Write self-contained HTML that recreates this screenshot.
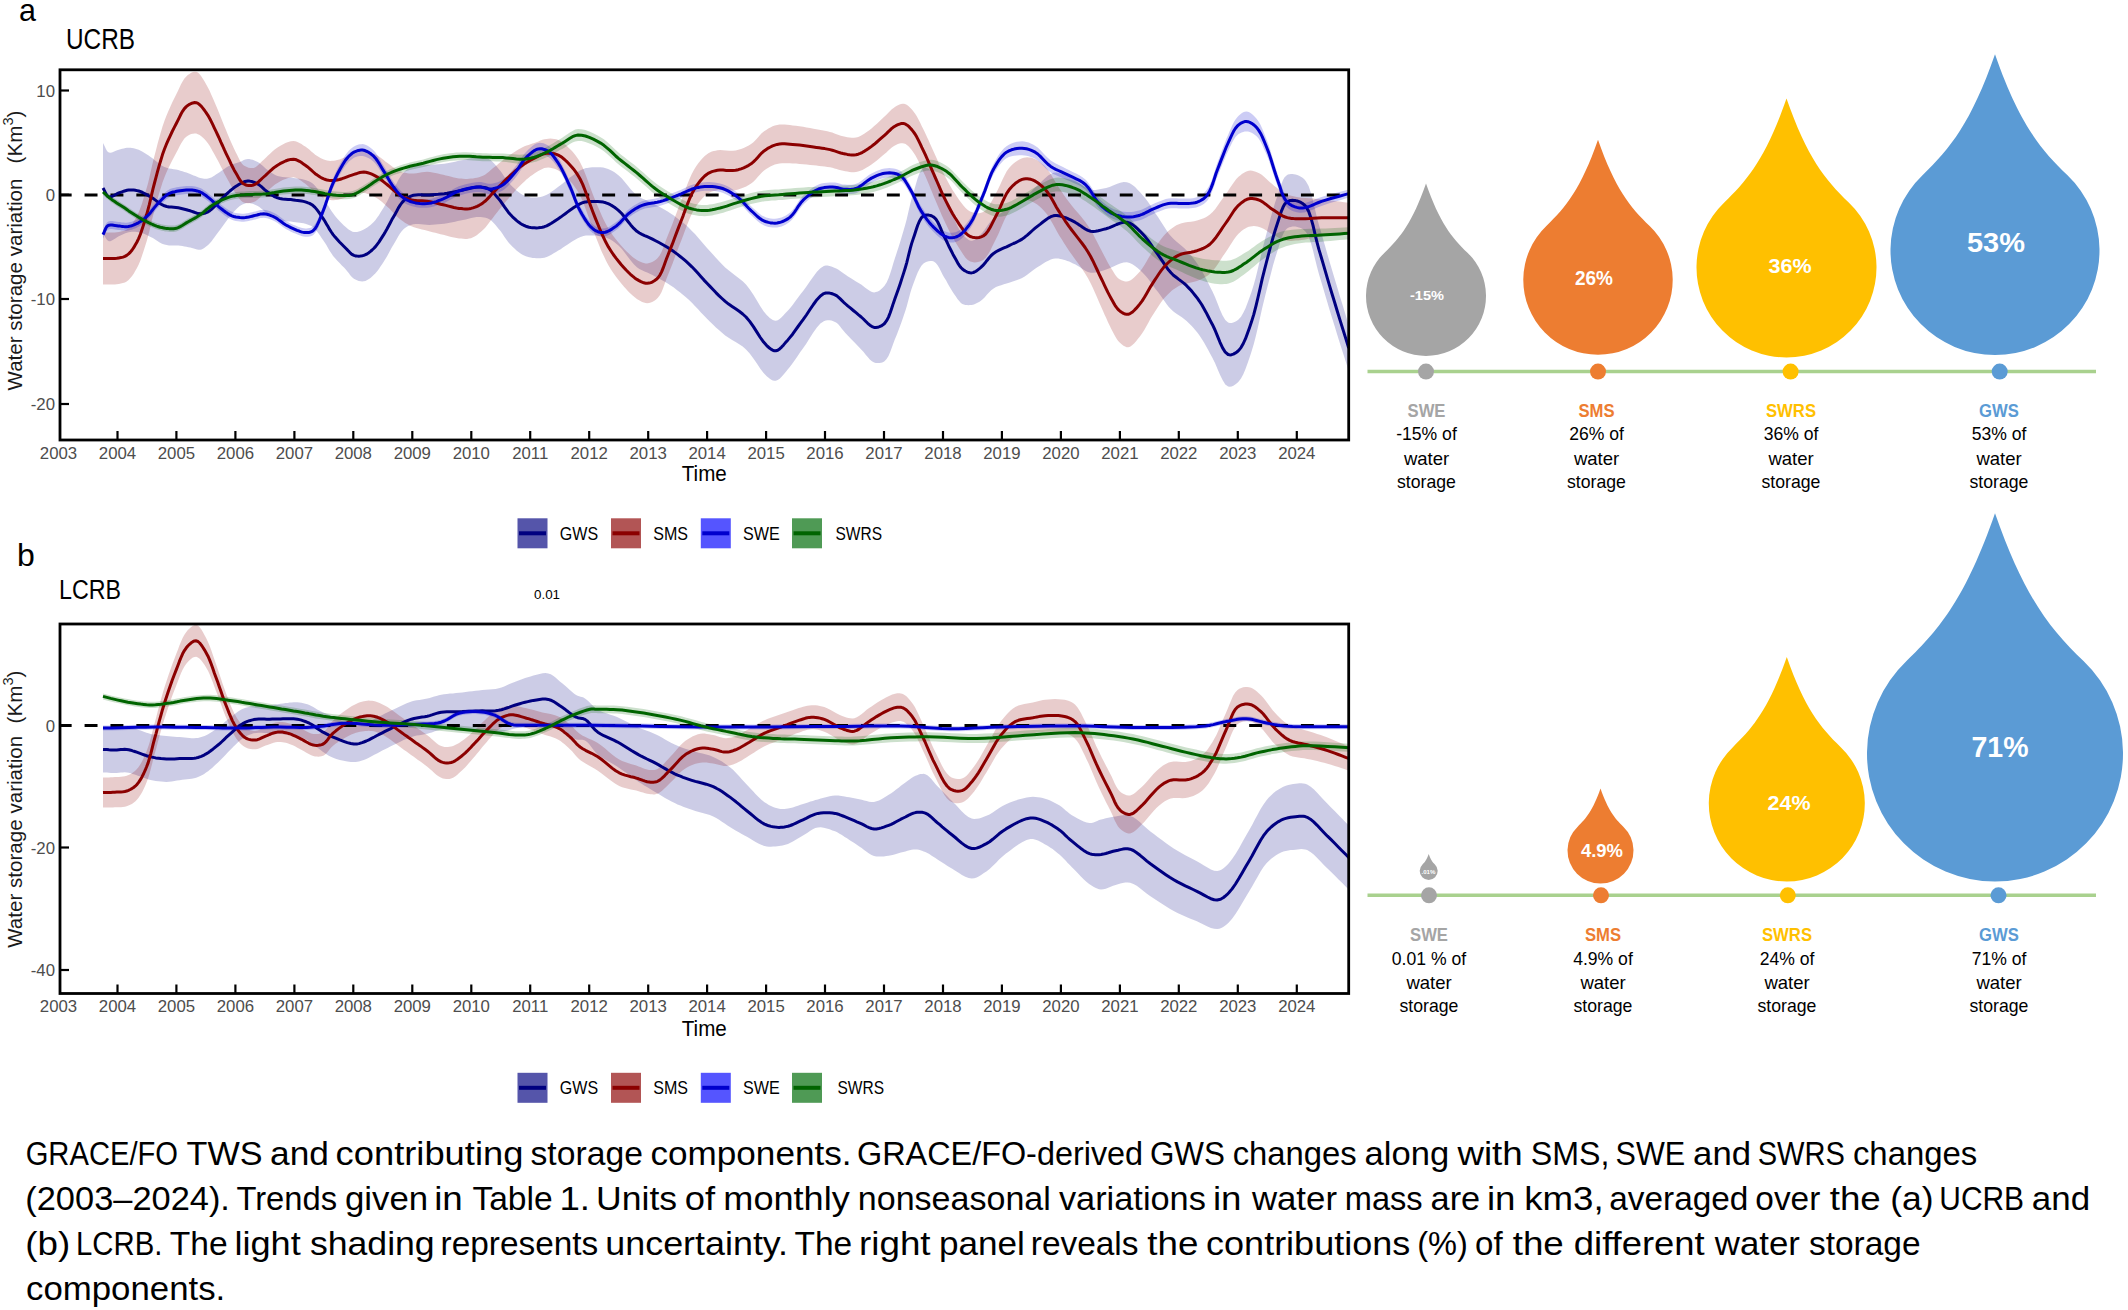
<!DOCTYPE html>
<html><head><meta charset="utf-8"><title>GRACE/FO storage components</title>
<style>html,body{margin:0;padding:0;background:#fff;}body{width:2128px;height:1310px;position:relative;overflow:hidden;font-family:"Liberation Sans", sans-serif;}</style>
</head><body>
<svg width="2128" height="1310" viewBox="0 0 2128 1310" style="position:absolute;left:0;top:0" font-family='"Liberation Sans", sans-serif'>
<rect width="2128" height="1310" fill="#fff"/>
<text x="19" y="21" font-size="30.5" fill="#000" text-anchor="start" font-weight="normal" >a</text>
<text x="66" y="48.6" font-size="28.8" fill="#000" text-anchor="start" font-weight="normal" textLength="69" lengthAdjust="spacingAndGlyphs" >UCRB</text>
<text x="17" y="566" font-size="32" fill="#000" text-anchor="start" font-weight="normal" >b</text>
<text x="59" y="599" font-size="27" fill="#000" text-anchor="start" font-weight="normal" textLength="62" lengthAdjust="spacingAndGlyphs" >LCRB</text>
<clipPath id="ca"><rect x="60" y="69.8" width="1288.7" height="370.2"/></clipPath>
<g clip-path="url(#ca)">
<path d="M103.0,143.0 L103.9,144.7 L104.8,146.6 L105.7,148.6 L106.6,150.3 L107.7,151.7 L108.9,152.5 L110.3,152.7 L111.9,152.4 L113.6,151.8 L115.3,151.0 L117.1,150.2 L118.8,149.7 L120.4,149.3 L122.1,148.8 L123.7,148.4 L125.4,148.1 L127.0,147.8 L128.7,147.7 L130.4,147.8 L132.0,148.0 L133.7,148.3 L135.4,148.7 L137.0,149.2 L138.7,149.8 L140.7,150.7 L142.6,151.7 L144.6,152.9 L146.6,154.2 L148.6,155.6 L150.6,156.9 L152.8,158.6 L155.1,160.4 L157.4,162.2 L159.7,164.0 L162.0,165.7 L164.4,167.0 L166.7,167.8 L169.0,168.4 L171.4,168.8 L173.7,169.2 L176.0,169.5 L178.3,170.1 L180.4,170.7 L182.4,171.3 L184.4,172.0 L186.4,172.6 L188.3,173.3 L190.2,174.0 L191.9,174.7 L193.6,175.4 L195.3,176.1 L197.0,176.8 L198.6,177.4 L200.2,177.9 L201.6,178.2 L202.9,178.5 L204.2,178.7 L205.5,178.8 L206.8,178.8 L208.1,178.6 L209.7,178.1 L211.3,177.4 L213.0,176.4 L214.6,175.4 L216.3,174.3 L218.0,173.2 L219.9,172.0 L221.9,170.6 L223.9,169.2 L225.9,167.8 L227.9,166.5 L229.9,165.5 L231.6,164.7 L233.3,164.1 L234.9,163.5 L236.6,163.0 L238.2,162.5 L239.8,161.9 L241.2,161.4 L242.5,160.7 L243.8,160.1 L245.1,159.6 L246.4,159.2 L247.8,159.0 L249.4,159.1 L251.0,159.4 L252.7,159.8 L254.4,160.5 L256.1,161.2 L257.7,162.0 L259.4,163.1 L261.1,164.4 L262.7,165.8 L264.3,167.3 L265.9,168.7 L267.6,170.0 L269.2,171.1 L270.7,172.2 L272.3,173.3 L273.9,174.3 L275.7,175.2 L277.5,175.9 L279.9,176.5 L282.5,176.9 L285.3,177.2 L288.1,177.4 L290.8,177.6 L293.4,177.9 L295.5,178.2 L297.6,178.5 L299.6,178.8 L301.6,179.1 L303.5,179.5 L305.3,180.0 L306.8,180.5 L308.1,181.0 L309.5,181.6 L310.8,182.3 L312.0,183.1 L313.3,184.1 L315.0,185.8 L316.7,187.8 L318.4,190.0 L320.0,192.4 L321.6,194.8 L323.2,197.2 L324.9,199.8 L326.4,202.5 L328.0,205.3 L329.6,208.0 L331.3,210.8 L333.1,213.3 L335.1,215.9 L337.2,218.4 L339.5,220.9 L341.7,223.3 L343.9,225.4 L346.0,227.2 L347.4,228.4 L348.6,229.4 L349.9,230.3 L351.2,231.1 L352.5,231.7 L353.9,232.1 L355.5,232.1 L357.1,231.9 L358.8,231.5 L360.5,230.9 L362.2,230.2 L363.8,229.5 L365.5,228.5 L367.2,227.5 L368.9,226.3 L370.5,224.9 L372.1,223.5 L373.7,221.9 L375.5,219.9 L377.2,217.6 L378.9,215.2 L380.5,212.6 L382.1,210.0 L383.7,207.4 L385.4,204.5 L387.1,201.4 L388.7,198.2 L390.3,195.1 L391.9,191.9 L393.6,188.9 L395.2,186.0 L396.8,183.0 L398.3,180.0 L400.0,177.2 L401.7,174.7 L403.5,172.5 L405.0,171.1 L406.5,169.8 L408.1,168.8 L409.8,167.8 L411.5,167.0 L413.4,166.3 L415.8,165.7 L418.3,165.4 L421.0,165.2 L423.8,165.2 L426.5,165.1 L429.3,164.9 L432.2,164.7 L435.2,164.5 L438.2,164.3 L441.2,164.0 L444.2,163.7 L447.1,163.3 L449.8,162.8 L452.5,162.3 L455.1,161.7 L457.7,161.1 L460.4,160.6 L463.0,160.0 L465.7,159.4 L468.4,158.7 L471.2,158.1 L473.9,157.5 L476.5,157.1 L478.9,157.0 L480.7,157.0 L482.4,157.2 L484.1,157.4 L485.7,157.8 L487.3,158.3 L488.8,159.0 L490.6,160.1 L492.2,161.6 L493.9,163.2 L495.5,165.1 L497.1,167.0 L498.7,168.9 L500.7,171.3 L502.6,174.1 L504.5,176.9 L506.5,179.7 L508.5,182.4 L510.6,184.8 L512.5,186.8 L514.5,188.6 L516.4,190.4 L518.5,192.1 L520.5,193.5 L522.5,194.7 L524.1,195.5 L525.8,196.2 L527.4,196.7 L529.1,197.1 L530.8,197.4 L532.5,197.5 L534.4,197.6 L536.4,197.5 L538.4,197.3 L540.4,196.9 L542.4,196.4 L544.4,195.7 L546.7,194.7 L549.1,193.4 L551.4,191.8 L553.7,190.2 L556.0,188.5 L558.3,186.8 L560.7,185.1 L563.0,183.2 L565.3,181.3 L567.7,179.4 L569.9,177.6 L572.1,176.0 L573.8,174.7 L575.5,173.5 L577.2,172.3 L578.8,171.2 L580.5,170.2 L582.1,169.4 L583.4,168.9 L584.7,168.5 L585.9,168.1 L587.2,167.9 L588.5,167.7 L590.0,167.5 L592.3,167.3 L594.9,167.2 L597.7,167.2 L600.5,167.3 L603.2,167.6 L605.8,168.2 L608.1,168.9 L610.3,169.9 L612.4,171.0 L614.5,172.3 L616.5,173.8 L618.7,175.5 L621.7,178.2 L624.6,181.7 L627.7,185.4 L630.7,189.2 L633.8,192.6 L636.9,195.4 L639.4,197.1 L642.0,198.5 L644.6,199.6 L647.2,200.7 L649.8,201.8 L652.5,203.1 L655.5,204.7 L658.5,206.3 L661.6,208.0 L664.7,209.7 L667.7,211.6 L670.7,213.5 L673.8,215.6 L676.9,217.9 L679.9,220.2 L682.9,222.6 L685.9,225.1 L688.8,227.8 L691.9,230.9 L695.0,234.1 L698.0,237.6 L701.0,241.0 L704.0,244.5 L707.0,247.9 L710.0,251.2 L713.0,254.5 L715.9,257.8 L718.9,261.1 L722.0,264.3 L725.2,267.4 L728.6,270.3 L732.1,273.0 L735.6,275.7 L739.2,278.4 L742.7,281.3 L746.0,284.6 L749.7,289.3 L753.4,294.8 L756.9,300.6 L760.3,306.2 L763.6,311.2 L766.7,314.9 L768.3,316.4 L769.8,317.9 L771.3,319.1 L772.8,320.0 L774.3,320.6 L775.8,320.8 L777.7,320.3 L779.6,319.1 L781.6,317.3 L783.5,315.3 L785.5,313.1 L787.5,311.0 L790.0,308.2 L792.6,305.0 L795.1,301.6 L797.7,298.1 L800.3,294.5 L803.1,291.0 L806.4,286.6 L809.8,281.5 L813.4,276.5 L816.9,271.8 L820.4,268.2 L823.8,266.0 L825.7,265.6 L827.6,265.6 L829.5,265.9 L831.4,266.5 L833.2,267.2 L835.0,267.9 L836.8,268.7 L838.5,269.8 L840.2,271.0 L842.0,272.2 L843.7,273.5 L845.6,274.8 L848.0,276.4 L850.6,278.0 L853.3,279.7 L856.0,281.4 L858.6,283.0 L861.2,284.6 L863.4,286.2 L865.6,287.9 L867.8,289.6 L870.0,291.0 L872.0,292.0 L874.1,292.4 L875.9,292.1 L877.8,291.4 L879.6,290.4 L881.3,289.1 L882.9,287.5 L884.5,285.7 L886.6,282.4 L888.5,278.2 L890.2,273.5 L891.8,268.4 L893.3,263.3 L894.9,258.3 L896.7,252.8 L898.5,247.2 L900.3,241.5 L902.0,235.7 L903.7,230.0 L905.3,224.4 L906.7,219.2 L907.9,214.0 L909.1,208.8 L910.3,203.7 L911.6,198.6 L913.1,193.7 L914.6,188.8 L916.1,183.4 L917.7,178.1 L919.4,173.4 L921.3,169.9 L923.5,168.0 L925.1,167.7 L926.8,168.0 L928.6,168.8 L930.5,169.9 L932.2,171.2 L933.8,172.7 L935.9,175.4 L937.7,178.9 L939.4,182.9 L941.0,187.2 L942.5,191.5 L944.2,195.6 L946.0,199.6 L947.7,203.8 L949.4,208.1 L951.2,212.2 L952.9,216.2 L954.6,219.8 L955.9,222.5 L957.1,225.2 L958.3,227.7 L959.6,230.0 L960.9,232.2 L962.4,234.1 L963.8,235.7 L965.3,237.2 L966.8,238.6 L968.4,239.8 L970.0,240.5 L971.5,240.8 L973.0,240.6 L974.5,239.8 L976.0,238.7 L977.5,237.4 L979.1,235.9 L980.6,234.4 L982.7,232.2 L984.8,229.5 L986.8,226.6 L989.0,223.6 L991.2,220.8 L993.6,218.4 L996.0,216.4 L998.6,214.7 L1001.2,213.1 L1003.9,211.5 L1006.6,210.0 L1009.1,208.5 L1011.3,207.1 L1013.5,205.8 L1015.7,204.6 L1017.8,203.3 L1019.9,201.8 L1022.1,200.2 L1024.7,198.0 L1027.3,195.6 L1029.8,192.9 L1032.4,190.2 L1035.1,187.6 L1037.7,185.2 L1040.3,182.8 L1042.9,180.3 L1045.6,177.8 L1048.2,175.6 L1050.8,173.9 L1053.3,172.8 L1055.1,172.5 L1056.8,172.6 L1058.5,172.9 L1060.2,173.4 L1061.9,174.0 L1063.6,174.5 L1065.5,175.2 L1067.3,176.0 L1069.2,176.9 L1071.1,177.9 L1073.0,179.0 L1075.0,180.1 L1077.5,181.7 L1080.0,183.5 L1082.6,185.5 L1085.2,187.3 L1087.9,188.8 L1090.6,189.7 L1093.1,190.0 L1095.6,190.0 L1098.2,189.6 L1100.7,189.1 L1103.4,188.4 L1106.1,187.9 L1109.5,186.9 L1113.0,185.5 L1116.6,184.1 L1120.2,182.8 L1123.7,182.1 L1126.9,182.2 L1129.8,183.2 L1132.5,184.9 L1135.1,187.1 L1137.6,189.7 L1140.1,192.3 L1142.5,195.0 L1145.3,198.3 L1147.9,201.8 L1150.5,205.6 L1153.0,209.5 L1155.5,213.4 L1158.0,217.1 L1160.2,220.4 L1162.3,223.7 L1164.4,227.0 L1166.5,230.3 L1168.6,233.4 L1171.0,236.3 L1173.4,238.8 L1176.1,241.2 L1178.8,243.5 L1181.5,245.7 L1184.1,248.0 L1186.6,250.4 L1188.9,253.0 L1191.2,255.6 L1193.3,258.3 L1195.4,261.1 L1197.5,264.0 L1199.5,267.0 L1201.8,270.7 L1203.9,274.6 L1206.1,278.7 L1208.2,282.9 L1210.3,287.2 L1212.5,291.5 L1215.0,297.0 L1217.5,303.3 L1220.0,309.7 L1222.6,315.5 L1225.3,320.0 L1228.1,322.5 L1229.8,323.0 L1231.6,323.0 L1233.3,322.6 L1235.1,321.8 L1236.9,320.8 L1238.5,319.5 L1241.0,316.7 L1243.3,312.8 L1245.5,308.2 L1247.5,303.0 L1249.5,297.6 L1251.4,292.2 L1253.8,284.6 L1256.0,276.4 L1258.1,267.7 L1260.2,258.7 L1262.2,249.9 L1264.4,241.4 L1266.5,233.5 L1268.7,225.3 L1270.8,217.3 L1273.0,209.6 L1275.2,202.3 L1277.4,195.9 L1278.8,191.7 L1280.2,187.5 L1281.6,183.6 L1283.0,180.1 L1284.6,177.3 L1286.5,175.4 L1287.9,174.6 L1289.3,174.2 L1290.8,174.0 L1292.4,174.0 L1294.0,174.2 L1295.5,174.6 L1297.3,175.1 L1299.1,175.8 L1300.9,176.7 L1302.6,177.8 L1304.3,179.3 L1305.9,181.2 L1308.6,186.1 L1310.9,192.7 L1313.0,200.4 L1314.9,208.7 L1316.8,217.0 L1318.9,224.7 L1321.1,232.1 L1323.2,239.4 L1325.3,246.8 L1327.4,254.2 L1329.6,261.8 L1331.9,269.6 L1334.6,278.5 L1337.3,287.6 L1340.1,296.9 L1343.0,306.3 L1345.9,315.7 L1348.7,325.0 L1348.7,371.0 L1345.9,362.0 L1343.0,352.9 L1340.1,343.9 L1337.3,334.9 L1334.6,326.0 L1331.9,317.4 L1329.6,309.9 L1327.4,302.6 L1325.3,295.4 L1323.2,288.3 L1321.1,281.2 L1318.9,274.1 L1316.9,266.5 L1314.9,258.5 L1313.0,250.4 L1310.9,242.9 L1308.6,236.6 L1305.9,232.0 L1304.3,230.4 L1302.6,229.1 L1300.8,228.1 L1299.0,227.4 L1297.2,226.9 L1295.5,226.6 L1294.0,226.5 L1292.4,226.6 L1290.8,226.9 L1289.3,227.3 L1287.8,228.1 L1286.5,229.0 L1284.6,231.3 L1283.0,234.4 L1281.5,238.1 L1280.2,242.3 L1278.8,246.7 L1277.4,251.1 L1275.2,258.0 L1273.0,265.6 L1270.9,273.7 L1268.7,282.1 L1266.5,290.6 L1264.4,299.0 L1262.2,307.9 L1260.2,317.1 L1258.1,326.4 L1256.0,335.5 L1253.8,344.1 L1251.4,352.0 L1249.5,357.8 L1247.5,363.6 L1245.5,369.1 L1243.3,374.2 L1241.0,378.4 L1238.5,381.7 L1236.9,383.2 L1235.2,384.6 L1233.4,385.7 L1231.6,386.4 L1229.8,386.7 L1228.1,386.5 L1225.3,384.4 L1222.7,380.2 L1220.1,374.9 L1217.5,368.9 L1215.0,363.0 L1212.5,357.9 L1210.3,354.0 L1208.2,350.0 L1206.1,346.2 L1204.0,342.5 L1201.8,338.9 L1199.5,335.6 L1197.5,332.8 L1195.4,330.3 L1193.3,327.8 L1191.2,325.5 L1188.9,323.2 L1186.6,321.0 L1184.1,318.9 L1181.5,317.0 L1178.8,315.2 L1176.1,313.4 L1173.4,311.5 L1171.0,309.3 L1168.6,306.8 L1166.5,304.0 L1164.4,301.1 L1162.3,298.1 L1160.2,295.1 L1158.0,292.1 L1155.5,288.9 L1153.0,285.4 L1150.5,281.9 L1147.9,278.5 L1145.3,275.4 L1142.5,272.6 L1140.1,270.3 L1137.6,268.1 L1135.0,266.0 L1132.4,264.2 L1129.7,262.9 L1126.9,262.2 L1123.6,262.4 L1120.2,263.4 L1116.6,264.9 L1113.0,266.7 L1109.5,268.3 L1106.1,269.5 L1103.4,270.4 L1100.8,271.2 L1098.2,272.0 L1095.6,272.5 L1093.1,272.8 L1090.6,272.7 L1087.9,271.9 L1085.3,270.7 L1082.6,269.1 L1080.0,267.3 L1077.5,265.7 L1075.0,264.3 L1073.0,263.4 L1071.1,262.5 L1069.2,261.6 L1067.3,260.9 L1065.5,260.2 L1063.6,259.7 L1061.9,259.3 L1060.2,258.9 L1058.5,258.6 L1056.8,258.5 L1055.1,258.5 L1053.3,258.8 L1050.8,259.5 L1048.3,260.7 L1045.6,262.1 L1042.9,263.7 L1040.3,265.4 L1037.7,267.0 L1035.1,268.8 L1032.4,270.7 L1029.8,272.7 L1027.2,274.7 L1024.7,276.4 L1022.1,278.0 L1019.9,279.0 L1017.8,279.8 L1015.7,280.6 L1013.5,281.2 L1011.3,281.9 L1009.1,282.7 L1006.6,283.6 L1003.9,284.3 L1001.2,285.2 L998.6,286.0 L996.0,287.1 L993.6,288.4 L991.2,290.2 L989.0,292.4 L986.8,294.8 L984.8,297.2 L982.7,299.3 L980.6,301.0 L979.1,302.0 L977.5,302.8 L976.0,303.6 L974.5,304.2 L973.0,304.7 L971.5,305.0 L970.0,305.1 L968.4,305.2 L966.8,305.1 L965.3,304.9 L963.8,304.5 L962.4,303.9 L960.9,302.9 L959.6,301.6 L958.3,300.1 L957.1,298.4 L955.9,296.6 L954.6,294.8 L952.9,292.2 L951.2,289.4 L949.4,286.4 L947.7,283.4 L946.0,280.3 L944.2,277.4 L942.5,274.5 L940.9,271.3 L939.3,268.1 L937.6,265.2 L935.8,262.9 L933.8,261.5 L932.2,261.1 L930.4,261.0 L928.6,261.2 L926.8,261.8 L925.1,262.6 L923.5,263.6 L921.4,265.8 L919.5,268.9 L917.7,272.5 L916.1,276.5 L914.6,280.6 L913.1,284.5 L911.6,288.7 L910.3,293.0 L909.1,297.5 L907.9,302.0 L906.7,306.5 L905.3,311.0 L903.7,315.7 L902.1,320.6 L900.3,325.4 L898.5,330.2 L896.7,334.9 L894.9,339.3 L893.3,343.5 L891.8,347.8 L890.2,352.0 L888.5,355.9 L886.6,359.1 L884.5,361.3 L882.9,362.2 L881.2,362.8 L879.4,363.1 L877.6,363.1 L875.8,362.9 L874.1,362.4 L871.9,361.2 L869.8,359.4 L867.7,357.0 L865.5,354.5 L863.4,351.8 L861.2,349.4 L858.6,346.7 L856.0,344.0 L853.3,341.2 L850.6,338.4 L848.0,335.7 L845.6,333.2 L843.7,331.1 L842.0,328.9 L840.3,326.7 L838.7,324.8 L836.9,323.1 L835.0,321.9 L833.3,321.2 L831.4,320.6 L829.6,320.3 L827.6,320.2 L825.7,320.5 L823.8,321.2 L820.4,323.6 L816.9,327.6 L813.3,332.6 L809.8,338.1 L806.4,343.5 L803.1,348.2 L800.3,352.0 L797.7,355.9 L795.1,359.7 L792.6,363.3 L790.0,366.7 L787.5,369.8 L785.5,372.2 L783.6,374.5 L781.6,376.8 L779.7,378.7 L777.7,380.1 L775.8,380.8 L774.3,380.8 L772.8,380.5 L771.3,379.8 L769.8,378.8 L768.3,377.6 L766.7,376.3 L763.6,373.1 L760.3,368.7 L756.9,363.6 L753.4,358.4 L749.7,353.5 L746.0,349.4 L742.7,346.6 L739.2,344.2 L735.6,342.0 L732.1,340.0 L728.6,337.8 L725.2,335.4 L722.0,332.8 L718.9,330.1 L715.9,327.4 L712.9,324.5 L710.0,321.7 L707.0,318.7 L703.9,315.6 L700.9,312.4 L697.9,309.1 L694.9,305.9 L691.9,302.8 L688.8,299.8 L685.9,297.2 L682.9,294.7 L679.9,292.2 L676.8,289.9 L673.8,287.6 L670.7,285.5 L667.7,283.6 L664.7,281.7 L661.6,280.0 L658.5,278.3 L655.5,276.7 L652.5,275.1 L649.8,273.8 L647.2,272.6 L644.6,271.5 L642.0,270.3 L639.4,268.9 L636.9,267.2 L633.8,264.2 L630.7,260.5 L627.6,256.5 L624.6,252.5 L621.7,248.8 L618.7,245.7 L616.6,243.9 L614.5,242.3 L612.4,240.8 L610.3,239.5 L608.1,238.4 L605.8,237.4 L603.3,236.7 L600.5,236.2 L597.7,235.8 L595.0,235.6 L592.4,235.5 L590.0,235.5 L588.5,235.5 L587.2,235.5 L585.9,235.6 L584.7,235.8 L583.4,236.0 L582.1,236.4 L580.5,237.0 L578.9,237.7 L577.2,238.6 L575.6,239.5 L573.8,240.6 L572.1,241.6 L569.9,243.0 L567.7,244.4 L565.3,246.0 L563.0,247.6 L560.7,249.2 L558.3,250.6 L556.0,251.9 L553.7,253.3 L551.4,254.7 L549.0,255.9 L546.7,256.9 L544.4,257.7 L542.4,258.1 L540.4,258.3 L538.4,258.3 L536.4,258.3 L534.4,258.1 L532.5,257.9 L530.8,257.6 L529.1,257.2 L527.4,256.8 L525.8,256.2 L524.1,255.5 L522.5,254.7 L520.5,253.5 L518.5,252.0 L516.5,250.4 L514.5,248.6 L512.5,246.8 L510.6,244.8 L508.5,242.4 L506.5,239.7 L504.5,236.9 L502.6,234.1 L500.7,231.3 L498.7,228.9 L497.1,227.0 L495.5,225.1 L493.9,223.2 L492.2,221.6 L490.6,220.1 L488.8,219.0 L487.3,218.3 L485.7,217.8 L484.1,217.4 L482.4,217.2 L480.7,217.0 L478.9,217.0 L476.5,217.1 L473.9,217.5 L471.2,218.1 L468.4,218.7 L465.7,219.4 L463.0,220.0 L460.4,220.6 L457.7,221.1 L455.1,221.7 L452.5,222.3 L449.8,222.8 L447.1,223.3 L444.2,223.7 L441.2,224.0 L438.2,224.3 L435.2,224.6 L432.2,224.7 L429.3,224.9 L426.5,224.8 L423.8,224.6 L421.0,224.3 L418.3,224.0 L415.8,224.0 L413.4,224.3 L411.6,224.8 L409.8,225.4 L408.1,226.1 L406.5,227.0 L405.0,228.1 L403.5,229.3 L401.7,231.2 L400.0,233.6 L398.3,236.2 L396.8,239.0 L395.2,241.8 L393.6,244.5 L391.9,247.3 L390.3,250.3 L388.7,253.2 L387.1,256.2 L385.4,259.1 L383.7,261.8 L382.1,264.2 L380.5,266.6 L378.9,269.0 L377.2,271.2 L375.5,273.3 L373.7,275.1 L372.1,276.5 L370.5,277.9 L368.9,279.1 L367.2,280.1 L365.5,280.9 L363.8,281.3 L362.2,281.4 L360.5,281.3 L358.7,280.9 L357.0,280.3 L355.4,279.6 L353.9,278.7 L352.4,277.6 L351.1,276.3 L349.9,274.8 L348.7,273.1 L347.4,271.4 L346.0,269.8 L344.0,267.6 L341.8,265.4 L339.6,263.1 L337.3,260.8 L335.1,258.3 L333.1,255.9 L331.3,253.3 L329.6,250.7 L328.0,248.0 L326.5,245.3 L324.9,242.7 L323.2,240.2 L321.6,237.9 L320.0,235.5 L318.4,233.2 L316.7,231.0 L315.0,229.1 L313.3,227.5 L312.0,226.6 L310.8,225.8 L309.5,225.2 L308.1,224.7 L306.8,224.2 L305.3,223.8 L303.5,223.3 L301.6,223.0 L299.6,222.7 L297.6,222.4 L295.5,222.2 L293.4,221.9 L290.8,221.6 L288.1,221.4 L285.3,221.2 L282.5,221.0 L279.9,220.5 L277.5,219.9 L275.7,219.2 L273.9,218.3 L272.3,217.3 L270.7,216.2 L269.2,215.1 L267.6,214.0 L265.9,212.7 L264.3,211.3 L262.7,209.8 L261.1,208.4 L259.4,207.1 L257.7,206.0 L256.1,205.2 L254.4,204.5 L252.7,203.8 L251.0,203.4 L249.4,203.1 L247.8,203.0 L246.4,203.1 L245.1,203.5 L243.7,203.9 L242.4,204.5 L241.1,205.2 L239.8,206.1 L238.1,207.4 L236.5,208.9 L234.8,210.7 L233.2,212.6 L231.6,214.5 L229.9,216.5 L227.9,219.0 L225.9,221.7 L223.9,224.5 L221.9,227.3 L219.9,230.0 L218.0,232.6 L216.3,234.8 L214.7,237.1 L213.0,239.3 L211.4,241.4 L209.8,243.3 L208.1,245.0 L206.8,246.1 L205.5,247.1 L204.3,248.0 L203.0,248.8 L201.6,249.4 L200.2,249.7 L198.6,249.8 L197.0,249.5 L195.4,249.1 L193.7,248.6 L191.9,248.0 L190.2,247.6 L188.3,247.2 L186.4,246.8 L184.4,246.5 L182.4,246.1 L180.4,245.8 L178.3,245.5 L176.0,245.4 L173.7,245.4 L171.4,245.4 L169.0,245.4 L166.7,245.1 L164.4,244.6 L162.0,243.7 L159.7,242.5 L157.4,241.0 L155.1,239.5 L152.9,238.1 L150.6,236.9 L148.6,235.9 L146.6,235.0 L144.6,234.1 L142.6,233.3 L140.6,232.7 L138.7,232.2 L137.0,231.9 L135.3,231.8 L133.6,231.8 L132.0,231.8 L130.3,232.0 L128.7,232.3 L127.0,232.7 L125.4,233.3 L123.7,234.0 L122.1,234.8 L120.4,235.5 L118.8,236.3 L117.1,237.3 L115.3,238.4 L113.6,239.6 L111.9,240.6 L110.3,241.2 L108.9,241.3 L107.7,240.6 L106.7,239.5 L105.7,237.9 L104.8,236.2 L103.9,234.5 L103.0,233.0 Z" fill="#000080" fill-opacity="0.2" stroke="none"/>
<path d="M103.0,232.4 L105.0,232.4 L106.9,232.5 L108.9,232.6 L110.9,232.6 L112.8,232.6 L114.8,232.4 L116.8,232.2 L118.9,231.9 L120.9,231.6 L123.0,231.1 L124.9,230.4 L126.7,229.4 L128.6,227.9 L130.4,226.1 L132.1,224.0 L133.7,221.7 L135.2,219.2 L136.7,216.5 L138.6,212.5 L140.4,208.1 L142.1,203.3 L143.6,198.3 L145.1,193.2 L146.6,188.2 L148.1,183.0 L149.4,177.6 L150.6,172.2 L151.8,166.7 L153.1,161.2 L154.5,155.7 L156.0,149.9 L157.5,144.1 L159.1,138.2 L160.8,132.3 L162.5,126.6 L164.4,121.1 L166.2,116.3 L168.2,111.6 L170.2,107.1 L172.2,102.6 L174.3,98.3 L176.3,94.3 L177.9,90.9 L179.5,87.5 L181.0,84.3 L182.7,81.3 L184.4,78.6 L186.3,76.5 L187.8,75.1 L189.5,73.9 L191.2,72.8 L192.9,72.1 L194.6,71.7 L196.2,71.8 L198.0,72.6 L199.7,74.3 L201.4,76.5 L203.0,79.0 L204.6,81.6 L206.1,84.2 L207.9,87.4 L209.6,90.8 L211.2,94.4 L212.8,98.1 L214.4,101.8 L216.0,105.6 L217.7,109.6 L219.4,113.7 L221.0,117.8 L222.7,121.9 L224.3,126.0 L226.0,130.1 L227.6,133.9 L229.3,137.9 L230.9,141.7 L232.6,145.5 L234.2,149.1 L235.9,152.4 L237.2,155.0 L238.4,157.5 L239.6,159.9 L240.8,162.0 L242.2,163.9 L243.8,165.4 L245.3,166.3 L246.9,167.1 L248.6,167.7 L250.4,168.0 L252.1,168.1 L253.7,167.9 L255.4,167.2 L257.1,166.1 L258.7,164.6 L260.3,163.0 L262.0,161.3 L263.7,159.7 L265.8,157.7 L268.0,155.6 L270.3,153.4 L272.6,151.2 L275.0,149.2 L277.5,147.5 L280.0,146.0 L282.7,144.5 L285.4,143.1 L288.2,142.0 L290.9,141.3 L293.4,141.1 L295.5,141.3 L297.5,142.0 L299.5,143.0 L301.5,144.1 L303.4,145.4 L305.3,146.6 L307.3,148.0 L309.3,149.6 L311.3,151.4 L313.3,153.1 L315.2,154.7 L317.2,156.0 L318.9,157.0 L320.5,157.9 L322.1,158.8 L323.8,159.5 L325.4,160.1 L327.1,160.5 L328.7,160.8 L330.3,160.9 L332.0,160.8 L333.6,160.7 L335.3,160.4 L337.1,160.1 L339.4,159.5 L341.9,158.6 L344.4,157.6 L347.0,156.5 L349.5,155.5 L351.9,154.6 L353.9,153.9 L356.0,153.1 L357.9,152.4 L359.9,151.7 L361.8,151.3 L363.8,151.1 L365.8,151.3 L367.8,151.7 L369.8,152.2 L371.8,152.9 L373.8,153.8 L375.7,154.7 L377.7,155.8 L379.7,157.1 L381.7,158.6 L383.7,160.1 L385.6,161.7 L387.6,163.1 L389.6,164.5 L391.5,166.0 L393.5,167.4 L395.5,168.8 L397.5,170.0 L399.5,171.0 L401.4,171.7 L403.3,172.4 L405.3,172.8 L407.3,173.2 L409.3,173.5 L411.4,173.6 L413.9,173.6 L416.5,173.2 L419.2,172.8 L421.9,172.3 L424.6,171.9 L427.3,171.8 L430.0,172.1 L432.6,172.5 L435.3,173.0 L437.9,173.6 L440.6,174.2 L443.2,174.8 L445.9,175.4 L448.5,176.1 L451.2,176.8 L453.9,177.4 L456.5,178.0 L459.0,178.4 L461.1,178.6 L463.1,178.8 L465.1,178.9 L467.1,178.9 L469.0,178.8 L471.0,178.6 L473.0,178.4 L475.0,178.1 L477.0,177.8 L479.0,177.3 L481.0,176.6 L482.9,175.8 L485.0,174.7 L486.9,173.3 L488.9,171.7 L490.8,170.0 L492.8,168.3 L494.8,166.7 L497.1,164.9 L499.3,163.1 L501.7,161.2 L504.0,159.3 L506.3,157.6 L508.7,155.8 L511.0,154.3 L513.3,152.7 L515.6,151.2 L517.9,149.7 L520.2,148.4 L522.5,147.2 L524.5,146.3 L526.5,145.5 L528.5,144.9 L530.4,144.2 L532.4,143.6 L534.4,142.9 L536.4,142.2 L538.4,141.4 L540.3,140.6 L542.3,139.8 L544.3,139.2 L546.3,138.9 L548.3,138.7 L550.3,138.6 L552.4,138.7 L554.4,138.9 L556.4,139.3 L558.3,140.0 L560.4,141.0 L562.5,142.3 L564.5,143.9 L566.5,145.6 L568.4,147.4 L570.2,149.2 L572.0,151.1 L573.7,153.0 L575.3,155.0 L576.9,157.2 L578.5,159.6 L580.1,162.3 L582.7,167.6 L585.2,173.8 L587.8,180.6 L590.3,187.6 L592.9,194.4 L595.4,200.7 L597.5,205.7 L599.6,210.6 L601.6,215.3 L603.8,219.9 L606.0,224.3 L608.4,228.6 L610.8,232.3 L613.3,235.9 L616.0,239.4 L618.7,242.7 L621.3,245.8 L624.0,248.7 L626.1,251.0 L628.3,253.1 L630.4,255.1 L632.6,256.9 L634.7,258.6 L636.9,259.9 L638.6,260.9 L640.4,261.8 L642.1,262.5 L643.9,263.1 L645.6,263.4 L647.3,263.4 L649.1,263.1 L650.9,262.6 L652.7,261.8 L654.4,260.8 L656.1,259.6 L657.7,258.1 L659.8,255.3 L661.6,251.8 L663.2,247.8 L664.8,243.5 L666.4,239.1 L668.1,234.7 L670.2,229.4 L672.4,223.9 L674.5,218.2 L676.7,212.4 L678.9,206.6 L681.1,201.0 L683.2,195.6 L685.2,190.0 L687.3,184.5 L689.4,179.2 L691.6,174.3 L694.0,169.8 L696.0,166.6 L698.1,163.6 L700.3,160.8 L702.5,158.2 L704.7,156.0 L707.0,154.2 L708.7,153.1 L710.3,152.3 L711.9,151.6 L713.7,151.1 L715.5,150.7 L717.4,150.3 L720.1,150.1 L723.1,150.2 L726.3,150.4 L729.5,150.7 L732.6,150.7 L735.6,150.4 L738.3,149.8 L741.0,149.0 L743.7,148.0 L746.2,146.8 L748.7,145.5 L751.1,144.1 L753.4,142.2 L755.6,140.0 L757.7,137.7 L759.8,135.3 L761.9,133.1 L764.1,131.3 L766.2,129.9 L768.3,128.5 L770.4,127.4 L772.6,126.3 L774.8,125.5 L777.1,124.9 L779.6,124.5 L782.1,124.4 L784.6,124.5 L787.3,124.8 L790.0,125.1 L792.7,125.4 L796.0,125.7 L799.5,126.2 L803.1,126.8 L806.6,127.5 L810.1,128.1 L813.5,128.7 L816.4,129.2 L819.2,129.7 L822.0,130.2 L824.7,130.7 L827.4,131.3 L830.0,131.9 L832.3,132.6 L834.5,133.4 L836.6,134.2 L838.7,135.0 L840.8,135.7 L843.0,136.2 L845.2,136.7 L847.3,137.2 L849.5,137.5 L851.7,137.8 L853.9,137.8 L856.0,137.5 L858.2,136.9 L860.4,135.9 L862.5,134.7 L864.6,133.4 L866.7,131.9 L868.9,130.4 L871.5,128.4 L874.2,126.1 L876.9,123.7 L879.5,121.2 L882.1,118.8 L884.5,116.6 L886.4,114.8 L888.1,113.0 L889.8,111.3 L891.5,109.6 L893.2,108.2 L894.9,107.0 L896.4,106.1 L897.9,105.2 L899.5,104.5 L901.0,104.0 L902.5,103.7 L904.0,103.8 L905.6,104.3 L907.1,105.1 L908.7,106.3 L910.2,107.7 L911.7,109.2 L913.1,110.9 L915.0,113.4 L916.8,116.2 L918.5,119.4 L920.2,122.8 L921.8,126.2 L923.5,129.6 L925.3,133.2 L927.0,136.9 L928.7,140.6 L930.4,144.5 L932.1,148.3 L933.8,152.0 L935.5,155.8 L937.2,159.6 L938.9,163.4 L940.6,167.1 L942.3,170.9 L944.2,174.6 L946.2,178.5 L948.3,182.4 L950.4,186.2 L952.6,190.0 L954.9,193.6 L957.2,197.0 L959.2,199.9 L961.3,202.7 L963.4,205.5 L965.6,208.0 L967.8,210.0 L970.2,211.5 L972.3,212.3 L974.5,212.9 L976.7,213.2 L979.0,213.2 L981.2,212.8 L983.2,212.1 L985.7,210.2 L987.9,207.5 L990.0,204.1 L992.1,200.4 L994.1,196.5 L996.1,192.9 L998.3,188.8 L1000.4,184.3 L1002.4,179.8 L1004.5,175.4 L1006.7,171.3 L1009.1,167.9 L1011.1,165.7 L1013.2,163.7 L1015.4,161.9 L1017.7,160.4 L1019.9,159.2 L1022.1,158.3 L1023.8,157.8 L1025.6,157.4 L1027.3,157.3 L1029.0,157.4 L1030.8,157.6 L1032.5,158.1 L1034.7,158.9 L1036.9,160.1 L1039.1,161.5 L1041.3,163.2 L1043.5,165.1 L1045.5,167.1 L1047.9,169.9 L1050.1,173.1 L1052.3,176.7 L1054.4,180.3 L1056.4,183.8 L1058.5,187.0 L1060.2,189.6 L1061.9,192.0 L1063.5,194.4 L1065.1,196.8 L1066.9,199.2 L1068.8,201.8 L1071.7,205.5 L1074.9,209.4 L1078.3,213.3 L1081.8,217.4 L1085.0,221.5 L1088.0,225.7 L1090.5,229.6 L1092.8,233.6 L1094.9,237.7 L1097.0,241.7 L1099.0,245.7 L1101.0,249.5 L1102.8,252.9 L1104.5,256.2 L1106.2,259.5 L1107.9,262.7 L1109.6,265.7 L1111.3,268.5 L1112.6,270.5 L1113.8,272.5 L1115.0,274.4 L1116.3,276.2 L1117.6,277.7 L1119.1,278.9 L1120.5,279.7 L1122.0,280.5 L1123.5,281.0 L1125.1,281.4 L1126.7,281.5 L1128.2,281.3 L1130.2,280.6 L1132.1,279.3 L1134.1,277.6 L1136.1,275.6 L1138.0,273.5 L1139.9,271.4 L1142.2,268.5 L1144.3,265.2 L1146.4,261.7 L1148.5,258.1 L1150.6,254.5 L1152.8,251.1 L1154.9,248.0 L1157.0,244.9 L1159.1,241.8 L1161.3,238.8 L1163.5,236.0 L1165.8,233.5 L1167.8,231.6 L1169.9,229.8 L1172.0,228.2 L1174.1,226.7 L1176.4,225.3 L1178.8,224.2 L1181.6,223.2 L1184.7,222.6 L1187.9,222.1 L1191.0,221.7 L1194.1,221.3 L1197.0,220.5 L1199.3,219.8 L1201.5,219.0 L1203.7,218.2 L1205.8,217.2 L1207.8,216.0 L1209.9,214.6 L1212.6,212.0 L1215.3,208.9 L1217.9,205.3 L1220.5,201.6 L1223.0,197.9 L1225.5,194.5 L1227.7,191.4 L1229.9,188.1 L1232.0,184.9 L1234.1,181.9 L1236.3,179.1 L1238.5,176.8 L1240.2,175.4 L1241.9,174.0 L1243.6,172.9 L1245.3,171.9 L1247.0,171.2 L1248.8,170.8 L1250.5,170.6 L1252.2,170.8 L1254.0,171.2 L1255.7,171.8 L1257.5,172.5 L1259.2,173.3 L1261.4,174.6 L1263.5,176.3 L1265.7,178.3 L1267.8,180.3 L1270.0,182.3 L1272.2,184.1 L1274.3,185.9 L1276.5,187.6 L1278.6,189.3 L1280.8,191.0 L1283.0,192.4 L1285.2,193.7 L1287.2,194.6 L1289.3,195.3 L1291.3,195.8 L1293.5,196.3 L1295.7,196.7 L1298.1,197.2 L1301.6,197.7 L1305.3,198.1 L1309.2,198.3 L1313.3,198.6 L1317.4,198.9 L1321.5,199.3 L1325.9,199.8 L1330.4,200.4 L1335.0,201.0 L1339.6,201.6 L1344.1,202.2 L1348.7,202.8 L1348.7,232.8 L1344.1,233.4 L1339.6,233.9 L1335.0,234.5 L1330.4,235.1 L1325.9,235.7 L1321.5,236.3 L1317.4,237.0 L1313.3,237.8 L1309.3,238.6 L1305.3,239.4 L1301.6,240.0 L1298.1,240.4 L1295.7,240.6 L1293.5,240.8 L1291.4,240.9 L1289.3,240.9 L1287.3,240.7 L1285.2,240.3 L1283.0,239.7 L1280.8,238.8 L1278.6,237.7 L1276.5,236.6 L1274.3,235.4 L1272.2,234.3 L1270.0,233.0 L1267.8,231.6 L1265.6,230.1 L1263.5,228.8 L1261.3,227.7 L1259.2,226.9 L1257.4,226.5 L1255.7,226.2 L1253.9,226.1 L1252.2,226.2 L1250.5,226.4 L1248.8,226.8 L1247.0,227.5 L1245.3,228.4 L1243.5,229.5 L1241.8,230.8 L1240.2,232.2 L1238.5,233.8 L1236.3,236.3 L1234.1,239.2 L1232.0,242.4 L1229.9,245.8 L1227.7,249.2 L1225.5,252.5 L1223.0,256.1 L1220.5,260.0 L1217.9,264.0 L1215.3,267.7 L1212.6,271.1 L1209.9,273.8 L1207.8,275.5 L1205.8,276.8 L1203.7,278.0 L1201.6,279.0 L1199.3,279.9 L1197.0,280.9 L1194.1,281.8 L1191.0,282.6 L1187.9,283.2 L1184.7,284.0 L1181.6,284.8 L1178.8,286.0 L1176.4,287.4 L1174.1,288.9 L1171.9,290.6 L1169.9,292.4 L1167.8,294.4 L1165.8,296.5 L1163.5,299.1 L1161.3,302.1 L1159.1,305.2 L1157.0,308.5 L1154.9,311.8 L1152.8,315.1 L1150.6,318.6 L1148.5,322.4 L1146.4,326.2 L1144.3,329.9 L1142.2,333.3 L1139.9,336.4 L1138.0,338.8 L1136.1,341.2 L1134.1,343.4 L1132.1,345.3 L1130.1,346.7 L1128.2,347.3 L1126.6,347.2 L1125.1,346.6 L1123.5,345.7 L1121.9,344.6 L1120.5,343.2 L1119.1,341.9 L1117.6,340.2 L1116.3,338.3 L1115.0,336.1 L1113.8,333.8 L1112.6,331.4 L1111.3,328.9 L1109.6,325.6 L1107.9,322.0 L1106.3,318.3 L1104.5,314.4 L1102.8,310.5 L1101.0,306.5 L1099.0,302.0 L1097.0,297.3 L1094.9,292.5 L1092.8,287.7 L1090.5,283.0 L1088.0,278.3 L1085.1,273.5 L1081.8,268.6 L1078.4,263.8 L1074.9,259.1 L1071.7,254.6 L1068.8,250.4 L1066.9,247.4 L1065.1,244.7 L1063.5,242.2 L1061.9,239.6 L1060.2,237.0 L1058.5,234.2 L1056.4,230.6 L1054.4,226.8 L1052.3,223.0 L1050.1,219.2 L1047.9,215.6 L1045.5,212.5 L1043.5,210.2 L1041.3,208.1 L1039.1,206.1 L1036.9,204.3 L1034.7,202.9 L1032.5,201.7 L1030.8,201.1 L1029.0,200.5 L1027.3,200.2 L1025.6,200.1 L1023.8,200.2 L1022.1,200.5 L1019.9,201.5 L1017.6,202.9 L1015.4,204.7 L1013.2,206.8 L1011.1,209.2 L1009.1,211.7 L1006.7,215.4 L1004.5,219.8 L1002.4,224.6 L1000.3,229.5 L998.3,234.3 L996.1,238.7 L994.1,242.7 L992.1,246.8 L990.1,250.9 L988.0,254.6 L985.7,257.7 L983.2,259.9 L981.2,261.0 L979.0,261.8 L976.7,262.2 L974.5,262.4 L972.3,262.1 L970.2,261.5 L967.8,260.0 L965.5,257.7 L963.4,254.8 L961.3,251.6 L959.2,248.2 L957.2,245.0 L954.9,241.3 L952.6,237.3 L950.4,233.2 L948.3,229.0 L946.2,224.7 L944.2,220.6 L942.3,216.6 L940.6,212.5 L938.9,208.5 L937.2,204.4 L935.5,200.4 L933.8,196.4 L932.1,192.3 L930.4,188.2 L928.7,184.1 L927.0,180.1 L925.3,176.1 L923.5,172.2 L921.8,168.6 L920.2,164.9 L918.5,161.3 L916.8,157.9 L915.0,154.7 L913.1,151.9 L911.7,150.1 L910.2,148.3 L908.7,146.6 L907.2,145.2 L905.6,144.1 L904.0,143.4 L902.5,143.2 L901.0,143.3 L899.5,143.6 L897.9,144.1 L896.4,144.7 L894.9,145.4 L893.2,146.5 L891.5,147.8 L889.8,149.2 L888.1,150.8 L886.4,152.4 L884.5,154.0 L882.1,156.0 L879.5,158.2 L876.9,160.4 L874.2,162.5 L871.5,164.5 L868.9,166.2 L866.7,167.5 L864.6,168.8 L862.5,169.9 L860.3,170.8 L858.2,171.6 L856.0,172.1 L853.9,172.3 L851.7,172.2 L849.5,172.0 L847.3,171.6 L845.2,171.2 L843.0,170.8 L840.8,170.3 L838.7,169.7 L836.6,169.1 L834.5,168.4 L832.3,167.8 L830.0,167.3 L827.4,166.9 L824.7,166.5 L822.0,166.2 L819.2,165.9 L816.4,165.6 L813.5,165.3 L810.1,164.9 L806.6,164.6 L803.1,164.2 L799.5,163.9 L796.0,163.6 L792.7,163.4 L789.9,163.3 L787.3,163.2 L784.6,163.2 L782.1,163.2 L779.5,163.4 L777.1,163.9 L774.8,164.6 L772.6,165.5 L770.4,166.6 L768.3,167.8 L766.2,169.1 L764.1,170.5 L761.9,172.4 L759.8,174.7 L757.7,177.1 L755.6,179.4 L753.4,181.7 L751.1,183.5 L748.7,185.0 L746.2,186.4 L743.7,187.6 L741.0,188.6 L738.3,189.5 L735.6,190.2 L732.6,190.5 L729.5,190.5 L726.3,190.3 L723.1,190.1 L720.1,190.0 L717.4,190.3 L715.5,190.7 L713.7,191.1 L711.9,191.6 L710.3,192.3 L708.7,193.1 L707.0,194.2 L704.7,196.0 L702.5,198.2 L700.3,200.8 L698.1,203.6 L696.0,206.6 L694.0,209.8 L691.6,214.3 L689.4,219.2 L687.3,224.5 L685.2,230.0 L683.2,235.6 L681.1,241.0 L678.9,246.6 L676.7,252.4 L674.5,258.2 L672.4,263.9 L670.2,269.4 L668.1,274.7 L666.4,279.1 L664.8,283.5 L663.2,287.9 L661.6,291.9 L659.8,295.3 L657.7,298.1 L656.1,299.6 L654.4,300.8 L652.7,301.8 L650.9,302.5 L649.1,303.0 L647.3,303.2 L645.6,303.1 L643.8,302.6 L642.1,301.9 L640.4,301.0 L638.6,300.0 L636.9,298.9 L634.7,297.3 L632.6,295.5 L630.4,293.5 L628.3,291.4 L626.1,289.1 L624.0,286.7 L621.3,283.6 L618.7,280.2 L616.0,276.7 L613.3,273.0 L610.8,269.2 L608.4,265.2 L606.0,260.8 L603.8,256.1 L601.6,251.4 L599.6,246.4 L597.5,241.3 L595.4,236.1 L592.9,229.5 L590.3,222.3 L587.8,215.0 L585.2,207.8 L582.7,201.2 L580.1,195.7 L578.5,192.7 L576.9,190.1 L575.3,187.7 L573.7,185.5 L572.0,183.3 L570.2,181.2 L568.4,179.1 L566.5,177.1 L564.5,175.1 L562.5,173.3 L560.4,171.7 L558.3,170.4 L556.4,169.5 L554.4,168.8 L552.4,168.2 L550.3,167.8 L548.3,167.6 L546.3,167.7 L544.3,168.1 L542.3,168.9 L540.3,169.9 L538.3,171.0 L536.3,172.2 L534.4,173.5 L532.4,174.9 L530.4,176.3 L528.4,177.9 L526.4,179.6 L524.5,181.4 L522.5,183.2 L520.2,185.4 L517.9,187.8 L515.6,190.3 L513.3,192.9 L511.0,195.5 L508.7,198.2 L506.3,200.9 L504.0,203.8 L501.7,206.7 L499.3,209.6 L497.0,212.5 L494.8,215.3 L492.8,217.9 L490.8,220.5 L488.9,223.1 L487.0,225.5 L485.0,227.9 L482.9,230.0 L481.0,231.7 L479.1,233.3 L477.1,234.9 L475.1,236.2 L473.1,237.3 L471.0,238.2 L469.1,238.6 L467.1,238.9 L465.2,238.9 L463.2,238.8 L461.1,238.6 L459.0,238.4 L456.5,238.0 L453.9,237.5 L451.2,236.9 L448.5,236.2 L445.9,235.5 L443.2,234.8 L440.5,234.2 L437.9,233.5 L435.2,232.8 L432.6,232.2 L429.9,231.5 L427.3,230.8 L424.6,230.1 L421.9,229.4 L419.2,228.7 L416.5,228.0 L413.9,227.2 L411.4,226.2 L409.3,225.2 L407.2,224.1 L405.2,222.9 L403.3,221.6 L401.4,220.3 L399.5,218.8 L397.5,217.0 L395.5,215.1 L393.5,213.0 L391.6,210.9 L389.6,208.8 L387.6,206.9 L385.7,205.2 L383.7,203.5 L381.8,201.8 L379.8,200.2 L377.8,198.8 L375.7,197.5 L373.8,196.5 L371.8,195.5 L369.8,194.6 L367.8,193.9 L365.8,193.3 L363.8,193.1 L361.8,193.1 L359.9,193.3 L357.9,193.8 L356.0,194.4 L354.0,195.0 L351.9,195.6 L349.5,196.3 L347.0,197.1 L344.4,198.0 L341.9,198.8 L339.4,199.5 L337.1,199.9 L335.3,200.1 L333.6,200.2 L332.0,200.2 L330.3,200.1 L328.7,199.8 L327.1,199.5 L325.4,198.9 L323.8,198.2 L322.1,197.3 L320.5,196.4 L318.8,195.3 L317.2,194.2 L315.2,192.7 L313.3,190.9 L311.3,189.1 L309.3,187.2 L307.3,185.4 L305.3,183.8 L303.4,182.4 L301.5,181.0 L299.5,179.7 L297.6,178.6 L295.5,177.8 L293.4,177.3 L290.9,177.4 L288.2,178.0 L285.5,178.9 L282.7,180.1 L280.0,181.5 L277.5,182.9 L275.0,184.5 L272.6,186.4 L270.3,188.4 L268.0,190.5 L265.9,192.5 L263.7,194.3 L262.0,195.8 L260.3,197.3 L258.7,198.8 L257.1,200.1 L255.4,201.3 L253.7,202.1 L252.1,202.6 L250.4,203.0 L248.7,203.2 L246.9,203.3 L245.3,203.1 L243.8,202.6 L242.3,201.7 L240.9,200.5 L239.6,199.0 L238.4,197.4 L237.2,195.6 L235.9,193.8 L234.2,191.3 L232.6,188.5 L230.9,185.6 L229.3,182.6 L227.6,179.5 L226.0,176.5 L224.3,173.4 L222.7,170.1 L221.0,166.8 L219.4,163.6 L217.7,160.3 L216.0,157.2 L214.4,154.3 L212.8,151.4 L211.2,148.5 L209.6,145.7 L207.9,143.2 L206.1,141.0 L204.6,139.3 L203.0,137.7 L201.3,136.3 L199.6,135.1 L197.9,134.2 L196.2,133.6 L194.6,133.5 L192.9,133.7 L191.2,134.1 L189.5,134.8 L187.8,135.7 L186.3,136.7 L184.4,138.6 L182.7,140.9 L181.1,143.6 L179.5,146.6 L177.9,149.7 L176.3,152.7 L174.3,156.5 L172.2,160.4 L170.2,164.5 L168.1,168.7 L166.2,173.0 L164.4,177.5 L162.5,182.6 L160.8,188.0 L159.1,193.6 L157.5,199.2 L156.0,204.8 L154.5,210.3 L153.1,215.5 L151.8,220.8 L150.6,226.0 L149.4,231.2 L148.0,236.4 L146.6,241.4 L145.1,246.2 L143.6,251.0 L142.0,255.8 L140.4,260.4 L138.6,264.7 L136.7,268.5 L135.2,271.1 L133.7,273.7 L132.1,276.0 L130.4,278.1 L128.6,279.9 L126.7,281.4 L124.9,282.4 L123.0,283.1 L120.9,283.6 L118.9,283.9 L116.8,284.2 L114.8,284.4 L112.8,284.6 L110.9,284.6 L108.9,284.6 L106.9,284.5 L105.0,284.4 L103.0,284.4 Z" fill="#8B0000" fill-opacity="0.2" stroke="none"/>
<path d="M103.0,230.6 L103.8,229.0 L104.5,227.3 L105.2,225.6 L105.9,224.0 L106.8,222.7 L107.9,221.7 L109.1,221.2 L110.5,221.1 L112.1,221.1 L113.6,221.3 L115.2,221.6 L116.8,221.7 L118.4,221.9 L120.1,222.1 L121.7,222.4 L123.4,222.6 L125.1,222.7 L126.7,222.7 L128.4,222.5 L130.1,222.1 L131.8,221.7 L133.4,221.1 L135.1,220.4 L136.7,219.7 L138.4,218.8 L140.1,217.8 L141.7,216.7 L143.3,215.5 L145.0,214.1 L146.6,212.7 L148.6,210.7 L150.6,208.4 L152.6,205.9 L154.6,203.4 L156.5,201.1 L158.5,198.9 L160.1,197.2 L161.8,195.5 L163.4,193.9 L165.0,192.4 L166.7,191.0 L168.4,189.9 L170.0,189.1 L171.6,188.5 L173.2,188.0 L174.9,187.7 L176.6,187.3 L178.3,187.0 L180.2,186.7 L182.2,186.4 L184.2,186.2 L186.3,186.0 L188.3,186.0 L190.2,186.0 L191.9,186.1 L193.6,186.3 L195.3,186.6 L197.0,186.9 L198.6,187.4 L200.2,188.0 L201.9,188.8 L203.6,189.9 L205.2,191.0 L206.9,192.3 L208.5,193.6 L210.1,194.9 L211.8,196.3 L213.4,197.8 L215.0,199.3 L216.6,200.9 L218.3,202.4 L220.0,203.8 L221.9,205.3 L223.8,206.8 L225.8,208.3 L227.8,209.6 L229.8,210.8 L231.9,211.8 L233.8,212.5 L235.8,213.0 L237.9,213.3 L239.9,213.6 L241.9,213.7 L243.8,213.7 L245.5,213.6 L247.2,213.3 L248.8,213.0 L250.4,212.6 L252.1,212.2 L253.7,211.8 L255.4,211.4 L257.0,211.0 L258.7,210.5 L260.4,210.1 L262.0,209.9 L263.7,209.8 L265.4,210.0 L267.0,210.3 L268.6,210.7 L270.3,211.3 L271.9,212.0 L273.6,212.7 L275.6,213.8 L277.6,215.1 L279.6,216.6 L281.6,218.0 L283.6,219.5 L285.5,220.7 L287.2,221.7 L288.8,222.6 L290.5,223.4 L292.1,224.2 L293.7,224.9 L295.4,225.6 L297.0,226.2 L298.7,226.9 L300.4,227.5 L302.1,228.0 L303.7,228.3 L305.3,228.4 L306.7,228.4 L308.1,228.3 L309.4,228.1 L310.8,227.7 L312.1,227.0 L313.3,226.2 L315.2,224.1 L316.9,221.1 L318.6,217.6 L320.1,213.8 L321.7,209.9 L323.2,206.1 L324.9,201.7 L326.4,197.0 L328.0,192.2 L329.5,187.4 L331.2,182.6 L333.1,177.9 L335.3,173.2 L337.7,168.3 L340.3,163.5 L342.9,158.9 L345.4,154.9 L347.9,151.7 L349.2,150.2 L350.6,148.9 L351.9,147.9 L353.2,147.0 L354.5,146.2 L355.9,145.5 L357.2,145.0 L358.5,144.6 L359.8,144.3 L361.1,144.2 L362.5,144.1 L363.8,144.3 L365.4,144.8 L367.1,145.6 L368.8,146.6 L370.5,147.8 L372.1,149.1 L373.7,150.6 L375.5,152.6 L377.2,155.0 L378.9,157.6 L380.5,160.4 L382.1,163.2 L383.7,165.8 L385.4,168.5 L387.0,171.3 L388.6,174.1 L390.2,176.9 L391.9,179.6 L393.6,182.1 L395.2,184.2 L396.7,186.3 L398.3,188.2 L399.9,190.1 L401.7,191.8 L403.5,193.3 L405.3,194.6 L407.2,195.7 L409.2,196.6 L411.2,197.5 L413.3,198.2 L415.4,198.7 L417.6,199.2 L419.9,199.4 L422.3,199.6 L424.6,199.6 L427.0,199.4 L429.3,199.1 L431.6,198.7 L433.9,198.1 L436.2,197.3 L438.5,196.4 L440.9,195.5 L443.2,194.5 L445.8,193.3 L448.3,191.9 L450.9,190.4 L453.5,188.9 L456.2,187.5 L459.0,186.3 L462.2,185.3 L465.6,184.3 L469.1,183.4 L472.5,182.7 L475.8,182.2 L478.9,182.0 L481.1,182.1 L483.1,182.5 L485.1,183.0 L487.0,183.5 L488.9,183.8 L490.8,183.8 L492.8,183.5 L494.8,183.1 L496.9,182.4 L498.9,181.7 L500.8,180.7 L502.7,179.6 L504.8,178.1 L506.9,176.2 L508.8,174.2 L510.8,172.0 L512.7,169.8 L514.6,167.5 L516.6,164.9 L518.6,162.1 L520.5,159.2 L522.4,156.4 L524.4,153.7 L526.5,151.4 L528.4,149.6 L530.4,147.7 L532.4,146.1 L534.4,144.6 L536.4,143.5 L538.4,142.9 L540.1,142.8 L541.8,142.9 L543.5,143.3 L545.1,143.9 L546.7,144.7 L548.3,145.6 L550.1,147.0 L551.8,148.8 L553.5,150.8 L555.1,153.0 L556.7,155.4 L558.3,157.9 L560.4,161.3 L562.4,165.2 L564.4,169.3 L566.4,173.6 L568.3,177.9 L570.2,182.0 L571.9,186.1 L573.5,190.2 L575.0,194.4 L576.6,198.4 L578.2,202.4 L580.1,206.2 L582.0,209.6 L584.0,213.1 L586.1,216.5 L588.3,219.6 L590.5,222.3 L592.8,224.5 L594.5,225.7 L596.1,226.7 L597.9,227.6 L599.6,228.2 L601.4,228.5 L603.2,228.6 L605.3,228.3 L607.5,227.5 L609.7,226.4 L611.9,225.0 L614.1,223.6 L616.2,222.1 L618.4,220.2 L620.6,218.0 L622.7,215.7 L624.8,213.3 L626.9,211.1 L629.1,209.1 L631.2,207.6 L633.2,206.1 L635.3,204.7 L637.5,203.5 L639.7,202.3 L642.1,201.3 L644.9,200.4 L647.9,199.7 L651.0,199.2 L654.1,198.7 L657.2,198.1 L660.3,197.3 L663.4,196.4 L666.5,195.4 L669.5,194.3 L672.6,193.1 L675.6,191.9 L678.5,190.8 L681.2,189.7 L683.8,188.5 L686.4,187.3 L688.9,186.1 L691.5,185.1 L694.0,184.3 L696.2,183.7 L698.3,183.2 L700.5,182.7 L702.6,182.4 L704.8,182.2 L707.0,182.1 L709.5,182.1 L712.1,182.2 L714.8,182.5 L717.4,182.9 L720.0,183.4 L722.6,184.2 L725.3,185.2 L728.0,186.5 L730.6,188.0 L733.2,189.7 L735.8,191.4 L738.2,193.2 L740.5,195.2 L742.7,197.4 L744.8,199.6 L746.8,201.9 L748.9,204.1 L751.1,206.2 L753.2,208.2 L755.3,210.1 L757.5,212.1 L759.6,213.8 L761.8,215.4 L764.1,216.6 L766.2,217.4 L768.4,218.0 L770.5,218.5 L772.8,218.7 L774.9,218.7 L777.1,218.5 L779.3,218.1 L781.6,217.4 L783.8,216.5 L785.9,215.4 L788.1,214.1 L790.1,212.6 L792.4,210.3 L794.5,207.6 L796.6,204.5 L798.6,201.3 L800.8,198.3 L803.1,195.7 L805.5,193.4 L808.0,191.2 L810.5,189.2 L813.2,187.3 L815.9,185.7 L818.6,184.4 L821.3,183.6 L824.1,183.0 L827.0,182.7 L829.9,182.5 L832.6,182.5 L835.0,182.6 L836.5,182.8 L837.8,183.1 L839.1,183.4 L840.3,183.8 L841.6,184.2 L843.0,184.4 L845.0,184.6 L847.1,184.7 L849.3,184.8 L851.6,184.7 L853.8,184.4 L856.0,183.8 L858.6,182.7 L861.1,181.0 L863.7,179.0 L866.3,176.9 L868.9,175.0 L871.5,173.4 L874.1,172.2 L876.7,171.0 L879.3,170.0 L881.9,169.1 L884.6,168.5 L887.1,168.2 L889.4,168.1 L891.6,168.2 L893.9,168.4 L896.1,168.9 L898.2,169.7 L900.1,170.7 L902.1,172.4 L904.0,174.5 L905.7,176.9 L907.3,179.5 L908.9,182.3 L910.5,185.0 L912.3,188.2 L914.0,191.7 L915.6,195.3 L917.3,198.9 L919.0,202.5 L920.9,205.8 L922.9,208.8 L924.9,211.8 L927.0,214.7 L929.2,217.5 L931.5,220.1 L933.8,222.5 L935.9,224.5 L938.0,226.5 L940.2,228.3 L942.4,229.9 L944.6,231.2 L946.8,232.1 L948.5,232.5 L950.3,232.8 L952.0,232.8 L953.8,232.6 L955.5,232.2 L957.2,231.6 L959.5,230.3 L961.7,228.6 L963.9,226.4 L966.1,224.0 L968.2,221.3 L970.2,218.6 L972.7,214.5 L974.9,210.0 L977.1,205.0 L979.2,199.9 L981.2,194.9 L983.2,190.0 L985.0,185.5 L986.6,181.0 L988.2,176.4 L989.9,172.0 L991.6,167.8 L993.6,163.8 L995.5,160.4 L997.4,157.1 L999.5,153.8 L1001.7,150.9 L1004.0,148.3 L1006.5,146.2 L1008.9,144.7 L1011.4,143.5 L1014.1,142.5 L1016.9,141.8 L1019.5,141.4 L1022.1,141.3 L1024.3,141.5 L1026.5,141.9 L1028.7,142.5 L1030.8,143.4 L1033.0,144.4 L1035.1,145.7 L1037.7,147.6 L1040.3,150.0 L1042.8,152.7 L1045.4,155.5 L1048.0,158.1 L1050.7,160.4 L1053.2,162.0 L1055.7,163.5 L1058.3,164.8 L1060.9,166.0 L1063.5,167.3 L1066.2,168.7 L1069.4,170.3 L1072.7,171.9 L1076.1,173.6 L1079.4,175.3 L1082.5,177.3 L1085.4,179.5 L1087.9,182.2 L1090.1,185.3 L1092.2,188.6 L1094.1,191.8 L1096.2,195.0 L1098.4,197.7 L1100.4,199.8 L1102.5,201.8 L1104.6,203.6 L1106.7,205.3 L1109.0,206.8 L1111.3,208.1 L1113.7,209.2 L1116.3,210.1 L1119.0,210.8 L1121.7,211.4 L1124.3,211.8 L1126.9,212.0 L1129.1,212.0 L1131.3,211.9 L1133.5,211.7 L1135.6,211.3 L1137.8,210.8 L1139.9,210.2 L1142.1,209.4 L1144.2,208.5 L1146.3,207.4 L1148.4,206.3 L1150.6,205.2 L1152.8,204.2 L1155.3,203.1 L1157.9,202.0 L1160.5,200.9 L1163.1,199.9 L1165.8,199.1 L1168.4,198.5 L1171.0,198.2 L1173.6,198.2 L1176.3,198.3 L1178.9,198.4 L1181.5,198.5 L1184.0,198.5 L1186.3,198.4 L1188.5,198.4 L1190.7,198.4 L1192.9,198.2 L1195.0,197.8 L1197.0,197.2 L1198.9,196.3 L1200.7,195.3 L1202.5,194.1 L1204.2,192.7 L1205.8,191.0 L1207.3,189.1 L1209.4,185.6 L1211.2,181.4 L1212.9,176.7 L1214.5,171.8 L1216.0,166.8 L1217.7,162.1 L1219.4,157.5 L1221.1,152.8 L1222.9,148.1 L1224.6,143.5 L1226.3,139.1 L1228.1,134.9 L1229.5,131.6 L1231.0,128.3 L1232.4,125.1 L1233.9,122.1 L1235.5,119.4 L1237.2,117.2 L1238.6,115.7 L1240.1,114.4 L1241.6,113.2 L1243.2,112.3 L1244.7,111.7 L1246.3,111.5 L1248.0,111.8 L1249.8,112.6 L1251.6,113.8 L1253.3,115.3 L1255.0,116.9 L1256.6,118.7 L1258.6,121.5 L1260.5,124.8 L1262.2,128.5 L1263.8,132.4 L1265.4,136.5 L1267.0,140.6 L1268.9,145.6 L1270.6,151.1 L1272.3,156.7 L1274.0,162.3 L1275.7,167.8 L1277.4,173.0 L1278.8,177.2 L1280.2,181.6 L1281.5,185.8 L1283.0,189.7 L1284.6,193.1 L1286.5,196.0 L1288.0,197.6 L1289.7,199.0 L1291.4,200.2 L1293.2,201.1 L1295.0,201.9 L1296.8,202.5 L1298.3,202.9 L1299.7,203.1 L1301.2,203.1 L1302.7,203.1 L1304.3,202.9 L1305.9,202.7 L1308.2,202.1 L1310.6,201.3 L1313.2,200.2 L1315.8,199.1 L1318.6,198.0 L1321.5,196.9 L1325.6,195.7 L1330.0,194.5 L1334.6,193.3 L1339.3,192.0 L1344.1,190.8 L1348.7,189.6 L1348.7,197.6 L1344.1,199.0 L1339.3,200.4 L1334.6,201.7 L1330.0,203.1 L1325.6,204.5 L1321.5,205.9 L1318.6,207.0 L1315.8,208.2 L1313.2,209.4 L1310.7,210.6 L1308.2,211.5 L1305.9,212.1 L1304.3,212.4 L1302.7,212.6 L1301.2,212.7 L1299.8,212.7 L1298.3,212.6 L1296.8,212.3 L1295.0,211.8 L1293.2,211.2 L1291.5,210.4 L1289.7,209.4 L1288.0,208.2 L1286.5,206.8 L1284.6,204.2 L1283.0,201.1 L1281.5,197.5 L1280.2,193.7 L1278.8,189.7 L1277.4,185.8 L1275.7,181.1 L1274.0,176.0 L1272.3,170.7 L1270.6,165.5 L1268.9,160.5 L1267.0,155.8 L1265.4,152.1 L1263.8,148.4 L1262.2,144.8 L1260.5,141.5 L1258.6,138.6 L1256.6,136.3 L1255.0,134.9 L1253.3,133.8 L1251.6,132.8 L1249.8,132.1 L1248.0,131.6 L1246.3,131.5 L1244.7,131.6 L1243.2,131.9 L1241.6,132.4 L1240.1,133.2 L1238.6,134.1 L1237.2,135.2 L1235.5,137.1 L1233.9,139.4 L1232.4,142.1 L1231.0,145.0 L1229.5,148.0 L1228.1,151.1 L1226.3,154.8 L1224.6,158.9 L1222.9,163.1 L1221.1,167.4 L1219.4,171.7 L1217.7,175.9 L1216.0,180.3 L1214.5,184.9 L1212.9,189.4 L1211.2,193.8 L1209.4,197.6 L1207.3,200.7 L1205.8,202.3 L1204.1,203.7 L1202.5,204.8 L1200.7,205.7 L1198.9,206.5 L1197.0,207.2 L1195.0,207.8 L1192.9,208.1 L1190.7,208.3 L1188.5,208.4 L1186.3,208.4 L1184.0,208.5 L1181.5,208.5 L1178.9,208.4 L1176.3,208.3 L1173.6,208.2 L1171.0,208.2 L1168.4,208.5 L1165.8,209.1 L1163.1,209.9 L1160.5,210.9 L1157.9,212.0 L1155.3,213.1 L1152.8,214.2 L1150.6,215.2 L1148.4,216.3 L1146.3,217.4 L1144.2,218.5 L1142.1,219.4 L1139.9,220.2 L1137.8,220.8 L1135.6,221.3 L1133.5,221.7 L1131.3,221.9 L1129.1,222.0 L1126.9,222.0 L1124.3,221.8 L1121.7,221.4 L1119.0,220.8 L1116.3,220.1 L1113.7,219.2 L1111.3,218.1 L1109.0,216.8 L1106.7,215.3 L1104.6,213.6 L1102.5,211.8 L1100.4,209.8 L1098.4,207.7 L1096.2,205.0 L1094.2,201.8 L1092.2,198.5 L1090.1,195.2 L1087.9,192.1 L1085.4,189.5 L1082.5,187.4 L1079.4,185.6 L1076.1,184.0 L1072.7,182.5 L1069.4,181.1 L1066.2,179.7 L1063.5,178.4 L1060.9,177.3 L1058.3,176.3 L1055.7,175.1 L1053.2,173.9 L1050.7,172.4 L1048.0,170.4 L1045.4,167.9 L1042.8,165.3 L1040.3,162.8 L1037.7,160.5 L1035.1,158.7 L1033.0,157.7 L1030.8,156.9 L1028.7,156.2 L1026.5,155.8 L1024.3,155.5 L1022.1,155.3 L1019.5,155.3 L1016.9,155.4 L1014.1,155.7 L1011.5,156.2 L1008.9,157.1 L1006.5,158.2 L1004.0,160.1 L1001.7,162.4 L999.5,165.0 L997.4,168.0 L995.5,171.1 L993.6,174.2 L991.6,178.1 L989.8,182.2 L988.2,186.6 L986.6,191.0 L985.0,195.5 L983.2,200.0 L981.2,204.8 L979.2,209.9 L977.1,215.0 L974.9,219.9 L972.7,224.4 L970.2,228.4 L968.2,231.2 L966.1,233.9 L963.9,236.3 L961.7,238.4 L959.5,240.2 L957.2,241.4 L955.5,242.0 L953.8,242.4 L952.0,242.6 L950.3,242.6 L948.5,242.3 L946.8,241.9 L944.6,241.0 L942.4,239.7 L940.2,238.1 L938.0,236.2 L935.9,234.3 L933.8,232.3 L931.5,229.8 L929.2,227.2 L927.0,224.4 L924.9,221.5 L922.9,218.5 L920.9,215.4 L919.0,212.1 L917.3,208.5 L915.6,204.9 L914.0,201.3 L912.3,197.8 L910.5,194.6 L908.9,191.9 L907.3,189.1 L905.7,186.5 L904.0,184.0 L902.1,181.9 L900.1,180.3 L898.2,179.2 L896.1,178.5 L893.9,178.0 L891.6,177.7 L889.4,177.6 L887.1,177.6 L884.6,178.0 L882.0,178.6 L879.3,179.4 L876.7,180.4 L874.1,181.6 L871.5,182.8 L868.9,184.4 L866.3,186.3 L863.7,188.3 L861.1,190.3 L858.6,192.0 L856.0,193.2 L853.8,193.7 L851.5,194.0 L849.3,194.0 L847.1,194.0 L845.0,193.8 L843.0,193.6 L841.6,193.4 L840.3,193.1 L839.1,192.7 L837.8,192.3 L836.5,192.0 L835.0,191.8 L832.6,191.7 L829.9,191.7 L827.1,191.8 L824.1,192.2 L821.3,192.7 L818.6,193.6 L815.9,194.8 L813.2,196.4 L810.5,198.2 L808.0,200.3 L805.5,202.5 L803.1,204.7 L800.8,207.4 L798.6,210.4 L796.6,213.5 L794.5,216.6 L792.4,219.3 L790.1,221.6 L788.1,223.1 L785.9,224.4 L783.8,225.5 L781.6,226.4 L779.3,227.0 L777.1,227.5 L774.9,227.6 L772.8,227.6 L770.5,227.3 L768.4,226.9 L766.2,226.2 L764.1,225.4 L761.8,224.2 L759.6,222.7 L757.4,220.9 L755.3,218.9 L753.2,216.9 L751.1,215.0 L748.9,212.9 L746.8,210.7 L744.8,208.4 L742.7,206.1 L740.5,203.9 L738.2,202.0 L735.8,200.1 L733.2,198.4 L730.6,196.7 L728.0,195.2 L725.3,193.9 L722.6,192.8 L720.0,192.0 L717.4,191.5 L714.8,191.1 L712.1,190.8 L709.5,190.7 L707.0,190.7 L704.8,190.8 L702.6,191.0 L700.5,191.3 L698.3,191.7 L696.2,192.2 L694.0,192.7 L691.5,193.6 L689.0,194.6 L686.4,195.7 L683.8,196.9 L681.2,198.1 L678.5,199.2 L675.6,200.3 L672.6,201.5 L669.5,202.6 L666.5,203.7 L663.4,204.7 L660.3,205.7 L657.2,206.4 L654.1,206.9 L651.0,207.4 L647.9,207.9 L644.9,208.6 L642.1,209.5 L639.7,210.5 L637.5,211.7 L635.3,212.9 L633.2,214.3 L631.2,215.7 L629.1,217.3 L626.9,219.2 L624.8,221.4 L622.7,223.8 L620.6,226.1 L618.4,228.3 L616.2,230.1 L614.1,231.6 L611.9,233.1 L609.7,234.4 L607.5,235.5 L605.3,236.2 L603.2,236.6 L601.4,236.6 L599.6,236.3 L597.9,235.8 L596.2,235.0 L594.5,234.1 L592.8,232.9 L590.5,230.9 L588.3,228.3 L586.1,225.3 L584.0,222.1 L582.0,218.8 L580.1,215.4 L578.2,211.8 L576.6,207.9 L575.0,204.0 L573.5,199.9 L571.9,195.9 L570.2,192.0 L568.3,187.9 L566.4,183.8 L564.5,179.6 L562.4,175.6 L560.4,171.9 L558.3,168.5 L556.7,166.2 L555.1,163.9 L553.5,161.8 L551.8,159.9 L550.1,158.3 L548.3,157.0 L546.7,156.1 L545.1,155.5 L543.5,155.0 L541.8,154.7 L540.1,154.7 L538.4,154.9 L536.4,155.5 L534.4,156.6 L532.4,157.9 L530.4,159.5 L528.4,161.2 L526.5,163.0 L524.4,165.3 L522.4,167.9 L520.5,170.6 L518.6,173.5 L516.6,176.2 L514.6,178.7 L512.7,180.9 L510.8,183.1 L508.8,185.2 L506.8,187.2 L504.8,188.9 L502.7,190.4 L500.8,191.4 L498.9,192.3 L496.9,193.0 L494.8,193.6 L492.8,194.0 L490.8,194.2 L488.9,194.1 L487.0,193.7 L485.1,193.2 L483.1,192.6 L481.1,192.2 L478.9,192.0 L475.8,192.1 L472.5,192.5 L469.1,193.1 L465.6,193.8 L462.2,194.7 L459.0,195.7 L456.2,196.7 L453.5,198.0 L450.9,199.4 L448.3,200.8 L445.8,202.2 L443.2,203.3 L440.9,204.2 L438.5,205.0 L436.2,205.8 L433.9,206.5 L431.6,207.1 L429.3,207.5 L427.0,207.7 L424.6,207.8 L422.3,207.8 L419.9,207.7 L417.6,207.4 L415.4,207.1 L413.3,206.6 L411.2,206.0 L409.2,205.3 L407.2,204.5 L405.3,203.6 L403.5,202.5 L401.7,201.1 L399.9,199.5 L398.3,197.8 L396.7,195.9 L395.2,193.9 L393.6,191.9 L391.9,189.5 L390.2,187.0 L388.6,184.3 L387.0,181.6 L385.4,179.0 L383.7,176.4 L382.1,173.8 L380.5,171.2 L378.9,168.5 L377.2,166.0 L375.5,163.8 L373.7,161.8 L372.1,160.5 L370.5,159.3 L368.8,158.3 L367.1,157.4 L365.4,156.7 L363.8,156.3 L362.5,156.1 L361.1,156.0 L359.8,156.1 L358.5,156.3 L357.2,156.6 L355.9,157.1 L354.5,157.6 L353.2,158.3 L351.9,159.2 L350.6,160.2 L349.2,161.3 L347.9,162.7 L345.4,165.8 L342.9,169.6 L340.3,174.0 L337.7,178.7 L335.3,183.5 L333.1,188.1 L331.2,192.6 L329.5,197.2 L327.9,202.0 L326.4,206.7 L324.9,211.2 L323.2,215.5 L321.7,219.3 L320.1,223.1 L318.6,226.8 L316.9,230.2 L315.2,233.0 L313.3,235.0 L312.1,235.8 L310.8,236.3 L309.4,236.6 L308.1,236.8 L306.7,236.8 L305.3,236.8 L303.7,236.6 L302.1,236.2 L300.4,235.6 L298.7,235.0 L297.0,234.3 L295.4,233.6 L293.7,232.9 L292.1,232.2 L290.5,231.4 L288.8,230.5 L287.2,229.7 L285.5,228.7 L283.6,227.5 L281.6,226.0 L279.6,224.6 L277.6,223.1 L275.6,221.8 L273.6,220.7 L271.9,220.0 L270.3,219.3 L268.6,218.7 L267.0,218.3 L265.4,218.0 L263.7,217.8 L262.0,217.9 L260.4,218.1 L258.7,218.5 L257.0,219.0 L255.4,219.4 L253.7,219.8 L252.1,220.2 L250.4,220.6 L248.8,221.0 L247.2,221.3 L245.5,221.6 L243.8,221.7 L241.9,221.7 L239.9,221.6 L237.9,221.3 L235.8,221.0 L233.8,220.5 L231.9,219.8 L229.8,218.8 L227.8,217.6 L225.8,216.3 L223.8,214.8 L221.9,213.3 L220.0,211.8 L218.3,210.4 L216.6,208.9 L215.0,207.3 L213.4,205.8 L211.8,204.3 L210.1,202.9 L208.5,201.6 L206.9,200.3 L205.2,199.0 L203.6,197.9 L201.9,196.8 L200.2,196.0 L198.6,195.4 L197.0,194.9 L195.3,194.6 L193.6,194.3 L191.9,194.1 L190.2,194.0 L188.3,194.0 L186.3,194.0 L184.2,194.2 L182.2,194.4 L180.2,194.7 L178.3,195.0 L176.6,195.3 L174.9,195.7 L173.2,196.0 L171.6,196.5 L170.0,197.1 L168.4,197.9 L166.7,199.0 L165.0,200.4 L163.4,201.9 L161.8,203.5 L160.1,205.2 L158.5,206.9 L156.5,209.1 L154.6,211.4 L152.6,213.9 L150.6,216.4 L148.6,218.7 L146.6,220.7 L145.0,222.1 L143.3,223.5 L141.7,224.7 L140.1,225.8 L138.4,226.8 L136.7,227.7 L135.1,228.4 L133.4,229.1 L131.8,229.7 L130.1,230.1 L128.4,230.5 L126.7,230.7 L125.1,230.7 L123.4,230.6 L121.7,230.4 L120.1,230.1 L118.4,229.9 L116.8,229.7 L115.2,229.6 L113.6,229.3 L112.1,229.1 L110.5,229.1 L109.1,229.2 L107.9,229.7 L106.8,230.7 L105.9,232.0 L105.2,233.6 L104.5,235.3 L103.8,237.0 L103.0,238.6 Z" fill="#0000CD" fill-opacity="0.2" stroke="none"/>
<path d="M103.0,189.0 L104.3,190.1 L105.6,191.3 L106.8,192.4 L108.1,193.6 L109.5,194.7 L110.9,195.9 L112.7,197.2 L114.7,198.5 L116.7,199.8 L118.7,201.1 L120.8,202.4 L122.8,203.8 L124.8,205.1 L126.8,206.4 L128.7,207.8 L130.7,209.1 L132.7,210.4 L134.7,211.7 L136.7,212.9 L138.6,214.1 L140.6,215.3 L142.6,216.5 L144.6,217.6 L146.6,218.6 L148.6,219.5 L150.6,220.5 L152.6,221.4 L154.6,222.2 L156.6,222.9 L158.5,223.6 L160.2,224.0 L161.9,224.4 L163.6,224.8 L165.2,225.1 L166.8,225.3 L168.4,225.4 L169.8,225.5 L171.1,225.6 L172.3,225.6 L173.6,225.6 L174.9,225.4 L176.3,225.1 L178.2,224.4 L180.2,223.4 L182.2,222.3 L184.2,221.0 L186.3,219.7 L188.3,218.5 L190.3,217.4 L192.3,216.2 L194.4,215.1 L196.4,214.0 L198.3,212.8 L200.2,211.6 L201.9,210.3 L203.6,208.9 L205.1,207.5 L206.7,206.2 L208.4,204.8 L210.1,203.5 L212.0,202.3 L213.9,201.0 L215.9,199.8 L217.9,198.7 L220.0,197.6 L222.0,196.6 L223.9,195.8 L225.9,195.0 L227.8,194.3 L229.8,193.6 L231.8,193.1 L233.9,192.6 L236.4,192.1 L239.0,191.8 L241.7,191.6 L244.4,191.4 L247.1,191.3 L249.8,191.1 L252.4,191.0 L255.0,190.9 L257.6,190.9 L260.3,190.8 L262.9,190.7 L265.6,190.5 L268.5,190.1 L271.5,189.6 L274.5,189.0 L277.5,188.5 L280.5,188.0 L283.5,187.5 L286.5,187.2 L289.5,186.9 L292.5,186.7 L295.4,186.5 L298.4,186.5 L301.3,186.5 L304.0,186.7 L306.7,186.9 L309.3,187.2 L311.9,187.6 L314.6,188.0 L317.2,188.5 L319.8,188.9 L322.5,189.5 L325.1,190.0 L327.7,190.5 L330.4,191.0 L333.1,191.3 L336.2,191.6 L339.4,191.8 L342.7,192.0 L345.9,192.0 L349.0,191.8 L351.9,191.3 L354.1,190.6 L356.1,189.8 L358.1,188.8 L360.0,187.6 L361.9,186.5 L363.8,185.3 L365.8,184.1 L367.8,182.8 L369.8,181.4 L371.7,180.0 L373.7,178.6 L375.7,177.3 L377.6,176.1 L379.6,174.9 L381.5,173.7 L383.5,172.6 L385.5,171.4 L387.6,170.4 L390.1,169.3 L392.6,168.2 L395.2,167.2 L397.9,166.2 L400.7,165.2 L403.5,164.3 L406.7,163.4 L409.9,162.6 L413.2,161.8 L416.6,161.0 L420.0,160.2 L423.3,159.4 L426.6,158.5 L429.9,157.6 L433.2,156.7 L436.5,155.8 L439.9,155.0 L443.2,154.3 L446.5,153.8 L449.8,153.3 L453.1,152.9 L456.4,152.6 L459.7,152.4 L463.0,152.3 L466.3,152.3 L469.6,152.4 L472.9,152.6 L476.3,152.9 L479.6,153.1 L482.9,153.2 L486.2,153.3 L489.5,153.4 L492.8,153.4 L496.1,153.4 L499.4,153.4 L502.7,153.5 L506.1,153.7 L509.5,154.0 L512.9,154.3 L516.3,154.6 L519.5,154.7 L522.5,154.6 L524.7,154.5 L526.7,154.2 L528.6,153.9 L530.5,153.4 L532.4,152.9 L534.4,152.3 L536.7,151.5 L539.0,150.6 L541.3,149.6 L543.7,148.5 L546.0,147.3 L548.3,146.1 L550.6,144.8 L552.9,143.4 L555.2,142.0 L557.5,140.6 L559.8,139.2 L562.2,137.7 L564.7,136.1 L567.3,134.3 L569.9,132.5 L572.5,130.9 L575.2,129.6 L578.1,129.0 L581.6,129.2 L585.4,130.0 L589.3,131.4 L593.3,133.2 L597.1,135.2 L600.6,137.2 L603.9,139.3 L606.9,141.8 L609.9,144.5 L612.8,147.3 L615.7,150.1 L618.7,152.7 L621.7,155.2 L624.8,157.5 L627.8,159.9 L630.8,162.3 L633.9,164.6 L636.9,167.1 L639.9,169.7 L643.0,172.3 L646.0,175.1 L649.0,177.7 L652.0,180.3 L655.1,182.7 L658.1,184.9 L661.1,187.0 L664.2,189.0 L667.3,190.9 L670.3,192.7 L673.3,194.5 L675.9,196.0 L678.5,197.5 L681.0,198.9 L683.6,200.2 L686.2,201.4 L688.8,202.3 L691.4,203.1 L693.9,203.8 L696.6,204.3 L699.2,204.7 L701.8,204.9 L704.4,205.0 L707.0,204.9 L709.5,204.6 L712.1,204.2 L714.7,203.7 L717.3,203.1 L720.0,202.4 L723.3,201.6 L726.7,200.5 L730.2,199.4 L733.8,198.2 L737.3,197.0 L740.8,196.0 L744.2,195.0 L747.7,194.1 L751.1,193.1 L754.6,192.3 L758.0,191.5 L761.5,190.9 L764.9,190.4 L768.3,190.0 L771.7,189.8 L775.2,189.6 L778.7,189.4 L782.3,189.1 L786.5,188.8 L790.7,188.4 L795.1,188.1 L799.5,187.7 L803.9,187.4 L808.3,187.1 L812.8,186.9 L817.3,186.7 L821.8,186.5 L826.3,186.3 L830.7,186.1 L835.0,185.9 L838.6,185.7 L842.2,185.6 L845.7,185.5 L849.1,185.3 L852.5,185.0 L856.0,184.7 L859.5,184.2 L862.9,183.7 L866.4,183.1 L869.8,182.5 L873.3,181.7 L876.7,180.8 L880.2,179.8 L883.7,178.6 L887.2,177.3 L890.7,176.0 L894.1,174.5 L897.5,173.1 L900.6,171.6 L903.7,170.0 L906.8,168.3 L909.8,166.6 L912.7,165.1 L915.7,163.8 L918.3,162.8 L920.9,161.8 L923.5,160.9 L926.1,160.2 L928.6,159.8 L931.2,159.7 L933.8,160.1 L936.5,160.8 L939.1,161.8 L941.7,163.0 L944.3,164.5 L946.8,166.0 L949.5,168.1 L952.2,170.6 L954.7,173.3 L957.3,176.1 L959.8,178.8 L962.4,181.5 L965.0,183.9 L967.5,186.4 L970.1,188.9 L972.7,191.3 L975.3,193.5 L978.0,195.6 L980.5,197.3 L983.1,199.0 L985.8,200.6 L988.4,202.0 L991.0,203.1 L993.6,203.9 L995.8,204.2 L997.9,204.3 L1000.0,204.3 L1002.2,204.0 L1004.3,203.6 L1006.5,203.0 L1009.1,202.1 L1011.7,201.0 L1014.3,199.6 L1016.9,198.1 L1019.5,196.5 L1022.1,195.0 L1024.7,193.5 L1027.3,192.0 L1029.8,190.4 L1032.4,188.8 L1035.0,187.2 L1037.7,185.7 L1040.6,184.2 L1043.6,182.5 L1046.6,180.9 L1049.7,179.5 L1052.8,178.4 L1055.9,177.7 L1059.1,177.6 L1062.3,177.9 L1065.6,178.4 L1068.8,179.3 L1072.0,180.2 L1075.0,181.3 L1077.7,182.4 L1080.4,183.8 L1082.9,185.3 L1085.5,186.9 L1088.0,188.5 L1090.6,190.2 L1093.6,192.2 L1096.6,194.2 L1099.6,196.4 L1102.6,198.6 L1105.7,200.8 L1108.7,203.0 L1111.8,205.1 L1114.9,207.2 L1118.0,209.2 L1121.0,211.3 L1124.0,213.5 L1126.9,215.8 L1129.6,218.2 L1132.2,220.8 L1134.7,223.4 L1137.2,226.0 L1139.8,228.6 L1142.5,231.1 L1145.4,233.5 L1148.3,236.0 L1151.3,238.4 L1154.4,240.7 L1157.5,242.8 L1160.6,244.7 L1163.5,246.2 L1166.5,247.4 L1169.5,248.5 L1172.6,249.4 L1175.7,250.4 L1178.8,251.5 L1182.2,252.6 L1185.6,253.9 L1189.1,255.1 L1192.6,256.2 L1196.1,257.2 L1199.5,258.1 L1202.6,258.7 L1205.7,259.2 L1208.8,259.6 L1211.9,259.9 L1214.8,260.2 L1217.7,260.3 L1220.0,260.5 L1222.2,260.7 L1224.3,260.8 L1226.4,260.8 L1228.5,260.6 L1230.7,260.2 L1233.3,259.3 L1235.9,258.2 L1238.5,256.8 L1241.1,255.2 L1243.7,253.6 L1246.3,252.0 L1248.9,250.4 L1251.4,248.6 L1254.0,246.7 L1256.5,244.8 L1259.1,243.0 L1261.8,241.3 L1264.7,239.6 L1267.7,237.8 L1270.7,236.2 L1273.8,234.6 L1276.9,233.2 L1280.0,232.1 L1282.9,231.2 L1285.9,230.6 L1288.8,230.2 L1291.9,229.8 L1294.9,229.6 L1298.1,229.3 L1301.8,229.0 L1305.6,228.9 L1309.5,228.8 L1313.5,228.7 L1317.5,228.7 L1321.5,228.5 L1325.9,228.4 L1330.4,228.2 L1335.0,228.0 L1339.6,227.7 L1344.1,227.5 L1348.7,227.3 L1348.7,239.3 L1344.1,239.7 L1339.6,240.1 L1335.0,240.5 L1330.4,240.9 L1325.9,241.3 L1321.5,241.7 L1317.5,241.9 L1313.4,242.1 L1309.5,242.4 L1305.6,242.6 L1301.8,243.0 L1298.1,243.5 L1294.9,244.1 L1291.8,244.8 L1288.8,245.5 L1285.9,246.3 L1282.9,247.4 L1280.0,248.6 L1276.9,250.1 L1273.8,251.9 L1270.7,253.8 L1267.7,255.9 L1264.7,258.0 L1261.8,260.1 L1259.1,262.1 L1256.5,264.3 L1254.0,266.5 L1251.4,268.6 L1248.9,270.8 L1246.3,272.8 L1243.7,274.7 L1241.1,276.6 L1238.5,278.5 L1235.9,280.2 L1233.3,281.7 L1230.7,282.8 L1228.6,283.5 L1226.4,283.9 L1224.3,284.1 L1222.2,284.2 L1220.0,284.2 L1217.7,284.1 L1214.8,283.8 L1211.9,283.2 L1208.8,282.5 L1205.7,281.7 L1202.6,280.7 L1199.5,279.7 L1196.1,278.5 L1192.6,277.1 L1189.1,275.5 L1185.6,273.9 L1182.2,272.3 L1178.8,270.7 L1175.7,269.3 L1172.6,268.0 L1169.5,266.7 L1166.5,265.2 L1163.5,263.7 L1160.6,261.9 L1157.5,259.7 L1154.4,257.4 L1151.3,254.8 L1148.3,252.2 L1145.4,249.5 L1142.5,246.9 L1139.8,244.3 L1137.2,241.7 L1134.7,239.0 L1132.2,236.3 L1129.6,233.7 L1126.9,231.2 L1124.0,228.9 L1121.0,226.6 L1118.0,224.5 L1114.9,222.3 L1111.8,220.2 L1108.7,218.0 L1105.7,215.8 L1102.6,213.5 L1099.6,211.2 L1096.6,209.0 L1093.6,206.8 L1090.6,204.8 L1088.0,203.0 L1085.5,201.3 L1082.9,199.7 L1080.4,198.1 L1077.8,196.7 L1075.0,195.5 L1072.0,194.4 L1068.8,193.3 L1065.6,192.4 L1062.3,191.7 L1059.1,191.4 L1055.9,191.5 L1052.8,192.0 L1049.7,193.1 L1046.6,194.4 L1043.6,196.0 L1040.6,197.5 L1037.7,199.1 L1035.0,200.5 L1032.4,201.9 L1029.8,203.5 L1027.3,205.0 L1024.7,206.5 L1022.1,208.0 L1019.5,209.4 L1016.9,210.9 L1014.3,212.3 L1011.7,213.6 L1009.1,214.8 L1006.5,215.6 L1004.3,216.1 L1002.2,216.4 L1000.0,216.7 L997.9,216.7 L995.8,216.5 L993.6,216.1 L991.0,215.3 L988.4,214.1 L985.8,212.7 L983.1,211.0 L980.5,209.3 L978.0,207.4 L975.3,205.3 L972.7,203.0 L970.1,200.6 L967.5,198.0 L965.0,195.5 L962.4,192.9 L959.8,190.3 L957.3,187.4 L954.7,184.6 L952.2,181.8 L949.5,179.3 L946.8,177.2 L944.3,175.5 L941.8,174.0 L939.1,172.7 L936.5,171.7 L933.8,170.9 L931.2,170.5 L928.6,170.5 L926.1,170.8 L923.5,171.5 L920.9,172.3 L918.3,173.2 L915.7,174.2 L912.7,175.4 L909.7,176.8 L906.7,178.4 L903.7,180.1 L900.6,181.6 L897.5,183.1 L894.1,184.6 L890.7,186.0 L887.2,187.4 L883.7,188.7 L880.2,189.9 L876.7,191.0 L873.3,191.9 L869.8,192.7 L866.4,193.3 L862.9,193.9 L859.5,194.5 L856.0,194.9 L852.5,195.3 L849.1,195.6 L845.7,195.8 L842.2,196.0 L838.6,196.1 L835.0,196.3 L830.7,196.5 L826.3,196.7 L821.8,197.0 L817.3,197.2 L812.8,197.4 L808.3,197.7 L803.9,198.0 L799.5,198.4 L795.1,198.7 L790.7,199.1 L786.5,199.5 L782.3,199.9 L778.7,200.1 L775.2,200.4 L771.7,200.6 L768.3,200.9 L764.9,201.2 L761.5,201.7 L758.0,202.4 L754.6,203.2 L751.1,204.1 L747.7,205.0 L744.2,206.0 L740.8,207.0 L737.3,208.1 L733.8,209.2 L730.2,210.4 L726.7,211.6 L723.3,212.7 L720.0,213.6 L717.3,214.2 L714.7,214.8 L712.1,215.4 L709.5,215.8 L707.0,216.1 L704.4,216.2 L701.8,216.1 L699.2,215.9 L696.6,215.6 L693.9,215.1 L691.4,214.4 L688.8,213.7 L686.2,212.7 L683.6,211.6 L681.0,210.3 L678.5,208.9 L675.9,207.4 L673.3,205.9 L670.3,204.2 L667.3,202.4 L664.2,200.5 L661.1,198.5 L658.1,196.4 L655.1,194.3 L652.0,191.9 L649.0,189.3 L646.0,186.6 L643.0,183.9 L639.9,181.3 L636.9,178.7 L633.9,176.3 L630.8,173.9 L627.8,171.6 L624.8,169.3 L621.7,166.9 L618.7,164.5 L615.7,161.9 L612.8,159.1 L609.9,156.4 L606.9,153.7 L603.9,151.2 L600.6,149.0 L597.1,147.0 L593.3,145.1 L589.4,143.4 L585.4,142.0 L581.6,141.1 L578.1,141.0 L575.2,141.5 L572.5,142.6 L569.9,144.0 L567.3,145.7 L564.7,147.4 L562.2,148.9 L559.8,150.1 L557.5,151.5 L555.2,152.8 L552.9,154.1 L550.6,155.3 L548.3,156.5 L546.0,157.6 L543.7,158.6 L541.3,159.6 L539.0,160.6 L536.7,161.4 L534.4,162.1 L532.4,162.6 L530.5,163.0 L528.6,163.3 L526.7,163.5 L524.7,163.7 L522.5,163.8 L519.5,163.7 L516.3,163.4 L512.9,162.9 L509.5,162.4 L506.1,162.0 L502.7,161.7 L499.4,161.5 L496.1,161.4 L492.8,161.3 L489.5,161.3 L486.2,161.3 L482.9,161.2 L479.6,161.0 L476.3,160.7 L472.9,160.5 L469.6,160.3 L466.3,160.1 L463.0,160.1 L459.7,160.2 L456.4,160.4 L453.1,160.7 L449.8,161.1 L446.5,161.5 L443.2,162.1 L439.9,162.7 L436.6,163.5 L433.2,164.4 L429.9,165.3 L426.6,166.2 L423.3,167.0 L420.0,167.8 L416.6,168.6 L413.2,169.3 L409.9,170.1 L406.7,170.9 L403.5,171.9 L400.7,172.7 L397.9,173.7 L395.2,174.6 L392.6,175.6 L390.1,176.7 L387.6,177.8 L385.5,178.9 L383.5,180.0 L381.5,181.1 L379.6,182.3 L377.6,183.5 L375.7,184.7 L373.7,186.0 L371.7,187.3 L369.8,188.7 L367.8,190.1 L365.8,191.4 L363.8,192.7 L361.9,193.8 L360.0,194.9 L358.1,196.0 L356.1,197.0 L354.1,197.9 L351.9,198.5 L349.0,199.0 L345.9,199.2 L342.7,199.2 L339.4,199.0 L336.2,198.8 L333.1,198.5 L330.4,198.1 L327.7,197.7 L325.1,197.1 L322.5,196.6 L319.8,196.0 L317.2,195.5 L314.6,195.1 L311.9,194.7 L309.3,194.3 L306.7,193.9 L304.0,193.7 L301.3,193.5 L298.4,193.5 L295.4,193.5 L292.5,193.7 L289.5,193.9 L286.5,194.2 L283.5,194.5 L280.5,194.8 L277.5,195.4 L274.5,195.9 L271.5,196.5 L268.5,196.9 L265.6,197.3 L262.9,197.5 L260.3,197.6 L257.6,197.7 L255.0,197.7 L252.4,197.8 L249.8,197.9 L247.1,198.0 L244.4,198.1 L241.7,198.3 L239.0,198.5 L236.4,198.8 L233.9,199.2 L231.8,199.7 L229.8,200.3 L227.8,200.9 L225.9,201.6 L223.9,202.4 L222.0,203.2 L220.0,204.2 L217.9,205.2 L215.9,206.4 L213.9,207.6 L212.0,208.8 L210.1,210.1 L208.4,211.3 L206.7,212.7 L205.1,214.1 L203.6,215.4 L201.9,216.8 L200.2,218.0 L198.3,219.3 L196.4,220.5 L194.4,221.6 L192.3,222.7 L190.3,223.8 L188.3,224.9 L186.3,226.1 L184.2,227.4 L182.2,228.7 L180.2,229.8 L178.2,230.8 L176.3,231.5 L174.9,231.8 L173.6,231.9 L172.3,232.0 L171.1,232.0 L169.8,231.9 L168.4,231.8 L166.8,231.6 L165.2,231.4 L163.6,231.1 L161.9,230.7 L160.2,230.3 L158.5,229.8 L156.6,229.2 L154.6,228.4 L152.6,227.6 L150.6,226.7 L148.6,225.8 L146.6,224.8 L144.6,223.8 L142.6,222.7 L140.6,221.5 L138.6,220.3 L136.7,219.1 L134.7,217.9 L132.7,216.6 L130.7,215.3 L128.7,213.9 L126.8,212.6 L124.8,211.2 L122.8,209.8 L120.8,208.5 L118.7,207.2 L116.7,205.9 L114.7,204.6 L112.7,203.2 L110.9,201.9 L109.5,200.8 L108.1,199.6 L106.8,198.5 L105.6,197.3 L104.3,196.2 L103.0,195.0 Z" fill="#006400" fill-opacity="0.2" stroke="none"/>
<line x1="58.7" y1="195" x2="1348.7" y2="195" stroke="#000" stroke-width="3" stroke-dasharray="12.94 12.94"/>
<polyline points="103.0,188.0 103.9,189.6 104.8,191.4 105.7,193.3 106.6,194.9 107.7,196.2 108.9,196.9 110.3,197.0 111.9,196.5 113.6,195.7 115.3,194.7 117.1,193.7 118.8,193.0 120.4,192.4 122.1,191.8 123.7,191.2 125.4,190.7 127.0,190.3 128.7,190.0 130.3,189.9 132.0,189.9 133.7,190.0 135.3,190.2 137.0,190.6 138.7,191.0 140.7,191.7 142.6,192.5 144.6,193.5 146.6,194.6 148.6,195.7 150.6,196.9 152.9,198.3 155.1,199.9 157.4,201.6 159.7,203.3 162.0,204.7 164.4,205.8 166.7,206.5 169.0,206.9 171.4,207.1 173.7,207.3 176.0,207.5 178.3,207.8 180.4,208.2 182.4,208.7 184.4,209.2 186.4,209.7 188.3,210.3 190.2,210.8 191.9,211.4 193.6,212.0 195.3,212.6 197.0,213.2 198.6,213.6 200.2,213.8 201.6,213.8 202.9,213.6 204.2,213.3 205.5,213.0 206.8,212.4 208.1,211.8 209.8,210.7 211.4,209.4 213.0,207.9 214.7,206.2 216.3,204.6 218.0,202.9 219.9,201.0 221.9,198.9 223.9,196.8 225.9,194.7 227.9,192.8 229.9,191.0 231.6,189.6 233.2,188.3 234.9,187.1 236.5,186.0 238.2,184.9 239.8,184.0 241.1,183.3 242.5,182.6 243.8,182.0 245.1,181.5 246.4,181.2 247.8,181.0 249.4,181.1 251.0,181.4 252.7,181.8 254.4,182.5 256.1,183.2 257.7,184.0 259.4,185.1 261.1,186.4 262.7,187.8 264.3,189.3 265.9,190.7 267.6,192.0 269.2,193.1 270.7,194.2 272.3,195.3 273.9,196.3 275.7,197.2 277.5,197.9 279.9,198.5 282.5,199.0 285.3,199.2 288.1,199.4 290.8,199.6 293.4,199.9 295.5,200.2 297.6,200.4 299.6,200.7 301.6,201.0 303.5,201.4 305.3,201.9 306.8,202.4 308.1,202.9 309.5,203.4 310.8,204.1 312.0,204.8 313.3,205.8 315.0,207.4 316.7,209.4 318.4,211.6 320.0,213.9 321.6,216.3 323.2,218.7 324.9,221.3 326.4,223.9 328.0,226.6 329.6,229.4 331.3,232.0 333.1,234.6 335.1,237.1 337.3,239.6 339.5,242.0 341.8,244.3 344.0,246.5 346.0,248.5 347.4,249.9 348.7,251.3 349.9,252.6 351.1,253.7 352.5,254.7 353.9,255.4 355.4,255.9 357.1,256.1 358.8,256.2 360.5,256.1 362.2,255.8 363.8,255.4 365.5,254.7 367.2,253.8 368.9,252.7 370.5,251.4 372.1,250.0 373.7,248.5 375.5,246.6 377.2,244.4 378.9,242.1 380.5,239.6 382.1,237.1 383.7,234.6 385.4,231.8 387.1,228.8 388.7,225.7 390.3,222.7 391.9,219.6 393.6,216.7 395.2,213.9 396.8,211.0 398.3,208.1 400.0,205.4 401.7,203.0 403.5,200.9 405.0,199.6 406.5,198.4 408.1,197.4 409.8,196.6 411.5,195.9 413.4,195.3 415.8,194.9 418.3,194.7 421.0,194.7 423.8,194.9 426.5,195.0 429.3,194.9 432.2,194.7 435.2,194.5 438.2,194.3 441.2,194.0 444.2,193.7 447.1,193.3 449.8,192.8 452.5,192.3 455.1,191.7 457.7,191.1 460.4,190.6 463.0,190.0 465.7,189.4 468.4,188.7 471.2,188.1 473.9,187.5 476.5,187.1 478.9,187.0 480.7,187.0 482.4,187.2 484.1,187.4 485.7,187.8 487.3,188.3 488.8,189.0 490.6,190.1 492.2,191.6 493.9,193.2 495.5,195.1 497.1,197.0 498.7,198.9 500.7,201.3 502.6,204.1 504.5,206.9 506.5,209.7 508.5,212.4 510.6,214.8 512.5,216.8 514.5,218.6 516.4,220.4 518.5,222.1 520.5,223.5 522.5,224.7 524.1,225.5 525.8,226.2 527.4,226.7 529.1,227.2 530.8,227.5 532.5,227.7 534.4,227.8 536.4,227.9 538.4,227.8 540.4,227.6 542.4,227.2 544.4,226.7 546.7,225.8 549.0,224.6 551.4,223.3 553.7,221.8 556.0,220.2 558.3,218.7 560.7,217.1 563.0,215.4 565.3,213.7 567.7,211.9 569.9,210.3 572.1,208.8 573.8,207.6 575.5,206.5 577.2,205.4 578.9,204.4 580.5,203.6 582.1,202.9 583.4,202.5 584.7,202.1 585.9,201.9 587.2,201.7 588.5,201.6 590.0,201.5 592.3,201.4 595.0,201.4 597.7,201.5 600.5,201.7 603.3,202.1 605.8,202.8 608.1,203.7 610.3,204.7 612.4,205.9 614.5,207.3 616.6,208.9 618.7,210.6 621.7,213.5 624.6,217.1 627.6,221.0 630.7,224.9 633.8,228.4 636.9,231.3 639.4,233.0 642.0,234.4 644.6,235.6 647.2,236.7 649.8,237.8 652.5,239.1 655.5,240.7 658.5,242.3 661.6,244.0 664.7,245.7 667.7,247.6 670.7,249.5 673.8,251.6 676.9,253.9 679.9,256.2 682.9,258.6 685.9,261.2 688.8,263.8 691.9,266.8 695.0,270.0 698.0,273.3 701.0,276.7 704.0,280.1 707.0,283.3 710.0,286.4 713.0,289.5 715.9,292.6 718.9,295.6 722.0,298.5 725.2,301.4 728.6,304.1 732.1,306.5 735.6,308.8 739.2,311.3 742.7,314.0 746.0,317.0 749.7,321.4 753.4,326.6 756.9,332.1 760.3,337.5 763.6,342.1 766.7,345.6 768.3,347.0 769.8,348.3 771.3,349.4 772.8,350.3 774.3,350.7 775.8,350.8 777.7,350.2 779.6,348.9 781.6,347.1 783.6,344.9 785.5,342.6 787.5,340.4 790.0,337.4 792.6,334.2 795.1,330.6 797.7,327.0 800.3,323.3 803.1,319.6 806.4,315.0 809.8,309.8 813.4,304.5 816.9,299.7 820.4,295.9 823.8,293.6 825.7,293.0 827.6,292.9 829.5,293.1 831.4,293.5 833.2,294.2 835.0,294.9 836.9,295.9 838.6,297.3 840.3,298.9 842.0,300.6 843.7,302.3 845.6,304.0 848.0,306.1 850.6,308.2 853.3,310.5 856.0,312.7 858.6,314.9 861.2,317.0 863.4,319.0 865.6,321.2 867.7,323.3 869.9,325.2 872.0,326.6 874.1,327.4 875.9,327.5 877.7,327.3 879.5,326.7 881.3,325.9 882.9,324.8 884.5,323.5 886.6,320.7 888.5,317.1 890.2,312.8 891.8,308.1 893.3,303.4 894.9,298.8 896.7,293.8 898.5,288.7 900.3,283.4 902.0,278.1 903.7,272.9 905.3,267.7 906.7,262.8 907.9,258.0 909.1,253.1 910.3,248.3 911.6,243.6 913.1,239.1 914.6,234.7 916.1,230.0 917.7,225.3 919.4,221.2 921.3,217.9 923.5,215.8 925.1,215.2 926.8,214.9 928.6,215.1 930.5,215.5 932.2,216.2 933.8,217.1 935.9,219.1 937.7,222.0 939.4,225.5 941.0,229.2 942.5,233.0 944.2,236.5 946.0,240.0 947.7,243.6 949.4,247.3 951.2,250.8 952.9,254.2 954.6,257.3 955.9,259.6 957.1,261.8 958.3,263.9 959.6,265.8 960.9,267.5 962.4,269.0 963.8,270.1 965.3,271.0 966.8,271.8 968.4,272.5 970.0,272.8 971.5,272.9 973.0,272.6 974.5,272.0 976.0,271.2 977.5,270.1 979.1,268.9 980.6,267.7 982.7,265.7 984.8,263.3 986.8,260.7 989.0,258.0 991.2,255.5 993.6,253.4 996.0,251.8 998.6,250.4 1001.2,249.1 1003.9,247.9 1006.6,246.8 1009.1,245.6 1011.3,244.5 1013.5,243.5 1015.7,242.6 1017.8,241.5 1019.9,240.4 1022.1,239.1 1024.7,237.2 1027.3,235.1 1029.8,232.8 1032.4,230.5 1035.1,228.2 1037.7,226.1 1040.3,224.1 1042.9,222.0 1045.6,220.0 1048.2,218.1 1050.8,216.7 1053.3,215.8 1055.1,215.5 1056.8,215.5 1058.5,215.8 1060.2,216.1 1061.9,216.6 1063.6,217.1 1065.5,217.7 1067.3,218.4 1069.2,219.3 1071.1,220.2 1073.0,221.2 1075.0,222.2 1077.5,223.7 1080.0,225.4 1082.6,227.3 1085.2,229.0 1087.9,230.4 1090.6,231.2 1093.1,231.4 1095.6,231.2 1098.2,230.8 1100.8,230.1 1103.4,229.4 1106.1,228.7 1109.5,227.6 1113.0,226.1 1116.6,224.5 1120.2,223.1 1123.7,222.2 1126.9,222.2 1129.8,223.1 1132.5,224.6 1135.1,226.6 1137.6,228.9 1140.1,231.3 1142.5,233.8 1145.3,236.8 1147.9,240.2 1150.5,243.8 1153.0,247.5 1155.5,251.1 1158.0,254.6 1160.2,257.8 1162.3,260.9 1164.4,264.1 1166.5,267.1 1168.6,270.1 1171.0,272.8 1173.4,275.2 1176.1,277.3 1178.8,279.4 1181.5,281.4 1184.1,283.4 1186.6,285.7 1188.9,288.1 1191.2,290.5 1193.3,293.1 1195.4,295.7 1197.5,298.4 1199.5,301.3 1201.8,304.8 1203.9,308.6 1206.1,312.4 1208.2,316.5 1210.3,320.6 1212.5,324.7 1215.0,330.0 1217.5,336.1 1220.0,342.3 1222.6,347.9 1225.3,352.2 1228.1,354.5 1229.8,354.9 1231.6,354.7 1233.4,354.1 1235.1,353.2 1236.9,352.0 1238.5,350.6 1241.0,347.6 1243.3,343.5 1245.5,338.7 1247.5,333.3 1249.5,327.7 1251.4,322.1 1253.8,314.4 1256.0,305.9 1258.1,297.0 1260.2,287.9 1262.2,278.9 1264.4,270.2 1266.5,262.0 1268.7,253.7 1270.8,245.5 1273.0,237.6 1275.2,230.2 1277.4,223.5 1278.8,219.2 1280.2,214.9 1281.5,210.8 1283.0,207.3 1284.6,204.3 1286.5,202.2 1287.9,201.3 1289.3,200.8 1290.8,200.4 1292.4,200.3 1294.0,200.4 1295.5,200.6 1297.3,201.0 1299.1,201.6 1300.9,202.4 1302.6,203.5 1304.3,204.9 1305.9,206.6 1308.6,211.3 1310.9,217.8 1313.0,225.4 1314.9,233.6 1316.9,241.8 1318.9,249.4 1321.1,256.7 1323.2,263.9 1325.3,271.1 1327.4,278.4 1329.6,285.9 1331.9,293.5 1334.6,302.3 1337.3,311.2 1340.1,320.4 1343.0,329.6 1345.9,338.9 1348.7,348.0" fill="none" stroke="#000080" stroke-width="3" stroke-linejoin="round"/>
<polyline points="103.0,258.4 105.0,258.4 106.9,258.5 108.9,258.6 110.9,258.6 112.8,258.6 114.8,258.4 116.8,258.2 118.9,257.9 120.9,257.6 123.0,257.1 124.9,256.4 126.7,255.4 128.6,253.9 130.4,252.1 132.1,250.0 133.7,247.7 135.2,245.1 136.7,242.5 138.6,238.6 140.4,234.2 142.0,229.5 143.6,224.6 145.1,219.7 146.6,214.8 148.0,209.7 149.4,204.4 150.6,199.1 151.8,193.8 153.1,188.4 154.5,183.0 156.0,177.4 157.5,171.6 159.1,165.9 160.8,160.2 162.5,154.6 164.4,149.3 166.2,144.7 168.2,140.2 170.2,135.8 172.2,131.5 174.3,127.4 176.3,123.5 177.9,120.3 179.5,117.1 181.0,114.0 182.7,111.1 184.4,108.6 186.3,106.6 187.8,105.4 189.5,104.3 191.2,103.5 192.9,102.9 194.6,102.6 196.2,102.7 198.0,103.4 199.7,104.7 201.4,106.4 203.0,108.4 204.6,110.5 206.1,112.6 207.9,115.3 209.6,118.3 211.2,121.4 212.8,124.7 214.4,128.1 216.0,131.4 217.7,135.0 219.4,138.6 221.0,142.3 222.7,146.0 224.3,149.7 226.0,153.3 227.6,156.7 229.3,160.2 230.9,163.7 232.6,167.0 234.2,170.2 235.9,173.1 237.2,175.3 238.4,177.4 239.6,179.5 240.9,181.3 242.3,182.8 243.8,184.0 245.3,184.7 246.9,185.2 248.6,185.5 250.4,185.5 252.1,185.4 253.7,185.0 255.4,184.2 257.1,183.1 258.7,181.7 260.3,180.2 262.0,178.5 263.7,177.0 265.8,175.1 268.0,173.0 270.3,170.9 272.6,168.8 275.0,166.9 277.5,165.2 280.0,163.7 282.7,162.3 285.5,161.0 288.2,160.0 290.9,159.4 293.4,159.2 295.5,159.5 297.5,160.3 299.5,161.3 301.5,162.6 303.4,163.9 305.3,165.2 307.3,166.7 309.3,168.4 311.3,170.2 313.3,172.0 315.2,173.7 317.2,175.1 318.9,176.2 320.5,177.2 322.1,178.1 323.8,178.9 325.4,179.5 327.1,180.0 328.7,180.3 330.3,180.5 332.0,180.5 333.6,180.4 335.3,180.3 337.1,180.0 339.4,179.5 341.9,178.7 344.4,177.8 347.0,176.8 349.5,175.9 351.9,175.1 354.0,174.4 356.0,173.8 357.9,173.1 359.9,172.5 361.8,172.2 363.8,172.1 365.8,172.3 367.8,172.8 369.8,173.4 371.8,174.2 373.8,175.1 375.7,176.1 377.7,177.3 379.8,178.7 381.7,180.2 383.7,181.8 385.6,183.4 387.6,185.0 389.6,186.7 391.5,188.4 393.5,190.2 395.5,191.9 397.5,193.5 399.5,194.9 401.4,196.0 403.3,197.0 405.2,197.9 407.2,198.6 409.3,199.3 411.4,199.9 413.9,200.4 416.5,200.6 419.2,200.7 421.9,200.8 424.6,201.0 427.3,201.3 430.0,201.8 432.6,202.3 435.3,202.9 437.9,203.5 440.6,204.2 443.2,204.8 445.9,205.4 448.5,206.1 451.2,206.8 453.9,207.5 456.5,208.0 459.0,208.4 461.1,208.6 463.1,208.8 465.1,208.9 467.1,208.9 469.1,208.7 471.0,208.4 473.0,207.9 475.1,207.2 477.1,206.3 479.1,205.3 481.0,204.2 482.9,202.9 485.0,201.3 487.0,199.4 488.9,197.4 490.8,195.3 492.8,193.1 494.8,191.0 497.0,188.7 499.3,186.4 501.7,184.0 504.0,181.6 506.3,179.2 508.7,177.0 511.0,174.9 513.3,172.8 515.6,170.7 517.9,168.8 520.2,166.9 522.5,165.2 524.5,163.8 526.5,162.6 528.4,161.4 530.4,160.3 532.4,159.2 534.4,158.2 536.4,157.2 538.3,156.2 540.3,155.2 542.3,154.4 544.3,153.7 546.3,153.3 548.3,153.2 550.3,153.2 552.4,153.4 554.4,153.8 556.4,154.4 558.3,155.2 560.4,156.3 562.5,157.8 564.5,159.5 566.5,161.3 568.4,163.3 570.2,165.2 572.0,167.2 573.7,169.2 575.3,171.3 576.9,173.6 578.5,176.2 580.1,179.0 582.7,184.4 585.2,190.8 587.8,197.8 590.3,205.0 592.9,212.0 595.4,218.4 597.5,223.5 599.6,228.5 601.6,233.3 603.8,238.0 606.0,242.6 608.4,246.9 610.8,250.7 613.3,254.5 616.0,258.1 618.7,261.5 621.3,264.7 624.0,267.7 626.1,270.0 628.3,272.2 630.4,274.3 632.6,276.2 634.7,277.9 636.9,279.4 638.6,280.4 640.4,281.4 642.1,282.2 643.8,282.8 645.6,283.2 647.3,283.3 649.1,283.1 650.9,282.6 652.7,281.8 654.4,280.8 656.1,279.6 657.7,278.1 659.8,275.3 661.6,271.9 663.2,267.9 664.8,263.5 666.4,259.1 668.1,254.7 670.2,249.4 672.4,243.9 674.5,238.2 676.7,232.4 678.9,226.6 681.1,221.0 683.2,215.6 685.2,210.0 687.3,204.5 689.4,199.2 691.6,194.3 694.0,189.8 696.0,186.6 698.1,183.6 700.3,180.8 702.5,178.2 704.7,176.0 707.0,174.2 708.7,173.1 710.3,172.3 711.9,171.6 713.7,171.1 715.5,170.7 717.4,170.3 720.1,170.1 723.1,170.1 726.3,170.4 729.5,170.6 732.6,170.6 735.6,170.3 738.3,169.7 741.0,168.8 743.7,167.8 746.2,166.6 748.7,165.3 751.1,163.8 753.4,161.9 755.6,159.7 757.7,157.4 759.8,155.0 761.9,152.8 764.1,150.9 766.2,149.5 768.3,148.1 770.4,147.0 772.6,145.9 774.8,145.1 777.1,144.4 779.5,144.0 782.1,143.8 784.6,143.8 787.3,144.0 789.9,144.2 792.7,144.4 796.0,144.7 799.5,145.0 803.1,145.5 806.6,146.0 810.1,146.5 813.5,147.0 816.4,147.4 819.2,147.8 822.0,148.2 824.7,148.6 827.4,149.1 830.0,149.6 832.3,150.2 834.5,150.9 836.6,151.6 838.7,152.3 840.8,153.0 843.0,153.5 845.2,153.9 847.3,154.4 849.5,154.8 851.7,155.0 853.9,155.0 856.0,154.8 858.2,154.2 860.3,153.4 862.5,152.3 864.6,151.1 866.7,149.7 868.9,148.3 871.5,146.4 874.2,144.3 876.9,142.0 879.5,139.7 882.1,137.4 884.5,135.3 886.4,133.6 888.1,131.9 889.8,130.3 891.5,128.7 893.2,127.3 894.9,126.2 896.4,125.4 897.9,124.7 899.5,124.1 901.0,123.6 902.5,123.5 904.0,123.6 905.6,124.2 907.2,125.2 908.7,126.4 910.2,128.0 911.7,129.6 913.1,131.4 915.0,134.0 916.8,137.1 918.5,140.4 920.2,143.9 921.8,147.4 923.5,150.9 925.3,154.6 927.0,158.5 928.7,162.4 930.4,166.3 932.1,170.3 933.8,174.2 935.5,178.1 937.2,182.0 938.9,185.9 940.6,189.8 942.3,193.7 944.2,197.6 946.2,201.6 948.3,205.7 950.4,209.7 952.6,213.7 954.9,217.5 957.2,221.0 959.2,224.1 961.3,227.2 963.4,230.1 965.5,232.8 967.8,235.0 970.2,236.5 972.3,237.2 974.5,237.6 976.7,237.7 979.0,237.5 981.2,236.9 983.2,236.0 985.7,234.0 987.9,231.1 990.1,227.5 992.1,223.6 994.1,219.6 996.1,215.8 998.3,211.5 1000.4,206.9 1002.4,202.2 1004.5,197.6 1006.7,193.4 1009.1,189.8 1011.1,187.5 1013.2,185.3 1015.4,183.3 1017.7,181.7 1019.9,180.3 1022.1,179.4 1023.8,179.0 1025.6,178.8 1027.3,178.8 1029.0,179.0 1030.8,179.3 1032.5,179.9 1034.7,180.9 1036.9,182.2 1039.1,183.8 1041.3,185.6 1043.5,187.7 1045.5,189.8 1047.9,192.8 1050.1,196.1 1052.3,199.8 1054.4,203.6 1056.4,207.2 1058.5,210.6 1060.2,213.3 1061.9,215.8 1063.5,218.3 1065.1,220.8 1066.9,223.3 1068.8,226.1 1071.7,230.0 1074.9,234.2 1078.4,238.6 1081.8,243.0 1085.1,247.5 1088.0,252.0 1090.5,256.3 1092.8,260.7 1094.9,265.1 1097.0,269.5 1099.0,273.8 1101.0,278.0 1102.8,281.7 1104.5,285.3 1106.2,288.9 1107.9,292.4 1109.6,295.6 1111.3,298.7 1112.6,301.0 1113.8,303.2 1115.0,305.3 1116.3,307.2 1117.6,308.9 1119.1,310.4 1120.5,311.5 1122.0,312.5 1123.5,313.4 1125.1,314.0 1126.6,314.3 1128.2,314.3 1130.1,313.6 1132.1,312.3 1134.1,310.5 1136.1,308.4 1138.0,306.2 1139.9,303.9 1142.2,300.9 1144.3,297.5 1146.4,293.9 1148.5,290.2 1150.6,286.6 1152.8,283.1 1154.9,279.9 1157.0,276.7 1159.1,273.5 1161.3,270.4 1163.5,267.6 1165.8,265.0 1167.8,263.0 1169.9,261.1 1172.0,259.4 1174.1,257.8 1176.4,256.4 1178.8,255.1 1181.6,254.0 1184.7,253.3 1187.9,252.7 1191.0,252.2 1194.1,251.5 1197.0,250.7 1199.3,249.8 1201.6,249.0 1203.7,248.1 1205.8,247.0 1207.8,245.8 1209.9,244.2 1212.6,241.5 1215.3,238.3 1217.9,234.6 1220.5,230.8 1223.0,227.0 1225.5,223.5 1227.7,220.3 1229.9,217.0 1232.0,213.7 1234.1,210.5 1236.3,207.7 1238.5,205.3 1240.2,203.8 1241.9,202.4 1243.6,201.2 1245.3,200.1 1247.0,199.3 1248.8,198.8 1250.5,198.5 1252.2,198.5 1253.9,198.7 1255.7,199.0 1257.4,199.5 1259.2,200.1 1261.4,201.2 1263.5,202.6 1265.7,204.2 1267.8,205.9 1270.0,207.7 1272.2,209.2 1274.3,210.6 1276.5,212.1 1278.6,213.5 1280.8,214.9 1283.0,216.1 1285.2,217.0 1287.3,217.6 1289.3,218.1 1291.4,218.4 1293.5,218.6 1295.7,218.7 1298.1,218.8 1301.6,218.8 1305.3,218.7 1309.3,218.5 1313.3,218.2 1317.4,218.0 1321.5,217.8 1325.9,217.7 1330.4,217.7 1335.0,217.7 1339.6,217.8 1344.1,217.8 1348.7,217.8" fill="none" stroke="#8B0000" stroke-width="3" stroke-linejoin="round"/>
<polyline points="103.0,234.6 103.8,233.0 104.5,231.3 105.2,229.6 105.9,228.0 106.8,226.7 107.9,225.7 109.1,225.2 110.5,225.1 112.1,225.1 113.6,225.3 115.2,225.6 116.8,225.7 118.4,225.9 120.1,226.1 121.7,226.4 123.4,226.6 125.1,226.7 126.7,226.7 128.4,226.5 130.1,226.1 131.8,225.7 133.4,225.1 135.1,224.4 136.7,223.7 138.4,222.8 140.1,221.8 141.7,220.7 143.3,219.5 145.0,218.1 146.6,216.7 148.6,214.7 150.6,212.4 152.6,209.9 154.6,207.4 156.5,205.1 158.5,202.9 160.1,201.2 161.8,199.5 163.4,197.9 165.0,196.4 166.7,195.0 168.4,193.9 170.0,193.1 171.6,192.5 173.2,192.0 174.9,191.7 176.6,191.3 178.3,191.0 180.2,190.7 182.2,190.4 184.2,190.2 186.3,190.0 188.3,190.0 190.2,190.0 191.9,190.1 193.6,190.3 195.3,190.6 197.0,190.9 198.6,191.4 200.2,192.0 201.9,192.8 203.6,193.9 205.2,195.0 206.9,196.3 208.5,197.6 210.1,198.9 211.8,200.3 213.4,201.8 215.0,203.3 216.6,204.9 218.3,206.4 220.0,207.8 221.9,209.3 223.8,210.8 225.8,212.3 227.8,213.6 229.8,214.8 231.9,215.8 233.8,216.5 235.8,217.0 237.9,217.3 239.9,217.6 241.9,217.7 243.8,217.7 245.5,217.6 247.2,217.3 248.8,217.0 250.4,216.6 252.1,216.2 253.7,215.8 255.4,215.4 257.0,215.0 258.7,214.5 260.4,214.1 262.0,213.9 263.7,213.8 265.4,214.0 267.0,214.3 268.6,214.7 270.3,215.3 271.9,216.0 273.6,216.7 275.6,217.8 277.6,219.1 279.6,220.6 281.6,222.0 283.6,223.5 285.5,224.7 287.2,225.7 288.8,226.5 290.5,227.4 292.1,228.2 293.7,228.9 295.4,229.6 297.0,230.3 298.7,230.9 300.4,231.6 302.1,232.1 303.7,232.4 305.3,232.6 306.7,232.6 308.1,232.5 309.4,232.4 310.8,232.0 312.1,231.4 313.3,230.6 315.2,228.5 316.9,225.7 318.6,222.2 320.1,218.5 321.7,214.6 323.2,210.8 324.9,206.4 326.4,201.8 328.0,197.1 329.5,192.3 331.2,187.6 333.1,183.0 335.3,178.3 337.7,173.5 340.3,168.7 342.9,164.3 345.4,160.3 347.9,157.2 349.2,155.8 350.6,154.6 351.9,153.5 353.2,152.6 354.5,151.9 355.9,151.3 357.2,150.8 358.5,150.5 359.8,150.2 361.1,150.1 362.5,150.1 363.8,150.3 365.4,150.8 367.1,151.5 368.8,152.4 370.5,153.5 372.1,154.8 373.7,156.2 375.5,158.2 377.2,160.5 378.9,163.1 380.5,165.8 382.1,168.5 383.7,171.1 385.4,173.8 387.0,176.5 388.6,179.2 390.2,182.0 391.9,184.6 393.6,187.0 395.2,189.1 396.7,191.1 398.3,193.0 399.9,194.8 401.7,196.5 403.5,197.9 405.3,199.1 407.2,200.1 409.2,201.0 411.2,201.8 413.3,202.4 415.4,202.9 417.6,203.3 419.9,203.6 422.3,203.7 424.6,203.7 427.0,203.6 429.3,203.3 431.6,202.9 433.9,202.3 436.2,201.6 438.5,200.7 440.9,199.8 443.2,198.9 445.8,197.7 448.3,196.4 450.9,194.9 453.5,193.5 456.2,192.1 459.0,191.0 462.2,190.0 465.6,189.0 469.1,188.2 472.5,187.6 475.8,187.2 478.9,187.0 481.1,187.1 483.1,187.6 485.1,188.1 487.0,188.6 488.9,189.0 490.8,189.0 492.8,188.8 494.8,188.3 496.9,187.7 498.9,187.0 500.8,186.1 502.7,185.0 504.8,183.5 506.8,181.7 508.8,179.7 510.8,177.5 512.7,175.3 514.6,173.1 516.6,170.6 518.6,167.8 520.5,164.9 522.4,162.1 524.4,159.5 526.5,157.2 528.4,155.4 530.4,153.6 532.4,152.0 534.4,150.6 536.4,149.5 538.4,148.9 540.1,148.7 541.8,148.8 543.5,149.2 545.1,149.7 546.7,150.4 548.3,151.3 550.1,152.6 551.8,154.3 553.5,156.3 555.1,158.5 556.7,160.8 558.3,163.2 560.4,166.6 562.4,170.4 564.4,174.5 566.4,178.7 568.3,182.9 570.2,187.0 571.9,191.0 573.5,195.1 575.0,199.2 576.6,203.2 578.2,207.1 580.1,210.8 582.0,214.2 584.0,217.6 586.1,220.9 588.3,224.0 590.5,226.6 592.8,228.7 594.5,229.9 596.1,230.9 597.9,231.7 599.6,232.2 601.4,232.6 603.2,232.6 605.3,232.2 607.5,231.5 609.7,230.4 611.9,229.1 614.1,227.6 616.2,226.1 618.4,224.2 620.6,222.1 622.7,219.7 624.8,217.4 626.9,215.2 629.1,213.2 631.2,211.6 633.2,210.2 635.3,208.8 637.5,207.6 639.7,206.4 642.1,205.4 644.9,204.5 647.9,203.8 651.0,203.3 654.1,202.8 657.2,202.2 660.3,201.5 663.4,200.6 666.5,199.5 669.5,198.4 672.6,197.3 675.6,196.1 678.5,195.0 681.2,193.9 683.8,192.7 686.4,191.5 688.9,190.4 691.5,189.3 694.0,188.5 696.2,187.9 698.3,187.4 700.5,187.0 702.6,186.7 704.8,186.5 707.0,186.4 709.5,186.4 712.1,186.5 714.8,186.8 717.4,187.2 720.0,187.7 722.6,188.5 725.3,189.6 728.0,190.9 730.6,192.4 733.2,194.0 735.8,195.8 738.2,197.6 740.5,199.6 742.7,201.7 744.8,204.0 746.8,206.3 748.9,208.5 751.1,210.6 753.2,212.5 755.3,214.5 757.4,216.5 759.6,218.2 761.8,219.8 764.1,221.0 766.2,221.8 768.4,222.4 770.5,222.9 772.8,223.1 774.9,223.2 777.1,223.0 779.3,222.6 781.6,221.9 783.8,221.0 785.9,219.9 788.1,218.6 790.1,217.1 792.4,214.8 794.5,212.1 796.6,209.0 798.6,205.8 800.8,202.8 803.1,200.2 805.5,198.0 808.0,195.8 810.5,193.7 813.2,191.8 815.9,190.3 818.6,189.0 821.3,188.2 824.1,187.6 827.0,187.3 829.9,187.1 832.6,187.1 835.0,187.2 836.5,187.4 837.8,187.7 839.1,188.1 840.3,188.5 841.6,188.8 843.0,189.0 845.0,189.2 847.1,189.3 849.3,189.4 851.5,189.3 853.8,189.0 856.0,188.5 858.6,187.3 861.1,185.6 863.7,183.7 866.3,181.6 868.9,179.7 871.5,178.1 874.1,176.9 876.7,175.7 879.3,174.7 881.9,173.8 884.6,173.2 887.1,172.9 889.4,172.8 891.6,172.9 893.9,173.2 896.1,173.7 898.2,174.5 900.1,175.5 902.1,177.1 904.0,179.2 905.7,181.7 907.3,184.3 908.9,187.1 910.5,189.8 912.3,193.0 914.0,196.5 915.6,200.1 917.3,203.7 919.0,207.3 920.9,210.6 922.9,213.6 924.9,216.7 927.0,219.6 929.2,222.4 931.5,225.0 933.8,227.4 935.9,229.4 938.0,231.4 940.2,233.2 942.4,234.8 944.6,236.1 946.8,237.0 948.5,237.4 950.3,237.7 952.0,237.7 953.8,237.5 955.5,237.1 957.2,236.5 959.5,235.2 961.7,233.5 963.9,231.4 966.1,228.9 968.2,226.3 970.2,223.5 972.7,219.5 974.9,214.9 977.1,210.0 979.2,204.9 981.2,199.8 983.2,195.0 985.0,190.5 986.6,186.0 988.2,181.5 989.9,177.1 991.6,172.9 993.6,169.0 995.5,165.7 997.4,162.5 999.5,159.4 1001.7,156.6 1004.0,154.2 1006.5,152.2 1008.9,150.9 1011.5,149.8 1014.1,149.1 1016.9,148.6 1019.5,148.3 1022.1,148.3 1024.3,148.5 1026.5,148.8 1028.7,149.4 1030.8,150.1 1033.0,151.1 1035.1,152.2 1037.7,154.0 1040.3,156.4 1042.8,159.0 1045.4,161.7 1048.0,164.3 1050.7,166.4 1053.2,168.0 1055.7,169.3 1058.3,170.5 1060.9,171.7 1063.5,172.9 1066.2,174.2 1069.4,175.7 1072.7,177.2 1076.1,178.8 1079.4,180.4 1082.5,182.3 1085.4,184.5 1087.9,187.2 1090.1,190.2 1092.2,193.5 1094.1,196.8 1096.2,200.0 1098.4,202.7 1100.4,204.8 1102.5,206.8 1104.6,208.6 1106.7,210.3 1109.0,211.8 1111.3,213.1 1113.7,214.2 1116.3,215.1 1119.0,215.8 1121.7,216.4 1124.3,216.8 1126.9,217.0 1129.1,217.0 1131.3,216.9 1133.5,216.7 1135.6,216.3 1137.8,215.8 1139.9,215.2 1142.1,214.4 1144.2,213.5 1146.3,212.4 1148.4,211.3 1150.6,210.2 1152.8,209.2 1155.3,208.1 1157.9,207.0 1160.5,205.9 1163.1,204.9 1165.8,204.1 1168.4,203.5 1171.0,203.2 1173.6,203.2 1176.3,203.3 1178.9,203.4 1181.5,203.5 1184.0,203.5 1186.3,203.4 1188.5,203.4 1190.7,203.3 1192.9,203.1 1195.0,202.8 1197.0,202.2 1198.9,201.4 1200.7,200.5 1202.5,199.4 1204.2,198.2 1205.8,196.7 1207.3,194.9 1209.4,191.6 1211.2,187.6 1212.9,183.1 1214.5,178.3 1216.0,173.5 1217.7,169.0 1219.4,164.6 1221.1,160.1 1222.9,155.6 1224.6,151.2 1226.3,147.0 1228.1,143.0 1229.5,139.8 1231.0,136.6 1232.4,133.6 1233.9,130.8 1235.5,128.3 1237.2,126.2 1238.6,124.9 1240.1,123.8 1241.6,122.8 1243.2,122.1 1244.7,121.6 1246.3,121.5 1248.0,121.7 1249.8,122.4 1251.6,123.3 1253.3,124.5 1255.0,125.9 1256.6,127.5 1258.6,130.1 1260.5,133.2 1262.2,136.6 1263.8,140.4 1265.4,144.3 1267.0,148.2 1268.9,153.1 1270.6,158.3 1272.3,163.7 1274.0,169.2 1275.7,174.5 1277.4,179.4 1278.8,183.5 1280.2,187.6 1281.5,191.7 1283.0,195.4 1284.6,198.7 1286.5,201.4 1288.0,202.9 1289.7,204.2 1291.4,205.3 1293.2,206.2 1295.0,206.9 1296.8,207.4 1298.3,207.7 1299.8,207.9 1301.2,207.9 1302.7,207.9 1304.3,207.7 1305.9,207.4 1308.2,206.8 1310.7,205.9 1313.2,204.8 1315.8,203.7 1318.6,202.5 1321.5,201.4 1325.6,200.1 1330.0,198.8 1334.6,197.5 1339.3,196.2 1344.1,194.9 1348.7,193.6" fill="none" stroke="#0000CD" stroke-width="3" stroke-linejoin="round"/>
<polyline points="103.0,192.0 104.3,193.2 105.6,194.3 106.8,195.5 108.1,196.6 109.5,197.8 110.9,198.9 112.7,200.2 114.7,201.5 116.7,202.9 118.7,204.2 120.8,205.5 122.8,206.8 124.8,208.1 126.8,209.5 128.7,210.9 130.7,212.2 132.7,213.5 134.7,214.8 136.7,216.0 138.6,217.2 140.6,218.4 142.6,219.6 144.6,220.7 146.6,221.7 148.6,222.7 150.6,223.6 152.6,224.5 154.6,225.3 156.6,226.1 158.5,226.7 160.2,227.2 161.9,227.6 163.6,227.9 165.2,228.2 166.8,228.4 168.4,228.6 169.8,228.7 171.1,228.8 172.3,228.8 173.6,228.8 174.9,228.6 176.3,228.3 178.2,227.6 180.2,226.6 182.2,225.5 184.2,224.2 186.3,222.9 188.3,221.7 190.3,220.6 192.3,219.5 194.4,218.4 196.4,217.2 198.3,216.0 200.2,214.8 201.9,213.5 203.6,212.2 205.1,210.8 206.7,209.4 208.4,208.1 210.1,206.8 212.0,205.5 213.9,204.3 215.9,203.1 217.9,201.9 220.0,200.9 222.0,199.9 223.9,199.1 225.9,198.3 227.8,197.6 229.8,196.9 231.8,196.4 233.9,195.9 236.4,195.5 239.0,195.2 241.7,194.9 244.4,194.8 247.1,194.6 249.8,194.5 252.4,194.4 255.0,194.3 257.6,194.3 260.3,194.2 262.9,194.1 265.6,193.9 268.5,193.5 271.5,193.0 274.5,192.5 277.5,191.9 280.5,191.4 283.5,191.0 286.5,190.7 289.5,190.4 292.5,190.2 295.4,190.0 298.4,190.0 301.3,190.0 304.0,190.2 306.7,190.4 309.3,190.8 311.9,191.2 314.6,191.6 317.2,192.0 319.8,192.5 322.5,193.0 325.1,193.6 327.7,194.1 330.4,194.6 333.1,194.9 336.2,195.2 339.4,195.4 342.7,195.6 345.9,195.6 349.0,195.4 351.9,194.9 354.1,194.2 356.1,193.4 358.1,192.4 360.0,191.3 361.9,190.1 363.8,189.0 365.8,187.8 367.8,186.4 369.8,185.1 371.7,183.7 373.7,182.3 375.7,181.0 377.6,179.8 379.6,178.6 381.5,177.4 383.5,176.3 385.5,175.2 387.6,174.1 390.1,173.0 392.6,171.9 395.2,170.9 397.9,169.9 400.7,169.0 403.5,168.1 406.7,167.2 409.9,166.3 413.2,165.5 416.6,164.8 420.0,164.0 423.3,163.2 426.6,162.3 429.9,161.4 433.2,160.5 436.5,159.6 439.9,158.9 443.2,158.2 446.5,157.7 449.8,157.2 453.1,156.8 456.4,156.5 459.7,156.3 463.0,156.2 466.3,156.2 469.6,156.3 472.9,156.5 476.3,156.8 479.6,157.0 482.9,157.2 486.2,157.3 489.5,157.3 492.8,157.4 496.1,157.4 499.4,157.5 502.7,157.6 506.1,157.9 509.5,158.2 512.9,158.6 516.3,159.0 519.5,159.2 522.5,159.2 524.7,159.1 526.7,158.9 528.6,158.6 530.5,158.2 532.4,157.7 534.4,157.2 536.7,156.5 539.0,155.6 541.3,154.6 543.7,153.5 546.0,152.4 548.3,151.3 550.6,150.1 552.9,148.8 555.2,147.4 557.5,146.0 559.8,144.6 562.2,143.3 564.7,141.7 567.3,140.0 569.9,138.3 572.5,136.7 575.2,135.6 578.1,135.0 581.6,135.2 585.4,136.0 589.3,137.4 593.3,139.1 597.1,141.1 600.6,143.1 603.9,145.3 606.9,147.8 609.9,150.4 612.8,153.2 615.7,156.0 618.7,158.6 621.7,161.0 624.8,163.4 627.8,165.7 630.8,168.1 633.9,170.5 636.9,172.9 639.9,175.5 643.0,178.1 646.0,180.8 649.0,183.5 652.0,186.1 655.1,188.5 658.1,190.7 661.1,192.7 664.2,194.7 667.3,196.6 670.3,198.5 673.3,200.2 675.9,201.7 678.5,203.2 681.0,204.6 683.6,205.9 686.2,207.0 688.8,208.0 691.4,208.8 693.9,209.4 696.6,209.9 699.2,210.3 701.8,210.5 704.4,210.6 707.0,210.5 709.5,210.2 712.1,209.8 714.7,209.3 717.3,208.6 720.0,208.0 723.3,207.1 726.7,206.1 730.2,204.9 733.8,203.7 737.3,202.6 740.8,201.5 744.2,200.5 747.7,199.5 751.1,198.6 754.6,197.7 758.0,197.0 761.5,196.3 764.9,195.8 768.3,195.5 771.7,195.2 775.2,195.0 778.7,194.8 782.3,194.5 786.5,194.1 790.7,193.8 795.1,193.4 799.5,193.0 803.9,192.7 808.3,192.4 812.8,192.1 817.3,191.9 821.8,191.7 826.3,191.5 830.7,191.3 835.0,191.1 838.6,190.9 842.2,190.8 845.7,190.6 849.1,190.4 852.5,190.2 856.0,189.8 859.5,189.3 862.9,188.8 866.4,188.2 869.8,187.6 873.3,186.8 876.7,185.9 880.2,184.8 883.7,183.6 887.2,182.3 890.7,181.0 894.1,179.5 897.5,178.1 900.6,176.6 903.7,175.0 906.8,173.3 909.8,171.7 912.7,170.2 915.7,169.0 918.3,168.0 920.9,167.0 923.5,166.2 926.1,165.5 928.6,165.1 931.2,165.1 933.8,165.5 936.5,166.2 939.1,167.3 941.7,168.5 944.3,170.0 946.8,171.6 949.5,173.7 952.2,176.2 954.7,178.9 957.3,181.8 959.8,184.6 962.4,187.2 965.0,189.7 967.5,192.2 970.1,194.7 972.7,197.2 975.3,199.4 978.0,201.5 980.5,203.3 983.1,205.0 985.8,206.7 988.4,208.1 991.0,209.2 993.6,210.0 995.8,210.4 997.9,210.5 1000.0,210.5 1002.2,210.2 1004.3,209.8 1006.5,209.3 1009.1,208.4 1011.7,207.3 1014.3,205.9 1016.9,204.5 1019.5,203.0 1022.1,201.5 1024.7,200.0 1027.3,198.5 1029.8,196.9 1032.4,195.4 1035.0,193.8 1037.7,192.4 1040.6,190.9 1043.6,189.2 1046.6,187.7 1049.7,186.3 1052.8,185.2 1055.9,184.6 1059.1,184.5 1062.3,184.8 1065.6,185.4 1068.8,186.3 1072.0,187.3 1075.0,188.4 1077.8,189.6 1080.4,190.9 1082.9,192.5 1085.5,194.1 1088.0,195.8 1090.6,197.5 1093.6,199.5 1096.6,201.6 1099.6,203.8 1102.6,206.1 1105.7,208.3 1108.7,210.5 1111.8,212.6 1114.9,214.7 1118.0,216.8 1121.0,219.0 1124.0,221.2 1126.9,223.5 1129.6,226.0 1132.2,228.5 1134.7,231.2 1137.2,233.8 1139.8,236.5 1142.5,239.0 1145.4,241.5 1148.3,244.1 1151.3,246.6 1154.4,249.0 1157.5,251.3 1160.6,253.3 1163.5,254.9 1166.5,256.3 1169.5,257.6 1172.6,258.7 1175.7,259.9 1178.8,261.1 1182.2,262.5 1185.6,263.9 1189.1,265.3 1192.6,266.6 1196.1,267.9 1199.5,268.9 1202.6,269.7 1205.7,270.4 1208.8,271.1 1211.9,271.6 1214.8,272.0 1217.7,272.2 1220.0,272.3 1222.2,272.4 1224.3,272.5 1226.4,272.3 1228.5,272.0 1230.7,271.5 1233.3,270.5 1235.9,269.2 1238.5,267.6 1241.1,265.9 1243.7,264.1 1246.3,262.4 1248.9,260.6 1251.4,258.6 1254.0,256.6 1256.5,254.6 1259.1,252.6 1261.8,250.7 1264.7,248.8 1267.7,246.9 1270.7,245.0 1273.8,243.2 1276.9,241.6 1280.0,240.3 1282.9,239.3 1285.9,238.5 1288.8,237.8 1291.8,237.3 1294.9,236.8 1298.1,236.4 1301.8,236.0 1305.6,235.7 1309.5,235.6 1313.5,235.4 1317.5,235.3 1321.5,235.1 1325.9,234.8 1330.4,234.5 1335.0,234.2 1339.6,233.9 1344.1,233.6 1348.7,233.3" fill="none" stroke="#006400" stroke-width="3" stroke-linejoin="round"/>
</g>
<rect x="60" y="69.8" width="1288.7" height="370.2" fill="none" stroke="#000" stroke-width="2.8"/>
<line x1="60" y1="90.5" x2="69" y2="90.5" stroke="#000" stroke-width="2.2"/>
<text x="55" y="96.5" font-size="16.8" fill="#4d4d4d" text-anchor="end" font-weight="normal" >10</text>
<line x1="60" y1="194.8" x2="69" y2="194.8" stroke="#000" stroke-width="2.2"/>
<text x="55" y="200.8" font-size="16.8" fill="#4d4d4d" text-anchor="end" font-weight="normal" >0</text>
<line x1="60" y1="299" x2="69" y2="299" stroke="#000" stroke-width="2.2"/>
<text x="55" y="305" font-size="16.8" fill="#4d4d4d" text-anchor="end" font-weight="normal" >-10</text>
<line x1="60" y1="404" x2="69" y2="404" stroke="#000" stroke-width="2.2"/>
<text x="55" y="410" font-size="16.8" fill="#4d4d4d" text-anchor="end" font-weight="normal" >-20</text>
<text x="58.5" y="458.5" font-size="16.8" fill="#4d4d4d" text-anchor="middle" font-weight="normal" >2003</text>
<line x1="117.5" y1="431" x2="117.5" y2="440" stroke="#000" stroke-width="2.2"/>
<text x="117.5" y="458.5" font-size="16.8" fill="#4d4d4d" text-anchor="middle" font-weight="normal" >2004</text>
<line x1="176.4" y1="431" x2="176.4" y2="440" stroke="#000" stroke-width="2.2"/>
<text x="176.4" y="458.5" font-size="16.8" fill="#4d4d4d" text-anchor="middle" font-weight="normal" >2005</text>
<line x1="235.4" y1="431" x2="235.4" y2="440" stroke="#000" stroke-width="2.2"/>
<text x="235.4" y="458.5" font-size="16.8" fill="#4d4d4d" text-anchor="middle" font-weight="normal" >2006</text>
<line x1="294.4" y1="431" x2="294.4" y2="440" stroke="#000" stroke-width="2.2"/>
<text x="294.4" y="458.5" font-size="16.8" fill="#4d4d4d" text-anchor="middle" font-weight="normal" >2007</text>
<line x1="353.3" y1="431" x2="353.3" y2="440" stroke="#000" stroke-width="2.2"/>
<text x="353.3" y="458.5" font-size="16.8" fill="#4d4d4d" text-anchor="middle" font-weight="normal" >2008</text>
<line x1="412.3" y1="431" x2="412.3" y2="440" stroke="#000" stroke-width="2.2"/>
<text x="412.3" y="458.5" font-size="16.8" fill="#4d4d4d" text-anchor="middle" font-weight="normal" >2009</text>
<line x1="471.3" y1="431" x2="471.3" y2="440" stroke="#000" stroke-width="2.2"/>
<text x="471.3" y="458.5" font-size="16.8" fill="#4d4d4d" text-anchor="middle" font-weight="normal" >2010</text>
<line x1="530.2" y1="431" x2="530.2" y2="440" stroke="#000" stroke-width="2.2"/>
<text x="530.2" y="458.5" font-size="16.8" fill="#4d4d4d" text-anchor="middle" font-weight="normal" >2011</text>
<line x1="589.2" y1="431" x2="589.2" y2="440" stroke="#000" stroke-width="2.2"/>
<text x="589.2" y="458.5" font-size="16.8" fill="#4d4d4d" text-anchor="middle" font-weight="normal" >2012</text>
<line x1="648.2" y1="431" x2="648.2" y2="440" stroke="#000" stroke-width="2.2"/>
<text x="648.2" y="458.5" font-size="16.8" fill="#4d4d4d" text-anchor="middle" font-weight="normal" >2013</text>
<line x1="707.1" y1="431" x2="707.1" y2="440" stroke="#000" stroke-width="2.2"/>
<text x="707.1" y="458.5" font-size="16.8" fill="#4d4d4d" text-anchor="middle" font-weight="normal" >2014</text>
<line x1="766.1" y1="431" x2="766.1" y2="440" stroke="#000" stroke-width="2.2"/>
<text x="766.1" y="458.5" font-size="16.8" fill="#4d4d4d" text-anchor="middle" font-weight="normal" >2015</text>
<line x1="825.0" y1="431" x2="825.0" y2="440" stroke="#000" stroke-width="2.2"/>
<text x="825.0" y="458.5" font-size="16.8" fill="#4d4d4d" text-anchor="middle" font-weight="normal" >2016</text>
<line x1="884.0" y1="431" x2="884.0" y2="440" stroke="#000" stroke-width="2.2"/>
<text x="884.0" y="458.5" font-size="16.8" fill="#4d4d4d" text-anchor="middle" font-weight="normal" >2017</text>
<line x1="943.0" y1="431" x2="943.0" y2="440" stroke="#000" stroke-width="2.2"/>
<text x="943.0" y="458.5" font-size="16.8" fill="#4d4d4d" text-anchor="middle" font-weight="normal" >2018</text>
<line x1="1001.9" y1="431" x2="1001.9" y2="440" stroke="#000" stroke-width="2.2"/>
<text x="1001.9" y="458.5" font-size="16.8" fill="#4d4d4d" text-anchor="middle" font-weight="normal" >2019</text>
<line x1="1060.9" y1="431" x2="1060.9" y2="440" stroke="#000" stroke-width="2.2"/>
<text x="1060.9" y="458.5" font-size="16.8" fill="#4d4d4d" text-anchor="middle" font-weight="normal" >2020</text>
<line x1="1119.9" y1="431" x2="1119.9" y2="440" stroke="#000" stroke-width="2.2"/>
<text x="1119.9" y="458.5" font-size="16.8" fill="#4d4d4d" text-anchor="middle" font-weight="normal" >2021</text>
<line x1="1178.8" y1="431" x2="1178.8" y2="440" stroke="#000" stroke-width="2.2"/>
<text x="1178.8" y="458.5" font-size="16.8" fill="#4d4d4d" text-anchor="middle" font-weight="normal" >2022</text>
<line x1="1237.8" y1="431" x2="1237.8" y2="440" stroke="#000" stroke-width="2.2"/>
<text x="1237.8" y="458.5" font-size="16.8" fill="#4d4d4d" text-anchor="middle" font-weight="normal" >2023</text>
<line x1="1296.8" y1="431" x2="1296.8" y2="440" stroke="#000" stroke-width="2.2"/>
<text x="1296.8" y="458.5" font-size="16.8" fill="#4d4d4d" text-anchor="middle" font-weight="normal" >2024</text>
<clipPath id="cb"><rect x="60" y="624" width="1288.7" height="369.5"/></clipPath>
<g clip-path="url(#cb)">
<path d="M103.0,726.4 L105.0,726.5 L106.9,726.6 L108.9,726.8 L110.9,726.9 L112.8,727.0 L114.8,727.0 L116.8,726.9 L118.8,726.7 L120.8,726.5 L122.7,726.4 L124.7,726.3 L126.7,726.4 L128.7,726.7 L130.7,727.2 L132.7,727.9 L134.7,728.5 L136.7,729.2 L138.7,729.9 L140.7,730.6 L142.6,731.3 L144.5,732.0 L146.5,732.7 L148.5,733.3 L150.6,733.9 L153.1,734.4 L155.7,734.8 L158.3,735.1 L161.0,735.4 L163.7,735.7 L166.4,735.9 L169.1,736.2 L171.7,736.4 L174.4,736.7 L177.1,736.9 L179.7,737.0 L182.3,737.2 L184.7,737.5 L187.1,737.7 L189.5,738.0 L191.8,738.2 L194.0,738.2 L196.2,738.1 L198.0,737.9 L199.6,737.5 L201.3,737.1 L202.9,736.5 L204.5,735.9 L206.1,735.2 L208.1,734.2 L210.1,733.0 L212.1,731.7 L214.1,730.4 L216.0,728.9 L218.0,727.5 L220.0,726.0 L222.0,724.4 L224.0,722.8 L225.9,721.1 L227.9,719.5 L229.9,717.9 L231.9,716.4 L233.8,714.8 L235.8,713.2 L237.7,711.7 L239.7,710.4 L241.8,709.3 L243.7,708.4 L245.6,707.7 L247.6,707.2 L249.6,706.7 L251.6,706.3 L253.7,705.9 L256.2,705.6 L258.8,705.5 L261.5,705.4 L264.2,705.4 L266.9,705.3 L269.6,705.2 L272.3,704.9 L275.0,704.5 L277.7,704.2 L280.4,703.8 L283.0,703.4 L285.5,703.1 L287.6,702.9 L289.6,702.6 L291.6,702.4 L293.5,702.2 L295.4,702.2 L297.4,702.2 L299.4,702.4 L301.4,702.8 L303.4,703.2 L305.4,703.7 L307.4,704.3 L309.3,705.0 L311.3,705.9 L313.3,707.0 L315.3,708.2 L317.2,709.4 L319.2,710.6 L321.2,711.6 L323.1,712.5 L325.0,713.2 L326.9,714.0 L328.9,714.7 L330.9,715.5 L333.1,716.4 L336.3,717.9 L339.9,719.8 L343.6,721.9 L347.3,723.7 L350.8,725.2 L353.9,726.0 L355.7,726.1 L357.4,725.9 L358.9,725.6 L360.5,725.2 L362.1,724.6 L363.8,724.1 L366.3,723.1 L368.9,721.9 L371.6,720.5 L374.3,719.1 L377.0,717.6 L379.7,716.2 L382.3,714.9 L385.0,713.6 L387.6,712.3 L390.3,711.0 L392.9,709.7 L395.6,708.4 L398.2,707.2 L400.8,705.9 L403.5,704.7 L406.1,703.5 L408.7,702.4 L411.4,701.5 L414.0,700.8 L416.7,700.3 L419.4,699.9 L422.1,699.5 L424.7,699.1 L427.3,698.6 L429.7,698.0 L431.9,697.3 L434.2,696.6 L436.5,696.0 L438.8,695.3 L441.2,694.8 L444.0,694.3 L446.9,693.9 L449.9,693.6 L452.9,693.4 L455.9,693.1 L459.0,692.8 L462.3,692.4 L465.6,692.0 L468.9,691.6 L472.2,691.2 L475.6,690.8 L478.9,690.4 L482.2,690.1 L485.6,689.8 L489.0,689.6 L492.3,689.3 L495.6,688.9 L498.7,688.2 L501.5,687.4 L504.2,686.4 L506.8,685.3 L509.4,684.1 L512.0,683.0 L514.6,682.0 L517.2,681.0 L519.8,680.0 L522.5,679.0 L525.1,678.0 L527.8,677.2 L530.5,676.4 L533.4,675.6 L536.5,674.7 L539.5,673.9 L542.6,673.3 L545.5,673.1 L548.3,673.4 L550.8,674.3 L553.2,675.7 L555.5,677.5 L557.7,679.4 L559.9,681.4 L562.2,683.2 L564.6,685.2 L566.9,687.3 L569.3,689.5 L571.6,691.6 L573.9,693.5 L576.1,695.0 L577.6,695.8 L579.1,696.3 L580.6,696.7 L582.0,697.1 L583.5,697.6 L585.0,698.4 L587.0,699.9 L589.0,701.8 L591.1,703.9 L593.2,706.0 L595.4,708.0 L597.8,709.7 L600.7,711.3 L603.8,712.5 L607.1,713.6 L610.4,714.7 L613.8,715.8 L617.1,717.1 L620.6,718.7 L624.2,720.5 L627.8,722.3 L631.4,724.2 L635.0,725.9 L638.4,727.5 L641.3,728.7 L644.2,729.8 L647.0,730.8 L649.8,731.8 L652.6,732.9 L655.5,734.2 L658.7,735.8 L661.9,737.5 L665.1,739.4 L668.3,741.2 L671.5,743.0 L674.7,744.5 L677.5,745.8 L680.4,746.9 L683.1,747.9 L686.0,748.9 L688.8,749.8 L691.8,750.8 L695.3,751.8 L698.9,752.7 L702.6,753.6 L706.2,754.5 L709.8,755.6 L713.2,756.9 L716.3,758.4 L719.2,759.9 L722.0,761.6 L724.8,763.4 L727.6,765.4 L730.3,767.5 L733.3,770.1 L736.1,773.0 L739.0,776.0 L741.8,779.2 L744.6,782.3 L747.4,785.3 L750.2,788.2 L753.1,791.3 L756.0,794.4 L758.8,797.3 L761.7,799.9 L764.5,802.2 L766.7,803.6 L768.8,804.9 L771.0,806.0 L773.1,807.0 L775.2,807.7 L777.3,808.3 L779.1,808.7 L780.8,808.9 L782.6,809.0 L784.3,808.9 L786.1,808.8 L788.0,808.5 L790.4,808.1 L792.8,807.4 L795.4,806.6 L797.9,805.7 L800.5,804.8 L803.0,804.0 L805.5,803.2 L807.9,802.4 L810.4,801.6 L812.8,800.9 L815.3,800.1 L817.9,799.4 L820.7,798.6 L823.7,797.8 L826.7,797.0 L829.6,796.3 L832.4,795.7 L835.0,795.5 L836.7,795.4 L838.4,795.5 L839.9,795.7 L841.4,796.0 L843.0,796.2 L844.7,796.5 L847.0,796.9 L849.3,797.3 L851.8,797.8 L854.3,798.3 L856.8,798.7 L859.3,799.2 L861.8,799.8 L864.2,800.5 L866.7,801.1 L869.1,801.7 L871.6,802.0 L874.0,801.9 L876.5,801.3 L879.0,800.4 L881.4,799.2 L883.9,797.8 L886.3,796.3 L888.7,794.8 L891.2,793.2 L893.7,791.5 L896.1,789.6 L898.6,787.7 L900.9,785.8 L903.3,784.1 L905.4,782.6 L907.4,781.0 L909.5,779.5 L911.5,778.0 L913.5,776.8 L915.5,775.8 L917.1,775.2 L918.8,774.6 L920.4,774.1 L922.1,773.9 L923.7,773.8 L925.3,774.2 L927.4,775.2 L929.4,776.9 L931.4,779.1 L933.4,781.5 L935.4,783.9 L937.5,786.2 L939.8,788.6 L942.2,791.1 L944.6,793.6 L947.1,796.1 L949.6,798.7 L952.2,801.2 L955.3,804.3 L958.5,807.8 L961.7,811.3 L965.1,814.4 L968.4,816.9 L971.7,818.4 L974.1,818.9 L976.6,818.8 L979.0,818.4 L981.4,817.7 L983.9,816.8 L986.4,815.8 L989.5,814.4 L992.7,812.5 L995.9,810.3 L999.2,808.1 L1002.5,806.0 L1006.0,804.2 L1009.9,802.5 L1014.1,801.0 L1018.3,799.6 L1022.6,798.4 L1026.6,797.5 L1030.4,797.0 L1033.1,796.8 L1035.6,796.9 L1038.0,797.2 L1040.4,797.6 L1042.7,798.1 L1045.1,798.8 L1047.6,799.6 L1050.1,800.6 L1052.6,801.7 L1055.0,803.0 L1057.4,804.3 L1059.7,805.6 L1061.8,807.1 L1063.8,808.7 L1065.7,810.4 L1067.7,812.1 L1069.7,813.7 L1071.9,815.2 L1074.6,816.8 L1077.6,818.5 L1080.6,820.1 L1083.7,821.5 L1086.7,822.5 L1089.5,823.0 L1091.5,822.9 L1093.5,822.4 L1095.3,821.7 L1097.2,820.9 L1099.1,820.1 L1101.1,819.5 L1103.4,818.9 L1105.8,818.3 L1108.2,817.8 L1110.7,817.3 L1113.2,816.8 L1115.6,816.5 L1118.0,816.1 L1120.4,815.6 L1122.8,815.3 L1125.2,815.1 L1127.6,815.2 L1130.1,815.7 L1133.4,817.2 L1136.7,819.5 L1140.1,822.3 L1143.5,825.4 L1146.9,828.5 L1150.4,831.4 L1154.2,834.2 L1158.0,837.2 L1161.9,840.1 L1165.8,843.0 L1169.7,845.8 L1173.7,848.5 L1177.5,850.8 L1181.4,853.1 L1185.3,855.2 L1189.2,857.3 L1193.1,859.3 L1196.9,861.3 L1200.4,863.3 L1204.0,865.5 L1207.5,867.6 L1210.9,869.4 L1214.2,870.7 L1217.2,871.0 L1219.4,870.6 L1221.3,869.7 L1223.2,868.5 L1225.0,867.0 L1226.9,865.2 L1228.8,863.2 L1232.1,859.1 L1235.5,854.0 L1239.0,848.2 L1242.4,842.1 L1245.8,836.0 L1249.1,830.3 L1252.1,825.0 L1254.9,819.6 L1257.8,814.2 L1260.6,809.1 L1263.5,804.4 L1266.5,800.3 L1268.8,797.6 L1271.2,795.2 L1273.5,793.1 L1276.0,791.1 L1278.5,789.4 L1281.0,787.9 L1283.3,786.8 L1285.8,785.8 L1288.2,785.1 L1290.7,784.5 L1293.1,784.0 L1295.5,783.7 L1297.5,783.5 L1299.4,783.3 L1301.3,783.3 L1303.3,783.4 L1305.2,783.8 L1307.2,784.5 L1310.4,786.5 L1313.8,789.3 L1317.2,792.7 L1320.6,796.4 L1324.1,800.2 L1327.5,803.8 L1331.1,807.4 L1334.7,811.1 L1338.3,814.8 L1342.0,818.5 L1345.6,822.3 L1349.2,826.0 L1349.2,890.0 L1345.6,886.4 L1342.0,882.8 L1338.3,879.2 L1334.7,875.6 L1331.1,872.1 L1327.5,868.6 L1324.1,865.2 L1320.6,861.5 L1317.2,857.9 L1313.7,854.6 L1310.4,851.9 L1307.2,850.1 L1305.2,849.4 L1303.3,849.2 L1301.3,849.1 L1299.4,849.3 L1297.5,849.5 L1295.5,849.7 L1293.2,849.9 L1290.7,850.1 L1288.3,850.5 L1285.8,850.9 L1283.4,851.6 L1281.0,852.5 L1278.5,853.7 L1276.0,855.2 L1273.6,856.9 L1271.2,858.8 L1268.8,860.9 L1266.5,863.3 L1263.5,867.1 L1260.6,871.6 L1257.8,876.4 L1254.9,881.5 L1252.1,886.6 L1249.1,891.5 L1245.8,896.9 L1242.4,902.7 L1239.0,908.5 L1235.5,913.9 L1232.1,918.7 L1228.8,922.4 L1226.9,924.2 L1225.0,925.7 L1223.2,927.0 L1221.3,928.0 L1219.3,928.7 L1217.2,929.0 L1214.2,928.8 L1210.9,927.9 L1207.5,926.4 L1204.0,924.7 L1200.4,922.9 L1196.9,921.3 L1193.1,919.8 L1189.2,918.2 L1185.3,916.5 L1181.4,914.8 L1177.5,912.9 L1173.7,910.9 L1169.7,908.7 L1165.8,906.3 L1161.9,903.8 L1158.0,901.3 L1154.2,898.7 L1150.4,896.2 L1146.9,893.8 L1143.4,891.0 L1140.0,888.3 L1136.7,885.8 L1133.4,883.9 L1130.1,882.7 L1127.6,882.4 L1125.2,882.5 L1122.8,883.0 L1120.4,883.6 L1118.0,884.3 L1115.6,884.9 L1113.1,885.7 L1110.7,886.7 L1108.2,887.8 L1105.8,888.7 L1103.4,889.3 L1101.1,889.5 L1099.1,889.2 L1097.1,888.6 L1095.3,887.8 L1093.4,886.7 L1091.5,885.5 L1089.5,884.2 L1086.6,882.0 L1083.6,879.3 L1080.6,876.3 L1077.6,873.1 L1074.7,870.1 L1071.9,867.2 L1069.8,865.0 L1067.7,862.9 L1065.8,860.7 L1063.8,858.7 L1061.8,856.7 L1059.7,854.8 L1057.4,852.9 L1055.0,851.0 L1052.6,849.1 L1050.1,847.4 L1047.6,845.8 L1045.1,844.4 L1042.7,843.1 L1040.4,841.8 L1038.0,840.6 L1035.6,839.7 L1033.0,839.1 L1030.4,839.0 L1026.6,840.0 L1022.5,841.9 L1018.3,844.5 L1014.0,847.6 L1009.9,850.7 L1006.0,853.6 L1002.5,856.5 L999.1,859.6 L995.9,862.9 L992.7,866.0 L989.6,868.9 L986.4,871.4 L983.9,873.1 L981.5,874.7 L979.1,876.2 L976.7,877.5 L974.3,878.3 L971.7,878.6 L968.6,878.1 L965.3,876.8 L961.9,874.9 L958.6,872.8 L955.3,870.7 L952.2,868.8 L949.6,867.2 L947.1,865.7 L944.6,864.1 L942.2,862.5 L939.8,860.9 L937.5,859.4 L935.4,858.1 L933.3,856.7 L931.3,855.4 L929.3,854.1 L927.3,853.0 L925.3,852.0 L923.7,851.4 L922.0,850.7 L920.4,850.2 L918.8,849.8 L917.2,849.5 L915.5,849.4 L913.6,849.4 L911.6,849.7 L909.6,850.2 L907.5,850.8 L905.4,851.4 L903.3,851.9 L900.9,852.5 L898.5,853.2 L896.1,854.0 L893.6,854.7 L891.2,855.3 L888.7,855.8 L886.3,856.1 L883.8,856.4 L881.3,856.6 L878.8,856.6 L876.4,856.4 L874.0,855.9 L871.5,854.9 L869.0,853.5 L866.6,851.8 L864.1,849.9 L861.7,848.1 L859.3,846.4 L856.8,844.8 L854.3,843.1 L851.8,841.5 L849.4,839.9 L847.0,838.3 L844.7,836.9 L843.0,835.8 L841.5,834.8 L840.0,833.9 L838.4,833.0 L836.8,832.1 L835.0,831.3 L832.4,830.4 L829.6,829.3 L826.7,828.4 L823.7,827.7 L820.7,827.3 L817.9,827.4 L815.3,828.1 L812.8,829.3 L810.3,830.8 L807.9,832.4 L805.5,834.1 L803.0,835.6 L800.5,837.1 L797.9,838.6 L795.4,840.1 L792.9,841.5 L790.4,842.8 L788.0,843.9 L786.2,844.5 L784.4,845.0 L782.6,845.5 L780.9,845.8 L779.1,846.1 L777.3,846.3 L775.3,846.5 L773.2,846.6 L771.0,846.7 L768.9,846.7 L766.7,846.5 L764.5,846.0 L761.7,845.1 L758.9,843.8 L756.0,842.2 L753.1,840.5 L750.3,838.8 L747.4,837.1 L744.5,835.6 L741.7,834.0 L738.8,832.3 L736.0,830.7 L733.1,829.0 L730.3,827.3 L727.5,825.5 L724.7,823.6 L721.9,821.7 L719.1,819.8 L716.2,818.0 L713.2,816.5 L709.8,815.1 L706.2,813.9 L702.6,812.9 L698.9,811.9 L695.3,810.9 L691.8,809.8 L688.8,808.7 L686.0,807.7 L683.1,806.7 L680.4,805.6 L677.5,804.4 L674.7,803.1 L671.5,801.5 L668.3,799.7 L665.0,797.9 L661.8,796.0 L658.6,794.1 L655.5,792.2 L652.6,790.5 L649.8,788.8 L647.0,787.1 L644.2,785.4 L641.3,783.6 L638.4,781.7 L635.0,779.3 L631.4,776.8 L627.8,774.1 L624.2,771.5 L620.6,768.9 L617.1,766.5 L613.8,764.4 L610.4,762.5 L607.1,760.7 L603.8,758.8 L600.7,756.8 L597.8,754.7 L595.4,752.3 L593.2,749.6 L591.1,746.8 L589.1,744.1 L587.1,741.9 L585.0,740.4 L583.5,739.9 L582.1,739.7 L580.6,739.7 L579.2,739.8 L577.7,739.7 L576.1,739.4 L573.9,738.5 L571.7,737.2 L569.3,735.8 L566.9,734.2 L564.6,732.7 L562.2,731.4 L559.9,730.2 L557.7,729.0 L555.4,727.9 L553.1,726.9 L550.8,726.0 L548.3,725.4 L545.5,725.0 L542.5,724.8 L539.5,724.9 L536.5,725.0 L533.4,725.3 L530.5,725.6 L527.8,725.9 L525.1,726.4 L522.5,726.9 L519.9,727.5 L517.2,728.1 L514.6,728.6 L512.0,729.3 L509.4,730.0 L506.8,730.7 L504.1,731.4 L501.5,732.0 L498.7,732.4 L495.5,732.5 L492.3,732.4 L489.0,732.2 L485.6,731.9 L482.2,731.6 L478.9,731.4 L475.6,731.3 L472.2,731.1 L468.9,731.0 L465.6,730.9 L462.3,730.8 L459.0,730.6 L455.9,730.4 L452.9,730.2 L449.9,729.9 L446.9,729.7 L444.0,729.6 L441.2,729.8 L438.8,730.2 L436.5,730.8 L434.2,731.6 L431.9,732.4 L429.7,733.1 L427.3,733.8 L424.7,734.3 L422.1,734.8 L419.4,735.2 L416.7,735.6 L414.0,736.2 L411.4,736.9 L408.7,737.8 L406.1,738.9 L403.5,740.1 L400.8,741.4 L398.2,742.7 L395.6,744.0 L392.9,745.2 L390.3,746.6 L387.6,747.9 L385.0,749.3 L382.3,750.6 L379.7,752.0 L377.0,753.4 L374.3,754.8 L371.6,756.3 L368.9,757.7 L366.3,759.0 L363.8,759.9 L362.1,760.5 L360.5,761.0 L359.0,761.5 L357.4,761.8 L355.7,762.0 L353.9,762.0 L350.8,761.9 L347.3,761.5 L343.6,760.8 L339.8,759.9 L336.3,758.9 L333.1,757.8 L330.9,756.8 L328.8,755.7 L326.8,754.5 L325.0,753.2 L323.1,751.9 L321.2,750.6 L319.2,749.1 L317.2,747.5 L315.3,745.9 L313.3,744.3 L311.3,742.8 L309.3,741.4 L307.4,740.3 L305.4,739.3 L303.4,738.4 L301.4,737.5 L299.4,736.8 L297.4,736.2 L295.5,735.7 L293.5,735.3 L291.6,735.1 L289.6,734.9 L287.6,734.7 L285.5,734.5 L283.0,734.2 L280.4,734.0 L277.7,733.7 L275.0,733.5 L272.3,733.3 L269.6,733.2 L266.9,733.1 L264.2,732.9 L261.5,732.7 L258.8,732.7 L256.2,732.9 L253.7,733.3 L251.6,733.9 L249.5,734.7 L247.5,735.6 L245.6,736.7 L243.7,737.9 L241.8,739.1 L239.7,740.7 L237.7,742.5 L235.7,744.4 L233.8,746.3 L231.9,748.3 L229.9,750.3 L227.9,752.3 L225.9,754.4 L224.0,756.4 L222.0,758.5 L220.0,760.5 L218.0,762.5 L216.0,764.3 L214.1,766.1 L212.1,767.9 L210.1,769.6 L208.1,771.2 L206.1,772.6 L204.5,773.7 L202.9,774.7 L201.3,775.6 L199.7,776.3 L198.0,777.1 L196.2,777.7 L194.1,778.3 L191.8,778.7 L189.5,779.0 L187.1,779.2 L184.7,779.5 L182.3,779.8 L179.7,780.2 L177.1,780.6 L174.4,781.1 L171.7,781.5 L169.1,781.7 L166.4,781.9 L163.7,781.8 L161.0,781.6 L158.3,781.3 L155.7,780.9 L153.1,780.4 L150.6,779.9 L148.5,779.4 L146.5,778.7 L144.5,778.0 L142.6,777.3 L140.7,776.6 L138.7,775.9 L136.7,775.2 L134.7,774.5 L132.7,773.9 L130.7,773.2 L128.7,772.7 L126.7,772.4 L124.7,772.3 L122.7,772.4 L120.8,772.5 L118.8,772.7 L116.8,772.9 L114.8,773.0 L112.8,773.0 L110.9,772.9 L108.9,772.8 L106.9,772.6 L105.0,772.5 L103.0,772.4 Z" fill="#000080" fill-opacity="0.2" stroke="none"/>
<path d="M103.0,777.6 L105.0,777.5 L106.9,777.5 L108.9,777.4 L110.9,777.3 L112.8,777.2 L114.8,777.1 L116.8,777.0 L118.8,776.9 L120.9,776.8 L122.9,776.6 L124.8,776.3 L126.7,775.7 L128.5,775.0 L130.2,774.2 L131.9,773.3 L133.6,772.1 L135.2,770.8 L136.7,769.3 L138.6,767.0 L140.4,764.3 L142.1,761.3 L143.7,758.1 L145.2,754.7 L146.6,751.3 L148.1,747.1 L149.5,742.7 L150.8,738.0 L152.0,733.3 L153.2,728.4 L154.5,723.4 L156.1,717.7 L157.6,711.8 L159.2,705.7 L160.9,699.6 L162.6,693.6 L164.4,687.6 L166.3,681.8 L168.2,676.0 L170.2,670.2 L172.2,664.5 L174.3,659.0 L176.3,653.8 L177.9,649.7 L179.4,645.6 L181.0,641.7 L182.6,638.0 L184.4,634.7 L186.3,631.9 L187.8,630.1 L189.5,628.4 L191.2,626.9 L192.9,625.7 L194.6,624.9 L196.2,624.8 L198.0,625.6 L199.7,627.3 L201.4,629.6 L203.0,632.3 L204.6,635.2 L206.1,638.0 L207.9,641.8 L209.7,645.9 L211.3,650.3 L212.9,654.9 L214.4,659.5 L216.0,664.1 L217.7,668.9 L219.3,673.8 L221.0,678.8 L222.6,683.7 L224.3,688.5 L226.0,693.2 L227.6,697.3 L229.1,701.4 L230.7,705.4 L232.4,709.3 L234.1,712.9 L235.9,716.3 L237.4,718.7 L239.0,721.1 L240.6,723.4 L242.2,725.4 L244.0,727.2 L245.8,728.6 L247.4,729.4 L249.0,730.0 L250.7,730.5 L252.4,730.8 L254.0,730.9 L255.7,730.8 L257.4,730.5 L259.0,729.9 L260.6,729.1 L262.2,728.2 L263.9,727.4 L265.6,726.6 L267.5,725.8 L269.5,724.9 L271.5,724.1 L273.5,723.3 L275.5,722.6 L277.5,722.2 L279.2,722.1 L280.9,722.0 L282.5,722.1 L284.1,722.3 L285.8,722.6 L287.5,722.9 L289.4,723.4 L291.4,724.1 L293.4,724.9 L295.4,725.8 L297.4,726.6 L299.4,727.5 L301.7,728.6 L304.0,729.9 L306.4,731.3 L308.8,732.5 L311.1,733.4 L313.3,734.0 L315.0,734.1 L316.8,734.1 L318.4,733.9 L320.1,733.5 L321.7,733.0 L323.2,732.2 L324.9,730.8 L326.5,729.1 L328.0,727.0 L329.6,724.8 L331.2,722.6 L333.1,720.5 L335.9,718.0 L338.9,715.3 L342.2,712.7 L345.6,710.2 L348.9,708.0 L351.9,706.1 L354.0,704.9 L356.0,703.9 L358.0,703.0 L359.9,702.3 L361.9,701.7 L363.8,701.2 L365.5,700.9 L367.1,700.7 L368.7,700.6 L370.4,700.7 L372.0,700.8 L373.7,701.1 L375.6,701.5 L377.6,702.2 L379.6,703.0 L381.6,703.9 L383.6,704.9 L385.6,705.9 L387.9,707.3 L390.2,708.9 L392.5,710.5 L394.9,712.3 L397.2,714.0 L399.5,715.7 L401.8,717.3 L404.1,718.9 L406.5,720.6 L408.8,722.2 L411.1,723.8 L413.4,725.4 L415.7,727.1 L418.0,728.7 L420.4,730.3 L422.7,731.9 L425.0,733.6 L427.3,735.3 L429.6,737.1 L432.0,739.2 L434.3,741.3 L436.6,743.3 L438.9,744.9 L441.2,746.0 L442.9,746.5 L444.5,746.9 L446.2,747.0 L447.8,747.0 L449.4,746.8 L451.1,746.5 L453.1,745.9 L455.1,745.1 L457.1,744.1 L459.1,742.9 L461.1,741.6 L463.0,740.3 L465.0,738.8 L467.1,737.1 L469.0,735.4 L471.0,733.5 L472.9,731.7 L474.9,729.8 L476.9,727.9 L478.9,726.0 L480.8,724.0 L482.8,722.1 L484.8,720.2 L486.8,718.3 L488.7,716.6 L490.7,714.8 L492.6,713.1 L494.6,711.5 L496.6,710.1 L498.7,708.9 L500.6,708.0 L502.5,707.3 L504.5,706.7 L506.5,706.2 L508.5,705.9 L510.6,705.8 L513.1,705.8 L515.7,706.1 L518.4,706.5 L521.1,707.1 L523.8,707.7 L526.5,708.3 L529.2,708.9 L531.8,709.5 L534.5,710.2 L537.1,711.0 L539.8,711.7 L542.4,712.4 L545.1,713.0 L547.8,713.6 L550.6,714.1 L553.2,714.7 L555.8,715.5 L558.3,716.4 L560.5,717.5 L562.5,718.8 L564.5,720.2 L566.5,721.7 L568.3,723.2 L570.2,724.8 L571.9,726.3 L573.5,727.8 L575.0,729.5 L576.5,731.1 L578.2,732.6 L580.1,734.1 L582.7,735.7 L585.5,737.1 L588.5,738.4 L591.6,739.7 L594.7,741.2 L597.8,742.9 L601.3,745.4 L604.9,748.3 L608.5,751.5 L612.1,754.5 L615.7,757.3 L619.2,759.6 L622.1,761.0 L625.0,762.1 L627.9,763.0 L630.8,763.9 L633.6,764.7 L636.3,765.6 L638.6,766.4 L640.8,767.3 L643.0,768.2 L645.1,769.0 L647.1,769.6 L649.1,770.0 L650.6,770.1 L652.0,770.1 L653.4,770.1 L654.8,769.9 L656.2,769.5 L657.6,768.9 L659.7,767.6 L661.8,765.8 L664.0,763.7 L666.1,761.3 L668.3,758.9 L670.5,756.6 L672.9,754.0 L675.3,751.2 L677.8,748.3 L680.2,745.6 L682.8,743.0 L685.4,740.8 L687.8,739.2 L690.3,737.7 L692.8,736.3 L695.4,735.2 L697.9,734.3 L700.4,733.7 L702.6,733.5 L704.7,733.6 L706.8,733.9 L709.0,734.2 L711.1,734.7 L713.2,735.1 L715.4,735.6 L717.5,736.2 L719.7,736.9 L721.8,737.5 L723.9,738.0 L726.0,738.2 L727.8,738.1 L729.6,737.8 L731.3,737.5 L733.1,736.9 L734.9,736.3 L736.7,735.6 L739.1,734.6 L741.6,733.3 L744.2,731.8 L746.7,730.3 L749.2,728.8 L751.7,727.4 L753.9,726.1 L756.0,724.9 L758.0,723.6 L760.1,722.4 L762.2,721.3 L764.5,720.2 L767.2,719.0 L770.0,718.0 L772.9,717.0 L775.8,716.1 L778.7,715.1 L781.6,714.1 L784.5,713.1 L787.4,712.0 L790.3,711.0 L793.2,709.9 L796.0,709.0 L798.7,708.1 L800.9,707.5 L803.1,706.8 L805.2,706.2 L807.3,705.7 L809.4,705.4 L811.5,705.2 L813.6,705.2 L815.7,705.3 L817.8,705.5 L819.9,705.9 L822.1,706.4 L824.3,707.1 L827.2,708.2 L830.2,709.8 L833.3,711.5 L836.4,713.2 L839.3,714.8 L842.2,716.0 L844.3,716.7 L846.4,717.4 L848.4,717.9 L850.4,718.3 L852.4,718.4 L854.4,718.2 L856.8,717.3 L859.3,715.8 L861.7,713.9 L864.2,711.9 L866.6,709.8 L869.1,708.0 L871.5,706.4 L874.0,704.7 L876.5,703.1 L878.9,701.5 L881.4,700.0 L883.8,698.7 L885.9,697.6 L888.0,696.5 L890.1,695.5 L892.2,694.6 L894.1,693.9 L896.0,693.5 L897.3,693.3 L898.6,693.2 L899.8,693.3 L900.9,693.4 L902.1,693.7 L903.3,694.2 L905.0,695.2 L906.7,696.6 L908.3,698.3 L910.0,700.2 L911.6,702.2 L913.1,704.3 L914.9,707.1 L916.5,710.2 L918.1,713.5 L919.7,717.0 L921.3,720.5 L922.9,724.1 L924.9,728.4 L926.8,732.9 L928.8,737.6 L930.8,742.3 L932.9,746.9 L935.1,751.4 L937.3,755.9 L939.6,760.8 L941.9,765.5 L944.4,769.9 L947.0,773.6 L949.7,776.2 L951.6,777.4 L953.7,778.3 L955.8,778.8 L958.0,779.1 L960.0,779.0 L962.0,778.6 L964.2,777.5 L966.3,775.9 L968.4,773.7 L970.3,771.3 L972.3,768.7 L974.2,766.2 L976.3,763.2 L978.4,760.1 L980.4,756.7 L982.3,753.2 L984.3,749.7 L986.4,746.1 L988.7,742.0 L991.1,737.6 L993.5,733.2 L995.9,728.8 L998.5,724.7 L1001.1,721.0 L1003.4,718.2 L1005.7,715.5 L1008.0,712.9 L1010.5,710.6 L1013.0,708.5 L1015.7,706.8 L1018.4,705.6 L1021.3,704.7 L1024.2,704.0 L1027.2,703.4 L1030.1,702.9 L1032.8,702.4 L1034.9,701.9 L1036.9,701.4 L1038.9,700.9 L1040.9,700.5 L1042.9,700.1 L1045.1,699.8 L1048.2,699.5 L1051.5,699.3 L1055.0,699.1 L1058.4,699.2 L1061.7,699.4 L1064.6,699.8 L1066.6,700.3 L1068.4,700.8 L1070.2,701.4 L1071.8,702.2 L1073.4,703.3 L1075.0,704.5 L1077.2,706.9 L1079.2,709.9 L1081.1,713.3 L1082.9,717.0 L1084.8,720.8 L1086.6,724.4 L1088.6,728.5 L1090.5,732.8 L1092.4,737.1 L1094.3,741.5 L1096.2,745.9 L1098.2,750.1 L1100.1,754.0 L1102.0,757.9 L1104.0,761.8 L1105.9,765.6 L1107.9,769.3 L1109.8,772.9 L1111.5,776.3 L1113.1,779.8 L1114.6,783.3 L1116.3,786.5 L1118.0,789.3 L1120.0,791.5 L1121.5,792.7 L1123.2,793.7 L1124.9,794.6 L1126.6,795.2 L1128.4,795.4 L1130.1,795.4 L1132.0,794.8 L1133.9,793.8 L1135.8,792.3 L1137.7,790.6 L1139.7,788.7 L1141.7,786.9 L1144.5,784.2 L1147.4,780.9 L1150.4,777.5 L1153.4,774.0 L1156.4,770.9 L1159.2,768.4 L1161.1,766.9 L1163.0,765.6 L1164.8,764.4 L1166.7,763.4 L1168.7,762.6 L1170.8,761.9 L1173.5,761.5 L1176.4,761.5 L1179.4,761.7 L1182.4,761.9 L1185.4,762.0 L1188.2,761.6 L1190.8,760.9 L1193.3,760.0 L1195.8,758.9 L1198.2,757.7 L1200.5,756.3 L1202.7,754.6 L1204.9,752.5 L1207.0,750.2 L1208.9,747.6 L1210.7,744.8 L1212.5,741.9 L1214.3,738.8 L1216.4,734.9 L1218.3,730.7 L1220.2,726.2 L1222.1,721.7 L1224.0,717.2 L1225.9,712.9 L1227.7,708.7 L1229.5,704.3 L1231.3,699.9 L1233.1,695.8 L1235.2,692.4 L1237.5,689.9 L1239.3,688.7 L1241.2,687.9 L1243.2,687.3 L1245.2,687.0 L1247.2,687.0 L1249.1,687.2 L1251.1,687.8 L1253.1,688.8 L1255.0,690.1 L1256.9,691.6 L1258.8,693.2 L1260.7,695.0 L1263.1,697.5 L1265.5,700.5 L1267.9,703.8 L1270.3,707.1 L1272.7,710.3 L1275.2,713.1 L1277.5,715.5 L1279.8,717.8 L1282.2,720.0 L1284.6,722.0 L1287.1,723.8 L1289.7,725.4 L1292.4,726.7 L1295.2,727.7 L1298.2,728.4 L1301.2,729.1 L1304.2,729.9 L1307.2,730.7 L1310.5,731.8 L1313.8,732.8 L1317.2,733.9 L1320.7,735.1 L1324.1,736.3 L1327.5,737.5 L1331.1,738.9 L1334.7,740.4 L1338.3,742.0 L1342.0,743.6 L1345.6,745.1 L1349.2,746.7 L1349.2,770.7 L1345.6,769.5 L1341.9,768.3 L1338.3,767.1 L1334.7,765.9 L1331.1,764.7 L1327.5,763.7 L1324.1,762.8 L1320.6,761.9 L1317.2,761.1 L1313.8,760.3 L1310.5,759.6 L1307.2,758.9 L1304.2,758.3 L1301.2,757.9 L1298.2,757.5 L1295.3,757.0 L1292.4,756.4 L1289.7,755.4 L1287.1,754.0 L1284.6,752.4 L1282.2,750.6 L1279.8,748.7 L1277.5,746.6 L1275.2,744.5 L1272.7,741.9 L1270.3,739.0 L1267.9,735.9 L1265.5,732.9 L1263.1,730.1 L1260.7,727.8 L1258.8,726.3 L1256.9,724.8 L1255.0,723.5 L1253.0,722.4 L1251.1,721.6 L1249.1,721.2 L1247.2,721.1 L1245.2,721.2 L1243.1,721.5 L1241.2,722.2 L1239.3,723.1 L1237.5,724.3 L1235.2,726.9 L1233.1,730.4 L1231.3,734.5 L1229.5,738.9 L1227.7,743.4 L1225.9,747.7 L1224.0,752.1 L1222.1,756.6 L1220.2,761.2 L1218.3,765.7 L1216.4,770.0 L1214.3,774.0 L1212.5,777.1 L1210.7,780.1 L1208.9,782.9 L1207.0,785.6 L1204.9,788.0 L1202.7,790.2 L1200.5,791.9 L1198.2,793.4 L1195.8,794.7 L1193.3,795.9 L1190.8,796.8 L1188.2,797.6 L1185.4,798.1 L1182.4,798.2 L1179.4,798.0 L1176.4,797.9 L1173.5,798.0 L1170.8,798.5 L1168.7,799.3 L1166.7,800.2 L1164.8,801.2 L1163.0,802.5 L1161.1,803.9 L1159.2,805.4 L1156.4,808.0 L1153.4,811.3 L1150.4,814.8 L1147.4,818.3 L1144.5,821.7 L1141.7,824.5 L1139.7,826.4 L1137.7,828.4 L1135.8,830.2 L1133.9,831.7 L1132.0,832.8 L1130.1,833.4 L1128.4,833.4 L1126.6,833.0 L1124.9,832.3 L1123.2,831.3 L1121.5,830.1 L1120.0,828.7 L1118.0,826.4 L1116.3,823.5 L1114.6,820.2 L1113.1,816.6 L1111.5,813.0 L1109.8,809.5 L1107.9,805.7 L1105.9,801.9 L1104.0,797.9 L1102.0,794.0 L1100.1,789.9 L1098.2,785.9 L1096.2,781.5 L1094.3,777.0 L1092.4,772.5 L1090.5,768.0 L1088.6,763.6 L1086.6,759.4 L1084.8,755.6 L1082.9,751.7 L1081.1,747.9 L1079.2,744.3 L1077.2,741.2 L1075.0,738.7 L1073.4,737.3 L1071.8,736.1 L1070.2,735.2 L1068.4,734.5 L1066.6,733.8 L1064.6,733.2 L1061.7,732.6 L1058.4,732.1 L1055.0,731.9 L1051.5,731.8 L1048.2,731.8 L1045.1,731.8 L1042.9,731.9 L1040.9,732.1 L1038.9,732.3 L1036.9,732.6 L1034.9,732.9 L1032.8,733.2 L1030.1,733.5 L1027.2,733.7 L1024.2,734.0 L1021.3,734.3 L1018.4,735.0 L1015.7,736.0 L1013.0,737.5 L1010.5,739.3 L1008.0,741.4 L1005.7,743.7 L1003.4,746.2 L1001.1,748.8 L998.5,752.2 L995.9,756.1 L993.5,760.2 L991.1,764.4 L988.7,768.6 L986.4,772.5 L984.3,775.8 L982.3,779.2 L980.4,782.5 L978.4,785.6 L976.3,788.6 L974.2,791.4 L972.3,793.7 L970.3,796.0 L968.3,798.2 L966.3,800.1 L964.2,801.6 L962.0,802.6 L960.0,803.1 L957.9,803.3 L955.8,803.2 L953.7,802.8 L951.6,802.0 L949.7,801.0 L947.0,798.5 L944.4,795.0 L941.9,790.7 L939.6,786.1 L937.3,781.4 L935.1,777.0 L932.9,772.7 L930.8,768.2 L928.8,763.6 L926.8,759.1 L924.9,754.7 L922.9,750.5 L921.3,747.0 L919.7,743.5 L918.1,740.2 L916.6,737.0 L914.9,734.0 L913.1,731.3 L911.6,729.3 L910.0,727.3 L908.3,725.6 L906.6,724.0 L905.0,722.7 L903.3,721.8 L902.1,721.4 L900.9,721.1 L899.8,721.1 L898.6,721.1 L897.3,721.3 L896.0,721.5 L894.1,721.9 L892.2,722.5 L890.1,723.3 L888.0,724.2 L885.9,725.1 L883.8,726.1 L881.4,727.3 L879.0,728.7 L876.5,730.2 L874.0,731.7 L871.5,733.2 L869.1,734.8 L866.6,736.5 L864.2,738.4 L861.7,740.3 L859.3,742.1 L856.8,743.4 L854.4,744.2 L852.4,744.4 L850.4,744.2 L848.4,743.7 L846.4,743.0 L844.3,742.3 L842.2,741.4 L839.3,740.1 L836.3,738.4 L833.3,736.5 L830.2,734.7 L827.2,733.0 L824.3,731.7 L822.1,731.0 L819.9,730.3 L817.8,729.8 L815.7,729.4 L813.6,729.2 L811.5,729.2 L809.4,729.4 L807.3,729.8 L805.2,730.4 L803.1,731.1 L800.9,731.9 L798.7,732.7 L796.0,733.6 L793.2,734.7 L790.3,735.9 L787.4,737.1 L784.5,738.3 L781.6,739.5 L778.7,740.6 L775.8,741.7 L772.9,742.7 L770.0,743.8 L767.2,745.0 L764.5,746.2 L762.2,747.4 L760.1,748.7 L758.0,750.0 L756.0,751.3 L753.9,752.7 L751.7,754.0 L749.3,755.6 L746.7,757.2 L744.2,758.8 L741.6,760.4 L739.1,761.8 L736.7,763.0 L734.9,763.8 L733.1,764.4 L731.3,765.0 L729.6,765.5 L727.8,765.8 L726.0,766.0 L723.9,765.9 L721.8,765.6 L719.7,765.0 L717.5,764.4 L715.4,763.9 L713.2,763.5 L711.1,763.2 L709.0,762.9 L706.8,762.6 L704.7,762.5 L702.6,762.5 L700.4,762.7 L697.9,763.2 L695.4,763.8 L692.8,764.7 L690.3,765.7 L687.8,767.0 L685.4,768.4 L682.8,770.3 L680.2,772.6 L677.8,775.1 L675.3,777.7 L672.9,780.3 L670.5,782.6 L668.3,784.7 L666.1,786.9 L663.9,789.0 L661.8,791.0 L659.7,792.6 L657.6,793.7 L656.2,794.1 L654.8,794.4 L653.4,794.4 L652.0,794.3 L650.6,794.2 L649.1,794.0 L647.1,793.7 L645.1,793.2 L643.0,792.6 L640.8,792.0 L638.6,791.3 L636.3,790.6 L633.6,790.0 L630.8,789.4 L627.9,788.8 L625.0,788.1 L622.1,787.2 L619.2,786.0 L615.7,784.1 L612.1,781.6 L608.4,778.8 L604.8,775.9 L601.3,773.2 L597.8,770.7 L594.7,768.7 L591.6,767.0 L588.5,765.2 L585.5,763.5 L582.7,761.8 L580.1,759.9 L578.2,758.2 L576.5,756.5 L575.0,754.7 L573.5,752.9 L571.9,751.1 L570.2,749.4 L568.4,747.7 L566.5,746.0 L564.6,744.3 L562.6,742.7 L560.5,741.1 L558.3,739.8 L555.9,738.6 L553.3,737.5 L550.6,736.6 L547.8,735.8 L545.1,734.9 L542.4,734.0 L539.8,733.0 L537.1,732.0 L534.5,731.0 L531.8,730.0 L529.2,729.0 L526.5,728.1 L523.8,727.2 L521.1,726.2 L518.4,725.2 L515.7,724.4 L513.1,723.9 L510.6,723.8 L508.5,724.2 L506.4,724.9 L504.4,725.8 L502.5,727.0 L500.6,728.2 L498.7,729.5 L496.6,731.2 L494.6,733.1 L492.6,735.2 L490.7,737.4 L488.7,739.6 L486.8,741.9 L484.8,744.2 L482.8,746.5 L480.8,749.0 L478.9,751.4 L476.9,753.8 L474.9,756.2 L472.9,758.5 L471.0,760.8 L469.0,763.1 L467.1,765.3 L465.1,767.5 L463.0,769.5 L461.1,771.3 L459.1,773.1 L457.1,774.9 L455.1,776.4 L453.1,777.7 L451.1,778.5 L449.5,778.9 L447.8,779.0 L446.2,779.0 L444.5,778.8 L442.9,778.4 L441.2,777.8 L438.9,776.6 L436.6,774.9 L434.3,772.9 L432.0,770.8 L429.6,768.7 L427.3,766.7 L425.0,765.0 L422.7,763.3 L420.4,761.6 L418.0,759.9 L415.7,758.3 L413.4,756.6 L411.1,754.9 L408.8,753.2 L406.5,751.5 L404.1,749.9 L401.8,748.2 L399.5,746.5 L397.2,744.8 L394.9,743.0 L392.5,741.2 L390.2,739.5 L387.9,737.9 L385.6,736.5 L383.6,735.3 L381.6,734.3 L379.6,733.3 L377.6,732.5 L375.6,731.8 L373.7,731.3 L372.0,731.0 L370.4,730.9 L368.8,730.8 L367.1,730.9 L365.5,731.0 L363.8,731.2 L361.9,731.5 L360.0,731.8 L358.0,732.3 L356.0,732.8 L354.0,733.5 L351.9,734.3 L348.9,735.7 L345.6,737.4 L342.3,739.4 L339.0,741.5 L335.9,743.6 L333.1,745.7 L331.2,747.5 L329.5,749.4 L328.0,751.4 L326.5,753.2 L324.9,754.7 L323.2,755.8 L321.6,756.3 L320.0,756.6 L318.4,756.7 L316.7,756.6 L315.0,756.4 L313.3,756.0 L311.1,755.3 L308.8,754.1 L306.4,752.8 L304.0,751.3 L301.7,749.9 L299.4,748.7 L297.4,747.7 L295.4,746.6 L293.4,745.6 L291.4,744.7 L289.4,743.9 L287.5,743.3 L285.8,742.8 L284.2,742.5 L282.5,742.2 L280.9,742.0 L279.2,741.9 L277.5,742.0 L275.6,742.3 L273.6,742.8 L271.5,743.4 L269.5,744.2 L267.5,744.9 L265.6,745.6 L263.9,746.2 L262.2,747.0 L260.6,747.7 L259.0,748.4 L257.4,748.9 L255.7,749.2 L254.0,749.3 L252.4,749.3 L250.7,749.1 L249.0,748.8 L247.4,748.3 L245.8,747.6 L244.0,746.6 L242.3,745.2 L240.6,743.7 L239.0,741.9 L237.4,740.0 L235.9,737.9 L234.1,735.1 L232.3,731.9 L230.7,728.4 L229.1,724.8 L227.6,721.1 L226.0,717.4 L224.3,713.2 L222.6,708.8 L221.0,704.3 L219.3,699.8 L217.7,695.3 L216.0,690.9 L214.4,686.8 L212.9,682.6 L211.3,678.4 L209.7,674.4 L208.0,670.7 L206.1,667.4 L204.6,665.0 L203.0,662.7 L201.3,660.5 L199.7,658.7 L197.9,657.4 L196.2,656.8 L194.6,656.9 L192.9,657.6 L191.2,658.8 L189.5,660.3 L187.8,661.9 L186.3,663.7 L184.4,666.4 L182.6,669.7 L181.0,673.3 L179.4,677.3 L177.9,681.3 L176.3,685.4 L174.3,690.5 L172.2,696.0 L170.2,701.6 L168.2,707.4 L166.3,713.2 L164.4,719.0 L162.6,724.9 L160.9,730.9 L159.2,736.9 L157.6,743.0 L156.1,748.9 L154.5,754.6 L153.2,759.5 L152.0,764.3 L150.8,769.1 L149.5,773.7 L148.2,778.1 L146.6,782.3 L145.2,785.7 L143.7,789.0 L142.1,792.2 L140.4,795.1 L138.6,797.8 L136.7,800.1 L135.2,801.5 L133.6,802.8 L131.9,803.9 L130.2,804.8 L128.5,805.6 L126.7,806.3 L124.8,806.7 L122.9,807.0 L120.9,807.2 L118.8,807.2 L116.8,807.3 L114.8,807.3 L112.8,807.4 L110.9,807.5 L108.9,807.5 L106.9,807.5 L105.0,807.6 L103.0,807.6 Z" fill="#8B0000" fill-opacity="0.2" stroke="none"/>
<path d="M103.0,725.6 L111.5,725.4 L120.0,725.2 L128.5,725.0 L137.1,724.8 L145.7,724.7 L154.5,724.6 L164.5,724.6 L175.0,724.7 L185.6,724.8 L196.0,724.9 L205.6,725.1 L214.0,725.2 L218.5,725.3 L222.6,725.4 L226.3,725.5 L230.0,725.5 L233.8,725.6 L237.9,725.6 L243.4,725.5 L249.2,725.4 L255.2,725.1 L261.3,724.9 L267.5,724.7 L273.6,724.6 L280.1,724.6 L286.8,724.7 L293.6,724.8 L300.3,724.9 L306.9,724.9 L313.3,724.6 L318.8,724.1 L324.1,723.4 L329.3,722.5 L334.5,721.7 L339.7,721.1 L345.0,720.7 L350.7,720.7 L356.4,721.0 L362.1,721.5 L367.9,722.0 L373.8,722.5 L379.7,722.7 L386.3,722.7 L393.2,722.7 L400.1,722.5 L406.9,722.3 L413.4,722.0 L419.4,721.7 L423.4,721.5 L427.3,721.4 L430.9,721.2 L434.4,721.0 L437.8,720.5 L441.2,719.7 L444.3,718.5 L447.3,717.0 L450.2,715.2 L453.0,713.5 L455.9,711.9 L459.0,710.8 L462.2,710.0 L465.6,709.5 L469.0,709.2 L472.4,709.0 L475.7,709.0 L478.9,709.2 L481.7,709.5 L484.4,709.8 L487.0,710.4 L489.6,711.0 L492.2,711.8 L494.8,712.7 L497.5,714.0 L500.0,715.6 L502.6,717.4 L505.1,719.1 L507.8,720.6 L510.6,721.7 L513.6,722.4 L516.6,722.7 L519.7,722.8 L523.0,722.7 L526.5,722.7 L530.5,722.7 L538.4,722.8 L547.3,722.8 L557.1,722.8 L567.6,722.7 L578.7,722.7 L590.0,722.7 L606.3,722.9 L623.8,723.2 L642.2,723.6 L661.3,724.0 L680.6,724.3 L700.0,724.5 L722.3,724.6 L745.8,724.5 L769.7,724.4 L793.1,724.3 L815.2,724.1 L835.0,724.0 L847.3,723.9 L858.7,723.7 L869.5,723.5 L879.8,723.4 L889.9,723.4 L900.0,723.5 L908.7,723.8 L917.2,724.3 L925.4,724.9 L933.6,725.5 L941.7,726.0 L950.0,726.2 L958.2,726.2 L966.3,725.9 L974.4,725.6 L982.6,725.2 L991.1,724.8 L1000.0,724.5 L1011.7,724.2 L1024.2,723.9 L1037.2,723.7 L1050.2,723.5 L1062.9,723.4 L1075.0,723.4 L1085.0,723.5 L1094.6,723.8 L1104.1,724.2 L1113.5,724.5 L1123.0,724.8 L1133.0,724.9 L1145.2,724.9 L1158.3,725.0 L1171.6,724.9 L1184.4,724.7 L1196.0,724.2 L1205.6,723.4 L1209.7,722.8 L1213.3,722.1 L1216.5,721.3 L1219.6,720.5 L1222.7,719.8 L1225.9,719.1 L1229.3,718.5 L1232.7,717.8 L1236.1,717.1 L1239.4,716.6 L1242.8,716.3 L1246.2,716.2 L1249.6,716.5 L1253.0,717.1 L1256.4,718.0 L1259.8,718.9 L1263.2,719.8 L1266.5,720.5 L1269.4,721.1 L1272.0,721.6 L1274.6,722.1 L1277.4,722.6 L1280.4,723.0 L1284.0,723.4 L1292.5,723.9 L1302.7,724.2 L1314.0,724.2 L1325.9,724.2 L1337.9,724.2 L1349.2,724.3 L1349.2,729.3 L1337.9,729.2 L1325.9,729.2 L1314.0,729.2 L1302.7,729.2 L1292.5,728.9 L1284.0,728.4 L1280.4,728.0 L1277.4,727.6 L1274.6,727.1 L1272.0,726.6 L1269.4,726.1 L1266.5,725.5 L1263.2,724.8 L1259.8,723.9 L1256.4,723.0 L1253.0,722.1 L1249.6,721.5 L1246.2,721.2 L1242.8,721.3 L1239.4,721.6 L1236.1,722.1 L1232.7,722.8 L1229.3,723.5 L1225.9,724.1 L1222.7,724.8 L1219.6,725.5 L1216.5,726.3 L1213.3,727.1 L1209.7,727.8 L1205.6,728.4 L1196.0,729.2 L1184.4,729.7 L1171.6,729.9 L1158.3,730.0 L1145.2,729.9 L1133.0,729.9 L1123.0,729.8 L1113.5,729.5 L1104.1,729.2 L1094.6,728.8 L1085.0,728.5 L1075.0,728.4 L1062.9,728.4 L1050.2,728.5 L1037.2,728.7 L1024.2,728.9 L1011.7,729.2 L1000.0,729.5 L991.1,729.8 L982.6,730.2 L974.4,730.6 L966.3,730.9 L958.2,731.2 L950.0,731.2 L941.7,731.0 L933.6,730.5 L925.4,729.9 L917.2,729.3 L908.7,728.8 L900.0,728.5 L889.9,728.4 L879.8,728.4 L869.5,728.5 L858.7,728.7 L847.3,728.9 L835.0,729.0 L815.2,729.1 L793.1,729.3 L769.7,729.4 L745.8,729.5 L722.3,729.6 L700.0,729.5 L680.6,729.3 L661.3,729.0 L642.2,728.6 L623.8,728.2 L606.3,727.9 L590.0,727.7 L578.7,727.7 L567.6,727.7 L557.1,727.8 L547.3,727.8 L538.4,727.8 L530.5,727.7 L526.5,727.7 L523.0,727.7 L519.7,727.8 L516.6,727.7 L513.6,727.4 L510.6,726.7 L507.8,725.6 L505.1,724.1 L502.6,722.4 L500.0,720.6 L497.5,719.0 L494.8,717.7 L492.2,716.8 L489.6,716.0 L487.0,715.4 L484.4,714.8 L481.7,714.5 L478.9,714.2 L475.7,714.0 L472.4,714.0 L469.0,714.2 L465.6,714.5 L462.2,715.0 L459.0,715.8 L455.9,716.9 L453.0,718.5 L450.2,720.2 L447.3,722.0 L444.3,723.5 L441.2,724.7 L437.8,725.5 L434.4,726.0 L430.9,726.2 L427.3,726.4 L423.4,726.5 L419.4,726.7 L413.4,727.0 L406.9,727.3 L400.1,727.5 L393.2,727.7 L386.3,727.7 L379.7,727.7 L373.8,727.5 L367.9,727.0 L362.1,726.5 L356.4,726.0 L350.7,725.7 L345.0,725.7 L339.7,726.1 L334.5,726.7 L329.3,727.5 L324.1,728.4 L318.8,729.1 L313.3,729.6 L306.9,729.9 L300.3,729.9 L293.6,729.8 L286.8,729.7 L280.1,729.6 L273.6,729.6 L267.5,729.7 L261.3,729.9 L255.2,730.1 L249.2,730.4 L243.4,730.5 L237.9,730.6 L233.8,730.6 L230.0,730.5 L226.3,730.5 L222.6,730.4 L218.5,730.3 L214.0,730.2 L205.6,730.1 L196.0,729.9 L185.6,729.8 L175.0,729.7 L164.5,729.6 L154.5,729.6 L145.7,729.7 L137.1,729.8 L128.5,730.0 L120.0,730.2 L111.5,730.4 L103.0,730.6 Z" fill="#0000CD" fill-opacity="0.2" stroke="none"/>
<path d="M103.0,693.4 L104.9,693.9 L106.8,694.4 L108.7,694.9 L110.6,695.4 L112.7,695.9 L114.8,696.4 L117.8,697.0 L121.1,697.7 L124.5,698.5 L127.9,699.1 L131.4,699.7 L134.7,700.2 L137.7,700.7 L140.7,701.0 L143.7,701.4 L146.6,701.6 L149.5,701.8 L152.5,701.8 L155.5,701.7 L158.4,701.4 L161.4,701.1 L164.4,700.7 L167.4,700.2 L170.4,699.8 L173.6,699.2 L176.9,698.6 L180.2,698.0 L183.6,697.3 L186.9,696.7 L190.2,696.2 L193.5,695.8 L196.8,695.5 L200.1,695.2 L203.5,694.9 L206.8,694.8 L210.1,694.8 L213.4,695.0 L216.6,695.3 L219.9,695.7 L223.2,696.2 L226.5,696.7 L229.9,697.2 L233.7,697.7 L237.7,698.4 L241.7,699.0 L245.7,699.7 L249.7,700.4 L253.7,701.0 L257.7,701.7 L261.6,702.3 L265.6,703.0 L269.6,703.7 L273.5,704.3 L277.5,705.0 L281.5,705.6 L285.5,706.3 L289.5,707.0 L293.4,707.6 L297.4,708.3 L301.3,708.9 L305.0,709.6 L308.7,710.3 L312.3,710.9 L315.9,711.6 L319.6,712.2 L323.2,712.8 L326.8,713.3 L330.3,713.7 L333.8,714.2 L337.4,714.5 L341.1,714.9 L345.0,715.4 L350.3,715.9 L356.1,716.5 L362.0,717.1 L368.0,717.7 L374.0,718.2 L379.7,718.7 L384.8,719.1 L389.8,719.4 L394.7,719.7 L399.6,720.0 L404.5,720.3 L409.4,720.6 L414.4,721.1 L419.3,721.5 L424.3,722.0 L429.3,722.5 L434.2,723.0 L439.2,723.5 L444.2,724.0 L449.1,724.5 L454.1,725.0 L459.1,725.4 L464.0,725.9 L469.0,726.4 L474.0,726.9 L479.1,727.4 L484.2,727.9 L489.2,728.4 L494.1,728.9 L498.7,729.4 L502.3,729.8 L505.8,730.2 L509.2,730.6 L512.5,731.0 L515.6,731.2 L518.6,731.3 L520.7,731.3 L522.7,731.3 L524.6,731.2 L526.5,731.0 L528.4,730.7 L530.5,730.3 L533.3,729.5 L536.2,728.5 L539.2,727.3 L542.2,726.0 L545.3,724.7 L548.3,723.3 L551.6,721.7 L554.8,720.1 L558.1,718.3 L561.4,716.6 L564.8,714.9 L568.2,713.4 L571.9,711.8 L575.7,710.2 L579.7,708.6 L583.5,707.2 L587.0,706.1 L590.0,705.4 L591.5,705.2 L592.7,705.2 L593.9,705.2 L595.1,705.3 L596.3,705.4 L597.8,705.4 L600.5,705.4 L603.4,705.4 L606.6,705.4 L610.0,705.4 L613.5,705.5 L617.1,705.8 L622.0,706.2 L627.2,706.8 L632.6,707.5 L638.1,708.3 L643.7,709.1 L649.1,710.0 L654.5,710.9 L660.0,711.9 L665.5,713.0 L670.9,714.1 L676.2,715.2 L681.2,716.3 L685.3,717.4 L689.3,718.4 L693.1,719.5 L696.9,720.6 L700.8,721.7 L704.7,722.7 L708.9,723.7 L713.2,724.6 L717.6,725.5 L721.9,726.4 L726.2,727.2 L730.3,728.1 L734.0,728.8 L737.5,729.6 L741.0,730.4 L744.5,731.1 L748.0,731.7 L751.7,732.3 L755.8,732.8 L760.1,733.3 L764.5,733.6 L768.8,733.9 L773.1,734.1 L777.3,734.4 L780.9,734.5 L784.4,734.6 L787.8,734.7 L791.2,734.8 L794.8,734.8 L798.7,734.9 L804.3,735.1 L810.5,735.4 L817.0,735.7 L823.4,735.9 L829.5,736.2 L835.0,736.4 L838.5,736.5 L841.7,736.6 L844.7,736.7 L847.7,736.7 L850.9,736.7 L854.4,736.6 L859.8,736.3 L865.8,735.8 L872.0,735.1 L878.4,734.4 L884.8,733.8 L891.1,733.4 L897.2,733.0 L903.1,732.8 L909.1,732.5 L915.2,732.4 L921.4,732.3 L927.8,732.3 L935.5,732.4 L943.6,732.8 L951.8,733.2 L960.1,733.6 L968.4,733.9 L976.6,733.9 L984.7,733.6 L992.9,733.2 L1001.0,732.5 L1009.2,731.9 L1017.3,731.2 L1025.5,730.6 L1033.9,730.1 L1042.5,729.4 L1051.1,728.8 L1059.5,728.3 L1067.5,727.9 L1075.0,727.8 L1080.3,727.9 L1085.2,728.1 L1090.0,728.4 L1094.6,728.8 L1099.3,729.3 L1104.0,729.8 L1108.8,730.3 L1113.7,730.9 L1118.5,731.6 L1123.4,732.4 L1128.2,733.2 L1133.0,734.1 L1137.9,735.2 L1142.7,736.3 L1147.6,737.5 L1152.4,738.8 L1157.3,740.0 L1162.1,741.3 L1166.9,742.5 L1171.8,743.7 L1176.6,745.0 L1181.4,746.2 L1186.3,747.4 L1191.1,748.5 L1196.0,749.6 L1201.0,750.7 L1206.0,751.7 L1211.0,752.7 L1215.7,753.4 L1220.1,753.8 L1223.2,754.0 L1226.1,754.0 L1228.9,753.9 L1231.7,753.7 L1234.5,753.4 L1237.5,753.1 L1241.2,752.4 L1245.0,751.5 L1248.9,750.5 L1252.8,749.4 L1256.8,748.3 L1260.7,747.4 L1264.6,746.6 L1268.4,745.8 L1272.3,745.1 L1276.2,744.4 L1280.1,743.8 L1284.0,743.3 L1287.8,742.8 L1291.5,742.4 L1295.2,742.0 L1299.0,741.7 L1302.9,741.5 L1307.2,741.4 L1313.5,741.5 L1320.3,741.8 L1327.4,742.2 L1334.7,742.7 L1342.1,743.3 L1349.2,743.7 L1349.2,751.7 L1342.1,751.4 L1334.7,750.9 L1327.4,750.5 L1320.3,750.2 L1313.5,750.0 L1307.2,750.0 L1302.9,750.1 L1299.0,750.4 L1295.2,750.7 L1291.5,751.1 L1287.8,751.6 L1284.0,752.1 L1280.1,752.7 L1276.2,753.4 L1272.3,754.1 L1268.4,754.9 L1264.6,755.7 L1260.7,756.6 L1256.8,757.6 L1252.8,758.7 L1248.9,759.8 L1245.0,760.9 L1241.2,761.8 L1237.5,762.5 L1234.5,763.0 L1231.7,763.3 L1228.9,763.6 L1226.1,763.7 L1223.2,763.7 L1220.1,763.6 L1215.7,763.2 L1211.0,762.5 L1206.0,761.6 L1201.0,760.6 L1196.0,759.5 L1191.1,758.5 L1186.3,757.4 L1181.4,756.2 L1176.6,754.9 L1171.8,753.7 L1166.9,752.4 L1162.1,751.1 L1157.3,749.9 L1152.4,748.6 L1147.6,747.3 L1142.7,746.1 L1137.9,744.9 L1133.0,743.9 L1128.2,743.0 L1123.4,742.1 L1118.5,741.3 L1113.7,740.6 L1108.8,740.0 L1104.0,739.4 L1099.3,738.9 L1094.6,738.4 L1090.0,738.0 L1085.2,737.7 L1080.3,737.5 L1075.0,737.4 L1067.5,737.5 L1059.5,737.8 L1051.1,738.3 L1042.5,738.9 L1033.9,739.4 L1025.5,740.0 L1017.3,740.5 L1009.2,741.2 L1001.0,741.8 L992.9,742.4 L984.7,742.9 L976.6,743.1 L968.4,743.0 L960.1,742.7 L951.8,742.3 L943.6,741.9 L935.5,741.5 L927.8,741.3 L921.4,741.3 L915.2,741.4 L909.1,741.5 L903.1,741.7 L897.2,741.9 L891.1,742.2 L884.8,742.7 L878.4,743.3 L872.0,743.9 L865.8,744.6 L859.8,745.1 L854.4,745.4 L850.9,745.4 L847.7,745.4 L844.7,745.4 L841.7,745.3 L838.5,745.2 L835.0,745.0 L829.5,744.8 L823.4,744.6 L817.0,744.3 L810.5,744.0 L804.3,743.7 L798.7,743.5 L794.8,743.3 L791.2,743.3 L787.8,743.2 L784.4,743.1 L780.9,743.0 L777.3,742.8 L773.1,742.6 L768.8,742.3 L764.5,742.0 L760.1,741.7 L755.8,741.2 L751.7,740.7 L748.0,740.1 L744.5,739.4 L741.0,738.7 L737.5,737.9 L734.0,737.1 L730.3,736.3 L726.1,735.5 L721.9,734.6 L717.6,733.7 L713.2,732.8 L708.9,731.9 L704.7,730.9 L700.8,729.9 L696.9,728.8 L693.1,727.7 L689.3,726.6 L685.3,725.5 L681.2,724.5 L676.2,723.3 L670.9,722.1 L665.5,721.0 L660.0,720.0 L654.5,718.9 L649.1,718.0 L643.7,717.1 L638.1,716.2 L632.6,715.4 L627.2,714.7 L622.0,714.1 L617.1,713.6 L613.5,713.4 L610.0,713.3 L606.6,713.2 L603.4,713.2 L600.5,713.2 L597.8,713.2 L596.3,713.1 L595.1,713.1 L593.9,713.0 L592.7,712.9 L591.5,713.0 L590.0,713.2 L587.0,713.9 L583.5,715.0 L579.7,716.4 L575.7,717.9 L571.9,719.5 L568.2,721.0 L564.8,722.6 L561.4,724.3 L558.1,726.0 L554.8,727.7 L551.6,729.4 L548.3,730.9 L545.3,732.3 L542.2,733.6 L539.2,734.9 L536.2,736.1 L533.3,737.1 L530.5,737.9 L528.4,738.3 L526.5,738.6 L524.6,738.8 L522.7,738.8 L520.7,738.9 L518.6,738.9 L515.6,738.7 L512.5,738.5 L509.2,738.1 L505.8,737.7 L502.3,737.2 L498.7,736.8 L494.1,736.3 L489.2,735.8 L484.2,735.3 L479.1,734.8 L474.0,734.3 L469.0,733.8 L464.0,733.3 L459.1,732.7 L454.1,732.2 L449.1,731.7 L444.2,731.2 L439.2,730.7 L434.2,730.2 L429.3,729.7 L424.3,729.2 L419.3,728.7 L414.4,728.2 L409.4,727.8 L404.5,727.4 L399.6,727.0 L394.7,726.7 L389.8,726.4 L384.8,726.1 L379.7,725.7 L374.0,725.2 L368.0,724.6 L362.0,724.0 L356.1,723.4 L350.3,722.8 L345.0,722.2 L341.1,721.8 L337.4,721.4 L333.8,721.0 L330.3,720.6 L326.8,720.1 L323.2,719.6 L319.6,719.0 L315.9,718.4 L312.3,717.7 L308.7,717.0 L305.0,716.3 L301.3,715.7 L297.4,715.0 L293.4,714.3 L289.5,713.6 L285.5,713.0 L281.5,712.3 L277.5,711.6 L273.5,710.9 L269.6,710.3 L265.6,709.6 L261.6,708.9 L257.7,708.2 L253.7,707.6 L249.7,706.9 L245.7,706.2 L241.7,705.5 L237.7,704.8 L233.7,704.2 L229.9,703.6 L226.5,703.1 L223.2,702.6 L219.9,702.1 L216.6,701.7 L213.4,701.4 L210.1,701.2 L206.8,701.2 L203.5,701.3 L200.1,701.5 L196.8,701.8 L193.5,702.2 L190.2,702.6 L186.9,703.0 L183.6,703.6 L180.2,704.2 L176.9,704.9 L173.6,705.5 L170.4,706.0 L167.4,706.5 L164.4,706.9 L161.4,707.3 L158.4,707.6 L155.5,707.9 L152.5,708.0 L149.5,707.9 L146.6,707.8 L143.7,707.5 L140.7,707.2 L137.7,706.8 L134.7,706.4 L131.4,705.8 L127.9,705.2 L124.5,704.5 L121.1,703.8 L117.8,703.1 L114.8,702.4 L112.7,701.9 L110.6,701.4 L108.7,700.9 L106.8,700.4 L104.9,699.9 L103.0,699.4 Z" fill="#006400" fill-opacity="0.2" stroke="none"/>
<line x1="58.7" y1="725.5" x2="1348.7" y2="725.5" stroke="#000" stroke-width="3" stroke-dasharray="12.94 12.94"/>
<polyline points="103.0,749.4 105.0,749.5 106.9,749.6 108.9,749.8 110.9,749.9 112.8,750.0 114.8,750.0 116.8,749.9 118.8,749.7 120.8,749.5 122.7,749.4 124.7,749.3 126.7,749.4 128.7,749.7 130.7,750.2 132.7,750.9 134.7,751.5 136.7,752.2 138.7,752.9 140.7,753.6 142.6,754.3 144.5,755.0 146.5,755.7 148.5,756.3 150.6,756.9 153.1,757.4 155.7,757.9 158.3,758.2 161.0,758.5 163.7,758.7 166.4,758.9 169.1,759.0 171.7,759.0 174.4,758.9 177.1,758.7 179.7,758.6 182.3,758.5 184.7,758.5 187.1,758.5 189.5,758.5 191.8,758.4 194.1,758.2 196.2,757.9 198.0,757.5 199.7,756.9 201.3,756.3 202.9,755.6 204.5,754.8 206.1,753.9 208.1,752.7 210.1,751.3 212.1,749.8 214.1,748.2 216.0,746.6 218.0,745.0 220.0,743.3 222.0,741.5 224.0,739.6 225.9,737.7 227.9,735.9 229.9,734.1 231.9,732.3 233.8,730.6 235.8,728.8 237.7,727.1 239.7,725.5 241.8,724.2 243.7,723.1 245.6,722.2 247.5,721.4 249.5,720.7 251.6,720.1 253.7,719.6 256.2,719.2 258.8,719.1 261.5,719.1 264.2,719.1 266.9,719.2 269.6,719.2 272.3,719.1 275.0,719.0 277.7,718.9 280.4,718.9 283.0,718.8 285.5,718.8 287.6,718.8 289.6,718.8 291.6,718.7 293.5,718.8 295.5,718.9 297.4,719.2 299.4,719.6 301.4,720.1 303.4,720.8 305.4,721.5 307.4,722.3 309.3,723.2 311.3,724.3 313.3,725.6 315.3,727.0 317.2,728.5 319.2,729.8 321.2,731.1 323.1,732.2 325.0,733.2 326.9,734.2 328.8,735.2 330.9,736.1 333.1,737.1 336.3,738.4 339.8,739.9 343.6,741.3 347.3,742.6 350.8,743.5 353.9,744.0 355.7,744.0 357.4,743.9 359.0,743.6 360.5,743.1 362.1,742.6 363.8,742.0 366.3,741.0 368.9,739.8 371.6,738.4 374.3,737.0 377.0,735.5 379.7,734.1 382.3,732.8 385.0,731.4 387.6,730.1 390.3,728.8 392.9,727.5 395.6,726.2 398.2,724.9 400.8,723.7 403.5,722.4 406.1,721.2 408.7,720.1 411.4,719.2 414.0,718.5 416.7,718.0 419.4,717.5 422.1,717.1 424.7,716.7 427.3,716.2 429.7,715.6 431.9,714.9 434.2,714.1 436.5,713.4 438.8,712.8 441.2,712.3 444.0,712.0 446.9,711.8 449.9,711.8 452.9,711.8 455.9,711.8 459.0,711.7 462.3,711.6 465.6,711.4 468.9,711.3 472.2,711.2 475.6,711.0 478.9,710.9 482.2,710.8 485.6,710.9 489.0,710.9 492.3,710.9 495.5,710.7 498.7,710.3 501.5,709.7 504.2,708.9 506.8,708.0 509.4,707.1 512.0,706.1 514.6,705.3 517.2,704.5 519.8,703.7 522.5,702.9 525.1,702.2 527.8,701.6 530.5,701.0 533.4,700.4 536.5,699.9 539.5,699.4 542.6,699.1 545.5,699.0 548.3,699.4 550.8,700.2 553.2,701.3 555.5,702.7 557.7,704.2 559.9,705.8 562.2,707.3 564.6,708.9 566.9,710.8 569.3,712.6 571.6,714.4 573.9,716.0 576.1,717.2 577.6,717.7 579.1,718.0 580.6,718.2 582.1,718.4 583.5,718.8 585.0,719.4 587.1,720.9 589.1,723.0 591.1,725.3 593.2,727.8 595.4,730.2 597.8,732.2 600.7,734.0 603.8,735.7 607.1,737.1 610.4,738.6 613.8,740.1 617.1,741.8 620.6,743.8 624.2,746.0 627.8,748.2 631.4,750.5 635.0,752.6 638.4,754.6 641.3,756.2 644.2,757.6 647.0,759.0 649.8,760.3 652.6,761.7 655.5,763.2 658.7,764.9 661.8,766.8 665.1,768.6 668.3,770.5 671.5,772.2 674.7,773.8 677.5,775.1 680.4,776.2 683.1,777.3 686.0,778.3 688.8,779.3 691.8,780.3 695.3,781.4 698.9,782.3 702.6,783.2 706.2,784.2 709.8,785.4 713.2,786.7 716.2,788.2 719.2,789.8 722.0,791.6 724.8,793.5 727.5,795.4 730.3,797.4 733.2,799.6 736.0,801.8 738.9,804.2 741.7,806.6 744.5,808.9 747.4,811.2 750.2,813.5 753.1,815.9 756.0,818.3 758.9,820.6 761.7,822.5 764.5,824.1 766.7,825.0 768.8,825.8 771.0,826.4 773.1,826.8 775.2,827.1 777.3,827.3 779.1,827.4 780.9,827.3 782.6,827.2 784.4,827.0 786.1,826.6 788.0,826.2 790.4,825.5 792.9,824.5 795.4,823.3 797.9,822.1 800.5,820.9 803.0,819.8 805.5,818.7 807.9,817.4 810.3,816.2 812.8,815.1 815.3,814.1 817.9,813.4 820.7,813.0 823.7,812.7 826.7,812.7 829.6,812.8 832.4,813.0 835.0,813.4 836.8,813.8 838.4,814.2 839.9,814.8 841.4,815.4 843.0,816.0 844.7,816.7 847.0,817.6 849.4,818.6 851.8,819.6 854.3,820.7 856.8,821.8 859.3,822.8 861.7,823.9 864.2,825.2 866.6,826.5 869.1,827.6 871.5,828.5 874.0,828.9 876.4,828.9 878.9,828.5 881.4,827.9 883.8,827.1 886.3,826.2 888.7,825.3 891.2,824.3 893.7,823.1 896.1,821.8 898.5,820.5 900.9,819.2 903.3,818.0 905.4,817.0 907.5,815.9 909.5,814.8 911.5,813.9 913.5,813.1 915.5,812.6 917.2,812.3 918.8,812.2 920.4,812.2 922.1,812.3 923.7,812.6 925.3,813.1 927.3,814.1 929.3,815.5 931.3,817.2 933.4,819.1 935.4,821.0 937.5,822.8 939.8,824.7 942.2,826.8 944.6,828.8 947.1,830.9 949.6,833.0 952.2,835.0 955.3,837.5 958.5,840.3 961.8,843.1 965.2,845.6 968.5,847.5 971.7,848.5 974.2,848.6 976.6,848.1 979.1,847.3 981.5,846.2 983.9,844.9 986.4,843.6 989.6,841.7 992.7,839.3 995.9,836.6 999.1,833.8 1002.5,831.2 1006.0,828.9 1009.9,826.6 1014.0,824.3 1018.3,822.0 1022.5,820.1 1026.6,818.7 1030.4,818.0 1033.0,818.0 1035.6,818.3 1038.0,818.9 1040.4,819.7 1042.7,820.6 1045.1,821.6 1047.6,822.7 1050.1,824.0 1052.6,825.4 1055.0,827.0 1057.4,828.6 1059.7,830.2 1061.8,831.9 1063.8,833.7 1065.7,835.6 1067.7,837.5 1069.7,839.3 1071.9,841.2 1074.6,843.4 1077.6,845.8 1080.6,848.2 1083.6,850.4 1086.6,852.3 1089.5,853.6 1091.5,854.2 1093.4,854.6 1095.3,854.7 1097.2,854.8 1099.1,854.7 1101.1,854.5 1103.4,854.1 1105.8,853.5 1108.2,852.8 1110.7,852.0 1113.2,851.3 1115.6,850.7 1118.0,850.2 1120.4,849.6 1122.8,849.1 1125.2,848.8 1127.6,848.8 1130.1,849.2 1133.4,850.5 1136.7,852.7 1140.1,855.3 1143.5,858.2 1146.9,861.1 1150.4,863.8 1154.2,866.5 1158.0,869.2 1161.9,872.0 1165.8,874.7 1169.7,877.3 1173.7,879.7 1177.5,881.9 1181.4,883.9 1185.3,885.9 1189.2,887.7 1193.1,889.5 1196.9,891.3 1200.4,893.1 1204.0,895.1 1207.5,897.0 1210.9,898.7 1214.2,899.7 1217.2,900.0 1219.4,899.6 1221.3,898.8 1223.2,897.7 1225.0,896.3 1226.9,894.7 1228.8,892.8 1232.1,888.9 1235.5,884.0 1239.0,878.3 1242.4,872.4 1245.8,866.4 1249.1,860.9 1252.1,855.8 1254.9,850.5 1257.8,845.3 1260.6,840.3 1263.5,835.7 1266.5,831.8 1268.8,829.3 1271.2,827.0 1273.6,825.0 1276.0,823.2 1278.5,821.6 1281.0,820.2 1283.4,819.2 1285.8,818.4 1288.2,817.8 1290.7,817.3 1293.1,817.0 1295.5,816.7 1297.5,816.5 1299.4,816.3 1301.3,816.2 1303.3,816.3 1305.2,816.6 1307.2,817.3 1310.4,819.2 1313.7,821.9 1317.2,825.3 1320.6,829.0 1324.1,832.7 1327.5,836.2 1331.1,839.7 1334.7,843.3 1338.3,847.0 1342.0,850.7 1345.6,854.3 1349.2,858.0" fill="none" stroke="#000080" stroke-width="3" stroke-linejoin="round"/>
<polyline points="103.0,792.6 105.0,792.5 106.9,792.5 108.9,792.4 110.9,792.4 112.8,792.3 114.8,792.2 116.8,792.1 118.8,792.1 120.9,792.0 122.9,791.8 124.8,791.5 126.7,791.0 128.5,790.3 130.2,789.5 131.9,788.6 133.6,787.5 135.2,786.2 136.7,784.7 138.6,782.4 140.4,779.7 142.1,776.7 143.7,773.5 145.2,770.2 146.6,766.8 148.2,762.6 149.5,758.2 150.8,753.6 152.0,748.8 153.2,743.9 154.5,739.0 156.1,733.3 157.6,727.4 159.2,721.3 160.9,715.3 162.6,709.2 164.4,703.3 166.3,697.5 168.2,691.7 170.2,685.9 172.2,680.2 174.3,674.8 176.3,669.6 177.9,665.5 179.4,661.4 181.0,657.5 182.6,653.8 184.4,650.6 186.3,647.8 187.8,646.0 189.5,644.3 191.2,642.8 192.9,641.7 194.6,640.9 196.2,640.8 198.0,641.5 199.7,643.0 201.4,645.1 203.0,647.5 204.6,650.1 206.1,652.7 208.0,656.2 209.7,660.1 211.3,664.3 212.9,668.7 214.4,673.2 216.0,677.5 217.7,682.1 219.3,686.8 221.0,691.5 222.6,696.2 224.3,700.9 226.0,705.3 227.6,709.2 229.1,713.1 230.7,716.9 232.3,720.6 234.1,724.0 235.9,727.1 237.4,729.4 239.0,731.5 240.6,733.5 242.3,735.3 244.0,736.9 245.8,738.1 247.4,738.9 249.0,739.4 250.7,739.8 252.4,740.0 254.0,740.1 255.7,740.0 257.4,739.7 259.0,739.1 260.6,738.4 262.2,737.6 263.9,736.8 265.6,736.1 267.5,735.4 269.5,734.5 271.5,733.7 273.5,733.0 275.5,732.5 277.5,732.1 279.2,732.0 280.9,732.0 282.5,732.1 284.2,732.4 285.8,732.7 287.5,733.1 289.4,733.7 291.4,734.4 293.4,735.3 295.4,736.2 297.4,737.1 299.4,738.1 301.7,739.3 304.0,740.6 306.4,742.0 308.8,743.3 311.1,744.4 313.3,745.0 315.0,745.3 316.7,745.4 318.4,745.3 320.1,745.1 321.7,744.6 323.2,744.0 324.9,742.8 326.5,741.1 328.0,739.2 329.5,737.1 331.2,735.0 333.1,733.1 335.9,730.8 339.0,728.4 342.2,726.1 345.6,723.8 348.9,721.8 351.9,720.2 354.0,719.2 356.0,718.4 358.0,717.6 360.0,717.0 361.9,716.6 363.8,716.2 365.5,716.0 367.1,715.8 368.8,715.7 370.4,715.8 372.0,715.9 373.7,716.2 375.6,716.7 377.6,717.3 379.6,718.2 381.6,719.1 383.6,720.1 385.6,721.2 387.9,722.6 390.2,724.2 392.5,725.9 394.9,727.6 397.2,729.4 399.5,731.1 401.8,732.7 404.1,734.4 406.5,736.0 408.8,737.7 411.1,739.3 413.4,741.0 415.7,742.7 418.0,744.3 420.4,745.9 422.7,747.6 425.0,749.3 427.3,751.0 429.6,752.9 432.0,755.0 434.3,757.1 436.6,759.1 438.9,760.7 441.2,761.9 442.9,762.4 444.5,762.8 446.2,763.0 447.8,763.0 449.5,762.8 451.1,762.5 453.1,761.8 455.1,760.8 457.1,759.5 459.1,758.0 461.1,756.5 463.0,754.9 465.1,753.1 467.1,751.2 469.0,749.2 471.0,747.2 472.9,745.1 474.9,743.0 476.9,740.9 478.9,738.7 480.8,736.5 482.8,734.3 484.8,732.2 486.8,730.1 488.7,728.1 490.7,726.1 492.6,724.2 494.6,722.3 496.6,720.6 498.7,719.2 500.6,718.1 502.5,717.1 504.4,716.3 506.4,715.6 508.5,715.1 510.6,714.8 513.1,714.8 515.7,715.2 518.4,715.8 521.1,716.6 523.8,717.4 526.5,718.2 529.2,718.9 531.8,719.8 534.5,720.6 537.1,721.5 539.8,722.4 542.4,723.2 545.1,724.0 547.8,724.7 550.6,725.4 553.3,726.1 555.8,727.0 558.3,728.1 560.5,729.3 562.6,730.7 564.5,732.3 566.5,733.9 568.4,735.5 570.2,737.1 571.9,738.7 573.5,740.4 575.0,742.1 576.5,743.8 578.2,745.4 580.1,747.0 582.7,748.7 585.5,750.3 588.5,751.8 591.6,753.3 594.7,755.0 597.8,756.8 601.3,759.3 604.9,762.1 608.5,765.1 612.1,768.1 615.7,770.7 619.2,772.8 622.1,774.1 625.0,775.1 627.9,775.9 630.8,776.7 633.6,777.3 636.3,778.1 638.6,778.8 640.8,779.6 643.0,780.4 645.1,781.1 647.1,781.7 649.1,782.0 650.6,782.2 652.0,782.2 653.4,782.2 654.8,782.1 656.2,781.8 657.6,781.3 659.7,780.1 661.8,778.4 664.0,776.4 666.1,774.1 668.3,771.8 670.5,769.6 672.9,767.1 675.3,764.5 677.8,761.7 680.2,759.1 682.8,756.7 685.4,754.6 687.8,753.1 690.3,751.7 692.8,750.5 695.4,749.5 697.9,748.7 700.4,748.2 702.6,748.0 704.7,748.0 706.8,748.2 709.0,748.6 711.1,748.9 713.2,749.3 715.4,749.7 717.5,750.3 719.7,751.0 721.8,751.6 723.9,752.0 726.0,752.1 727.8,752.0 729.6,751.7 731.3,751.2 733.1,750.7 734.9,750.0 736.7,749.3 739.1,748.2 741.6,746.8 744.2,745.3 746.7,743.7 749.3,742.2 751.7,740.7 753.9,739.4 756.0,738.1 758.0,736.8 760.1,735.6 762.2,734.3 764.5,733.2 767.2,732.0 770.0,730.9 772.9,729.9 775.8,728.9 778.7,727.8 781.6,726.8 784.5,725.7 787.4,724.6 790.3,723.4 793.2,722.3 796.0,721.3 798.7,720.4 800.9,719.7 803.1,719.0 805.2,718.3 807.3,717.8 809.4,717.4 811.5,717.2 813.6,717.2 815.7,717.4 817.8,717.7 819.9,718.1 822.1,718.7 824.3,719.4 827.2,720.6 830.2,722.2 833.3,724.0 836.4,725.8 839.3,727.5 842.2,728.7 844.3,729.5 846.4,730.2 848.4,730.8 850.4,731.2 852.4,731.4 854.4,731.2 856.8,730.4 859.3,728.9 861.7,727.1 864.2,725.1 866.6,723.2 869.1,721.4 871.5,719.8 874.0,718.2 876.5,716.6 879.0,715.1 881.4,713.7 883.8,712.4 885.9,711.3 888.0,710.3 890.1,709.4 892.2,708.6 894.1,707.9 896.0,707.5 897.3,707.3 898.6,707.2 899.8,707.2 900.9,707.3 902.1,707.6 903.3,708.0 905.0,709.0 906.7,710.3 908.3,711.9 910.0,713.8 911.6,715.7 913.1,717.8 914.9,720.5 916.5,723.6 918.1,726.8 919.7,730.3 921.3,733.8 922.9,737.3 924.9,741.5 926.8,746.0 928.8,750.6 930.8,755.2 932.9,759.8 935.1,764.2 937.3,768.7 939.6,773.4 941.9,778.1 944.4,782.4 947.0,786.0 949.7,788.6 951.6,789.7 953.7,790.5 955.8,791.0 957.9,791.2 960.0,791.0 962.0,790.6 964.2,789.6 966.3,788.0 968.3,785.9 970.3,783.6 972.3,781.2 974.2,778.8 976.3,775.9 978.4,772.8 980.4,769.6 982.3,766.2 984.3,762.8 986.4,759.3 988.7,755.3 991.1,751.0 993.5,746.7 995.9,742.5 998.5,738.5 1001.1,734.9 1003.4,732.2 1005.7,729.6 1008.0,727.1 1010.5,724.9 1013.0,723.0 1015.7,721.4 1018.4,720.3 1021.3,719.5 1024.2,719.0 1027.2,718.6 1030.1,718.2 1032.8,717.8 1034.9,717.4 1036.9,717.0 1038.9,716.6 1040.9,716.3 1042.9,716.0 1045.1,715.8 1048.2,715.6 1051.5,715.5 1055.0,715.5 1058.4,715.6 1061.7,716.0 1064.6,716.5 1066.6,717.0 1068.4,717.6 1070.2,718.3 1071.8,719.2 1073.4,720.3 1075.0,721.6 1077.2,724.1 1079.2,727.1 1081.1,730.6 1082.9,734.3 1084.8,738.2 1086.6,741.9 1088.6,746.0 1090.5,750.4 1092.4,754.8 1094.3,759.3 1096.2,763.7 1098.2,768.0 1100.1,772.0 1102.0,775.9 1104.0,779.9 1105.9,783.7 1107.9,787.5 1109.8,791.2 1111.5,794.6 1113.1,798.2 1114.6,801.7 1116.3,805.0 1118.0,807.8 1120.0,810.1 1121.5,811.4 1123.2,812.5 1124.9,813.4 1126.6,814.1 1128.4,814.4 1130.1,814.4 1132.0,813.8 1133.9,812.8 1135.8,811.3 1137.7,809.5 1139.7,807.6 1141.7,805.7 1144.5,802.9 1147.4,799.6 1150.4,796.1 1153.4,792.7 1156.4,789.5 1159.2,786.9 1161.1,785.4 1163.0,784.0 1164.8,782.8 1166.7,781.8 1168.7,780.9 1170.8,780.2 1173.5,779.7 1176.4,779.7 1179.4,779.9 1182.4,780.0 1185.4,780.0 1188.2,779.6 1190.8,778.9 1193.3,777.9 1195.8,776.8 1198.2,775.6 1200.5,774.1 1202.7,772.4 1204.9,770.3 1207.0,767.9 1208.9,765.3 1210.7,762.4 1212.5,759.5 1214.3,756.4 1216.4,752.5 1218.3,748.2 1220.2,743.7 1222.1,739.1 1224.0,734.6 1225.9,730.3 1227.7,726.1 1229.5,721.6 1231.3,717.2 1233.1,713.1 1235.2,709.6 1237.5,707.1 1239.3,705.9 1241.2,705.0 1243.2,704.4 1245.2,704.1 1247.2,704.0 1249.1,704.2 1251.1,704.7 1253.0,705.6 1255.0,706.8 1256.9,708.2 1258.8,709.8 1260.7,711.4 1263.1,713.8 1265.5,716.7 1267.9,719.8 1270.3,723.0 1272.7,726.1 1275.2,728.8 1277.5,731.0 1279.8,733.2 1282.2,735.3 1284.6,737.2 1287.1,738.9 1289.7,740.4 1292.4,741.5 1295.3,742.3 1298.2,743.0 1301.2,743.5 1304.2,744.1 1307.2,744.8 1310.5,745.7 1313.8,746.6 1317.2,747.5 1320.7,748.5 1324.1,749.5 1327.5,750.6 1331.1,751.8 1334.7,753.1 1338.3,754.5 1342.0,755.9 1345.6,757.3 1349.2,758.7" fill="none" stroke="#8B0000" stroke-width="3" stroke-linejoin="round"/>
<polyline points="103.0,728.1 111.5,727.9 120.0,727.7 128.5,727.5 137.1,727.3 145.7,727.2 154.5,727.1 164.5,727.1 175.0,727.2 185.6,727.3 196.0,727.4 205.6,727.6 214.0,727.7 218.5,727.8 222.6,727.9 226.3,728.0 230.0,728.0 233.8,728.1 237.9,728.1 243.4,728.0 249.2,727.9 255.2,727.6 261.3,727.4 267.5,727.2 273.6,727.1 280.1,727.1 286.8,727.2 293.6,727.3 300.3,727.4 306.9,727.4 313.3,727.1 318.8,726.6 324.1,725.9 329.3,725.0 334.5,724.2 339.7,723.6 345.0,723.2 350.7,723.2 356.4,723.5 362.1,724.0 367.9,724.5 373.8,725.0 379.7,725.2 386.3,725.2 393.2,725.2 400.1,725.0 406.9,724.8 413.4,724.5 419.4,724.2 423.4,724.0 427.3,723.9 430.9,723.7 434.4,723.5 437.8,723.0 441.2,722.2 444.3,721.0 447.3,719.5 450.2,717.7 453.0,716.0 455.9,714.4 459.0,713.3 462.2,712.5 465.6,712.0 469.0,711.7 472.4,711.5 475.7,711.5 478.9,711.7 481.7,712.0 484.4,712.3 487.0,712.9 489.6,713.5 492.2,714.3 494.8,715.2 497.5,716.5 500.0,718.1 502.6,719.9 505.1,721.6 507.8,723.1 510.6,724.2 513.6,724.9 516.6,725.2 519.7,725.3 523.0,725.2 526.5,725.2 530.5,725.2 538.4,725.3 547.3,725.3 557.1,725.3 567.6,725.2 578.7,725.2 590.0,725.2 606.3,725.4 623.8,725.7 642.2,726.1 661.3,726.5 680.6,726.8 700.0,727.0 722.3,727.1 745.8,727.0 769.7,726.9 793.1,726.8 815.2,726.6 835.0,726.5 847.3,726.4 858.7,726.2 869.5,726.0 879.8,725.9 889.9,725.9 900.0,726.0 908.7,726.3 917.2,726.8 925.4,727.4 933.6,728.0 941.7,728.5 950.0,728.7 958.2,728.7 966.3,728.4 974.4,728.1 982.6,727.7 991.1,727.3 1000.0,727.0 1011.7,726.7 1024.2,726.4 1037.2,726.2 1050.2,726.0 1062.9,725.9 1075.0,725.9 1085.0,726.0 1094.6,726.3 1104.1,726.7 1113.5,727.0 1123.0,727.3 1133.0,727.4 1145.2,727.4 1158.3,727.5 1171.6,727.4 1184.4,727.2 1196.0,726.7 1205.6,725.9 1209.7,725.3 1213.3,724.6 1216.5,723.8 1219.6,723.0 1222.7,722.3 1225.9,721.6 1229.3,721.0 1232.7,720.3 1236.1,719.6 1239.4,719.1 1242.8,718.8 1246.2,718.7 1249.6,719.0 1253.0,719.6 1256.4,720.5 1259.8,721.4 1263.2,722.3 1266.5,723.0 1269.4,723.6 1272.0,724.1 1274.6,724.6 1277.4,725.1 1280.4,725.5 1284.0,725.9 1292.5,726.4 1302.7,726.7 1314.0,726.7 1325.9,726.7 1337.9,726.7 1349.2,726.8" fill="none" stroke="#0000CD" stroke-width="3" stroke-linejoin="round"/>
<polyline points="103.0,696.4 104.9,696.9 106.8,697.4 108.7,697.9 110.6,698.4 112.7,698.9 114.8,699.4 117.8,700.1 121.1,700.8 124.5,701.5 127.9,702.2 131.4,702.8 134.7,703.3 137.7,703.7 140.7,704.1 143.7,704.4 146.6,704.7 149.5,704.9 152.5,704.9 155.5,704.8 158.4,704.5 161.4,704.2 164.4,703.8 167.4,703.3 170.4,702.9 173.6,702.4 176.9,701.8 180.2,701.1 183.6,700.5 186.9,699.9 190.2,699.4 193.5,699.0 196.8,698.6 200.1,698.3 203.5,698.1 206.8,698.0 210.1,698.0 213.4,698.2 216.6,698.5 219.9,698.9 223.2,699.4 226.5,699.9 229.9,700.4 233.7,701.0 237.7,701.6 241.7,702.3 245.7,702.9 249.7,703.6 253.7,704.3 257.7,705.0 261.6,705.6 265.6,706.3 269.6,707.0 273.5,707.6 277.5,708.3 281.5,709.0 285.5,709.6 289.5,710.3 293.4,711.0 297.4,711.6 301.3,712.3 305.0,713.0 308.7,713.6 312.3,714.3 315.9,715.0 319.6,715.6 323.2,716.2 326.8,716.7 330.3,717.2 333.8,717.6 337.4,718.0 341.1,718.4 345.0,718.8 350.3,719.4 356.1,720.0 362.0,720.6 368.0,721.2 374.0,721.7 379.7,722.2 384.8,722.6 389.8,722.9 394.7,723.2 399.6,723.5 404.5,723.8 409.4,724.2 414.4,724.6 419.3,725.1 424.3,725.6 429.3,726.1 434.2,726.6 439.2,727.1 444.2,727.6 449.1,728.1 454.1,728.6 459.1,729.1 464.0,729.6 469.0,730.1 474.0,730.6 479.1,731.1 484.2,731.6 489.2,732.1 494.1,732.6 498.7,733.1 502.3,733.5 505.8,733.9 509.2,734.4 512.5,734.7 515.6,735.0 518.6,735.1 520.7,735.1 522.7,735.1 524.6,735.0 526.5,734.8 528.4,734.5 530.5,734.1 533.3,733.3 536.2,732.3 539.2,731.1 542.2,729.8 545.3,728.5 548.3,727.1 551.6,725.6 554.8,723.9 558.1,722.2 561.4,720.4 564.8,718.8 568.2,717.2 571.9,715.6 575.7,714.0 579.7,712.5 583.5,711.1 587.0,710.0 590.0,709.3 591.5,709.1 592.7,709.0 593.9,709.1 595.1,709.2 596.3,709.2 597.8,709.3 600.5,709.3 603.4,709.3 606.6,709.3 610.0,709.4 613.5,709.5 617.1,709.7 622.0,710.1 627.2,710.7 632.6,711.5 638.1,712.3 643.7,713.1 649.1,714.0 654.5,714.9 660.0,715.9 665.5,717.0 670.9,718.1 676.2,719.2 681.2,720.4 685.3,721.4 689.3,722.5 693.1,723.6 696.9,724.7 700.8,725.8 704.7,726.8 708.9,727.8 713.2,728.7 717.6,729.6 721.9,730.5 726.1,731.4 730.3,732.2 734.0,733.0 737.5,733.8 741.0,734.5 744.5,735.3 748.0,735.9 751.7,736.5 755.8,737.0 760.1,737.5 764.5,737.8 768.8,738.1 773.1,738.4 777.3,738.6 780.9,738.8 784.4,738.9 787.8,738.9 791.2,739.0 794.8,739.1 798.7,739.2 804.3,739.4 810.5,739.7 817.0,740.0 823.4,740.3 829.5,740.5 835.0,740.7 838.5,740.8 841.7,740.9 844.7,741.0 847.7,741.1 850.9,741.1 854.4,741.0 859.8,740.7 865.8,740.2 872.0,739.5 878.4,738.9 884.8,738.3 891.1,737.8 897.2,737.5 903.1,737.2 909.1,737.0 915.2,736.9 921.4,736.8 927.8,736.8 935.5,737.0 943.6,737.3 951.8,737.8 960.1,738.2 968.4,738.5 976.6,738.5 984.7,738.2 992.9,737.8 1001.0,737.2 1009.2,736.5 1017.3,735.9 1025.5,735.3 1033.9,734.8 1042.5,734.1 1051.1,733.5 1059.5,733.0 1067.5,732.7 1075.0,732.6 1080.3,732.7 1085.2,732.9 1090.0,733.2 1094.6,733.6 1099.3,734.1 1104.0,734.6 1108.8,735.2 1113.7,735.8 1118.5,736.5 1123.4,737.2 1128.2,738.1 1133.0,739.0 1137.9,740.0 1142.7,741.2 1147.6,742.4 1152.4,743.7 1157.3,745.0 1162.1,746.2 1166.9,747.4 1171.8,748.7 1176.6,750.0 1181.4,751.2 1186.3,752.4 1191.1,753.5 1196.0,754.6 1201.0,755.7 1206.0,756.7 1211.0,757.6 1215.7,758.3 1220.1,758.7 1223.2,758.8 1226.1,758.9 1228.9,758.7 1231.7,758.5 1234.5,758.2 1237.5,757.8 1241.2,757.1 1245.0,756.2 1248.9,755.1 1252.8,754.0 1256.8,752.9 1260.7,752.0 1264.6,751.2 1268.4,750.4 1272.3,749.6 1276.2,748.9 1280.1,748.3 1284.0,747.7 1287.8,747.2 1291.5,746.8 1295.2,746.4 1299.0,746.1 1302.9,745.8 1307.2,745.7 1313.5,745.7 1320.3,746.0 1327.4,746.4 1334.7,746.8 1342.1,747.3 1349.2,747.7" fill="none" stroke="#006400" stroke-width="3" stroke-linejoin="round"/>
</g>
<rect x="60" y="624" width="1288.7" height="369.5" fill="none" stroke="#000" stroke-width="2.8"/>
<line x1="60" y1="725.5" x2="69" y2="725.5" stroke="#000" stroke-width="2.2"/>
<text x="55" y="731.5" font-size="16.8" fill="#4d4d4d" text-anchor="end" font-weight="normal" >0</text>
<line x1="60" y1="847.5" x2="69" y2="847.5" stroke="#000" stroke-width="2.2"/>
<text x="55" y="853.5" font-size="16.8" fill="#4d4d4d" text-anchor="end" font-weight="normal" >-20</text>
<line x1="60" y1="970" x2="69" y2="970" stroke="#000" stroke-width="2.2"/>
<text x="55" y="976" font-size="16.8" fill="#4d4d4d" text-anchor="end" font-weight="normal" >-40</text>
<text x="58.5" y="1012.0" font-size="16.8" fill="#4d4d4d" text-anchor="middle" font-weight="normal" >2003</text>
<line x1="117.5" y1="984.5" x2="117.5" y2="993.5" stroke="#000" stroke-width="2.2"/>
<text x="117.5" y="1012.0" font-size="16.8" fill="#4d4d4d" text-anchor="middle" font-weight="normal" >2004</text>
<line x1="176.4" y1="984.5" x2="176.4" y2="993.5" stroke="#000" stroke-width="2.2"/>
<text x="176.4" y="1012.0" font-size="16.8" fill="#4d4d4d" text-anchor="middle" font-weight="normal" >2005</text>
<line x1="235.4" y1="984.5" x2="235.4" y2="993.5" stroke="#000" stroke-width="2.2"/>
<text x="235.4" y="1012.0" font-size="16.8" fill="#4d4d4d" text-anchor="middle" font-weight="normal" >2006</text>
<line x1="294.4" y1="984.5" x2="294.4" y2="993.5" stroke="#000" stroke-width="2.2"/>
<text x="294.4" y="1012.0" font-size="16.8" fill="#4d4d4d" text-anchor="middle" font-weight="normal" >2007</text>
<line x1="353.3" y1="984.5" x2="353.3" y2="993.5" stroke="#000" stroke-width="2.2"/>
<text x="353.3" y="1012.0" font-size="16.8" fill="#4d4d4d" text-anchor="middle" font-weight="normal" >2008</text>
<line x1="412.3" y1="984.5" x2="412.3" y2="993.5" stroke="#000" stroke-width="2.2"/>
<text x="412.3" y="1012.0" font-size="16.8" fill="#4d4d4d" text-anchor="middle" font-weight="normal" >2009</text>
<line x1="471.3" y1="984.5" x2="471.3" y2="993.5" stroke="#000" stroke-width="2.2"/>
<text x="471.3" y="1012.0" font-size="16.8" fill="#4d4d4d" text-anchor="middle" font-weight="normal" >2010</text>
<line x1="530.2" y1="984.5" x2="530.2" y2="993.5" stroke="#000" stroke-width="2.2"/>
<text x="530.2" y="1012.0" font-size="16.8" fill="#4d4d4d" text-anchor="middle" font-weight="normal" >2011</text>
<line x1="589.2" y1="984.5" x2="589.2" y2="993.5" stroke="#000" stroke-width="2.2"/>
<text x="589.2" y="1012.0" font-size="16.8" fill="#4d4d4d" text-anchor="middle" font-weight="normal" >2012</text>
<line x1="648.2" y1="984.5" x2="648.2" y2="993.5" stroke="#000" stroke-width="2.2"/>
<text x="648.2" y="1012.0" font-size="16.8" fill="#4d4d4d" text-anchor="middle" font-weight="normal" >2013</text>
<line x1="707.1" y1="984.5" x2="707.1" y2="993.5" stroke="#000" stroke-width="2.2"/>
<text x="707.1" y="1012.0" font-size="16.8" fill="#4d4d4d" text-anchor="middle" font-weight="normal" >2014</text>
<line x1="766.1" y1="984.5" x2="766.1" y2="993.5" stroke="#000" stroke-width="2.2"/>
<text x="766.1" y="1012.0" font-size="16.8" fill="#4d4d4d" text-anchor="middle" font-weight="normal" >2015</text>
<line x1="825.0" y1="984.5" x2="825.0" y2="993.5" stroke="#000" stroke-width="2.2"/>
<text x="825.0" y="1012.0" font-size="16.8" fill="#4d4d4d" text-anchor="middle" font-weight="normal" >2016</text>
<line x1="884.0" y1="984.5" x2="884.0" y2="993.5" stroke="#000" stroke-width="2.2"/>
<text x="884.0" y="1012.0" font-size="16.8" fill="#4d4d4d" text-anchor="middle" font-weight="normal" >2017</text>
<line x1="943.0" y1="984.5" x2="943.0" y2="993.5" stroke="#000" stroke-width="2.2"/>
<text x="943.0" y="1012.0" font-size="16.8" fill="#4d4d4d" text-anchor="middle" font-weight="normal" >2018</text>
<line x1="1001.9" y1="984.5" x2="1001.9" y2="993.5" stroke="#000" stroke-width="2.2"/>
<text x="1001.9" y="1012.0" font-size="16.8" fill="#4d4d4d" text-anchor="middle" font-weight="normal" >2019</text>
<line x1="1060.9" y1="984.5" x2="1060.9" y2="993.5" stroke="#000" stroke-width="2.2"/>
<text x="1060.9" y="1012.0" font-size="16.8" fill="#4d4d4d" text-anchor="middle" font-weight="normal" >2020</text>
<line x1="1119.9" y1="984.5" x2="1119.9" y2="993.5" stroke="#000" stroke-width="2.2"/>
<text x="1119.9" y="1012.0" font-size="16.8" fill="#4d4d4d" text-anchor="middle" font-weight="normal" >2021</text>
<line x1="1178.8" y1="984.5" x2="1178.8" y2="993.5" stroke="#000" stroke-width="2.2"/>
<text x="1178.8" y="1012.0" font-size="16.8" fill="#4d4d4d" text-anchor="middle" font-weight="normal" >2022</text>
<line x1="1237.8" y1="984.5" x2="1237.8" y2="993.5" stroke="#000" stroke-width="2.2"/>
<text x="1237.8" y="1012.0" font-size="16.8" fill="#4d4d4d" text-anchor="middle" font-weight="normal" >2023</text>
<line x1="1296.8" y1="984.5" x2="1296.8" y2="993.5" stroke="#000" stroke-width="2.2"/>
<text x="1296.8" y="1012.0" font-size="16.8" fill="#4d4d4d" text-anchor="middle" font-weight="normal" >2024</text>
<g transform="translate(21.5,390.5) rotate(-90)"><text x="0" y="0" font-size="19.8" fill="#1a1a1a" textLength="212" lengthAdjust="spacingAndGlyphs">Water storage variation</text><text x="227.0" y="0" font-size="19.8" fill="#1a1a1a" textLength="53" lengthAdjust="spacingAndGlyphs">(Km<tspan font-size="14" dy="-9">3</tspan><tspan dy="9">)</tspan></text></g>
<g transform="translate(21.5,947.8) rotate(-90)"><text x="0" y="0" font-size="19.8" fill="#1a1a1a" textLength="212" lengthAdjust="spacingAndGlyphs">Water storage variation</text><text x="224.29999999999995" y="0" font-size="19.8" fill="#1a1a1a" textLength="53" lengthAdjust="spacingAndGlyphs">(Km<tspan font-size="14" dy="-9">3</tspan><tspan dy="9">)</tspan></text></g>
<text x="704.3" y="481.4" font-size="21.5" fill="#000" text-anchor="middle" font-weight="normal" textLength="45" lengthAdjust="spacingAndGlyphs" >Time</text>
<text x="704.3" y="1036.4" font-size="21.5" fill="#000" text-anchor="middle" font-weight="normal" textLength="45" lengthAdjust="spacingAndGlyphs" >Time</text>
<rect x="517.5" y="518.3" width="30" height="30" fill="#5555AA"/>
<line x1="519.0" y1="533.3" x2="546.0" y2="533.3" stroke="#000080" stroke-width="4"/>
<text x="559.8" y="539.8" font-size="17.7" fill="#000" text-anchor="start" font-weight="normal" textLength="38.3" lengthAdjust="spacingAndGlyphs" >GWS</text>
<rect x="611" y="518.3" width="30" height="30" fill="#B25555"/>
<line x1="612.5" y1="533.3" x2="639.5" y2="533.3" stroke="#8B0000" stroke-width="4"/>
<text x="653.2" y="539.8" font-size="17.7" fill="#000" text-anchor="start" font-weight="normal" textLength="34.8" lengthAdjust="spacingAndGlyphs" >SMS</text>
<rect x="700.8" y="518.3" width="30" height="30" fill="#5555FF"/>
<line x1="702.3" y1="533.3" x2="729.3" y2="533.3" stroke="#0000CD" stroke-width="4"/>
<text x="743" y="539.8" font-size="17.7" fill="#000" text-anchor="start" font-weight="normal" textLength="36.8" lengthAdjust="spacingAndGlyphs" >SWE</text>
<rect x="792" y="518.3" width="30" height="30" fill="#4F9A55"/>
<line x1="793.5" y1="533.3" x2="820.5" y2="533.3" stroke="#006400" stroke-width="4"/>
<text x="835.5" y="539.8" font-size="17.7" fill="#000" text-anchor="start" font-weight="normal" textLength="46.6" lengthAdjust="spacingAndGlyphs" >SWRS</text>
<rect x="517.5" y="1072.8" width="30" height="30" fill="#5555AA"/>
<line x1="519.0" y1="1087.8" x2="546.0" y2="1087.8" stroke="#000080" stroke-width="4"/>
<text x="559.8" y="1094.3" font-size="17.7" fill="#000" text-anchor="start" font-weight="normal" textLength="38.3" lengthAdjust="spacingAndGlyphs" >GWS</text>
<rect x="611" y="1072.8" width="30" height="30" fill="#B25555"/>
<line x1="612.5" y1="1087.8" x2="639.5" y2="1087.8" stroke="#8B0000" stroke-width="4"/>
<text x="653.2" y="1094.3" font-size="17.7" fill="#000" text-anchor="start" font-weight="normal" textLength="34.8" lengthAdjust="spacingAndGlyphs" >SMS</text>
<rect x="700.8" y="1072.8" width="30" height="30" fill="#5555FF"/>
<line x1="702.3" y1="1087.8" x2="729.3" y2="1087.8" stroke="#0000CD" stroke-width="4"/>
<text x="743" y="1094.3" font-size="17.7" fill="#000" text-anchor="start" font-weight="normal" textLength="36.8" lengthAdjust="spacingAndGlyphs" >SWE</text>
<rect x="792" y="1072.8" width="30" height="30" fill="#4F9A55"/>
<line x1="793.5" y1="1087.8" x2="820.5" y2="1087.8" stroke="#006400" stroke-width="4"/>
<text x="837.5" y="1094.3" font-size="17.7" fill="#000" text-anchor="start" font-weight="normal" textLength="46.6" lengthAdjust="spacingAndGlyphs" >SWRS</text>
<text x="534" y="599.2" font-size="13.5" fill="#000" text-anchor="start" font-weight="normal" textLength="26" lengthAdjust="spacingAndGlyphs" >0.01</text>
<path d="M1384.51,252.66 C1400.33,237.51 1412.38,222.48 1426.00,183.38 C1439.62,222.48 1451.67,237.51 1467.49,252.66 A60.00,60.00 0 1 1 1384.51,252.66 Z" fill="#A5A5A5"/>
<path d="M1546.34,226.04 C1566.04,207.18 1581.05,188.46 1598.00,139.79 C1614.95,188.46 1629.96,207.18 1649.66,226.04 A74.70,74.70 0 1 1 1546.34,226.04 Z" fill="#ED7D31"/>
<path d="M1724.26,202.39 C1747.99,179.67 1766.08,157.12 1786.50,98.47 C1806.92,157.12 1825.01,179.67 1848.74,202.39 A90.00,90.00 0 1 1 1724.26,202.39 Z" fill="#FFC000"/>
<path d="M1922.74,175.01 C1950.29,148.64 1971.29,122.45 1995.00,54.35 C2018.71,122.45 2039.71,148.64 2067.26,175.01 A104.50,104.50 0 1 1 1922.74,175.01 Z" fill="#5B9BD5"/>
<path d="M1422.48,864.50 C1424.85,862.23 1426.66,859.97 1428.70,854.11 C1430.74,859.97 1432.55,862.23 1434.92,864.50 A9.00,9.00 0 1 1 1422.48,864.50 Z" fill="#A5A5A5"/>
<path d="M1577.68,826.66 C1586.38,818.33 1593.01,810.06 1600.50,788.56 C1607.99,810.06 1614.62,818.33 1623.32,826.66 A33.00,33.00 0 1 1 1577.68,826.66 Z" fill="#ED7D31"/>
<path d="M1732.86,747.16 C1753.43,727.47 1769.10,707.92 1786.80,657.09 C1804.50,707.92 1820.17,727.47 1840.74,747.16 A78.00,78.00 0 1 1 1732.86,747.16 Z" fill="#FFC000"/>
<path d="M1906.49,661.04 C1940.24,628.73 1965.95,596.65 1995.00,513.24 C2024.05,596.65 2049.76,628.73 2083.51,661.04 A128.00,128.00 0 1 1 1906.49,661.04 Z" fill="#5B9BD5"/>
<text x="1427" y="300" font-size="13" fill="#fff" text-anchor="middle" font-weight="bold" textLength="34" lengthAdjust="spacingAndGlyphs" >-15%</text>
<text x="1594" y="285" font-size="19.5" fill="#fff" text-anchor="middle" font-weight="bold" textLength="38" lengthAdjust="spacingAndGlyphs" >26%</text>
<text x="1790" y="273" font-size="21" fill="#fff" text-anchor="middle" font-weight="bold" textLength="43" lengthAdjust="spacingAndGlyphs" >36%</text>
<text x="1996" y="252" font-size="27" fill="#fff" text-anchor="middle" font-weight="bold" textLength="58" lengthAdjust="spacingAndGlyphs" >53%</text>
<text x="1428.5" y="874" font-size="5.5" fill="#fff" text-anchor="middle" font-weight="bold" textLength="14" lengthAdjust="spacingAndGlyphs" >.01%</text>
<text x="1602" y="857" font-size="18.5" fill="#fff" text-anchor="middle" font-weight="bold" textLength="42" lengthAdjust="spacingAndGlyphs" >4.9%</text>
<text x="1789" y="810" font-size="21" fill="#fff" text-anchor="middle" font-weight="bold" textLength="43" lengthAdjust="spacingAndGlyphs" >24%</text>
<text x="2000" y="757" font-size="29" fill="#fff" text-anchor="middle" font-weight="bold" textLength="57" lengthAdjust="spacingAndGlyphs" >71%</text>
<line x1="1367.5" y1="371.6" x2="2096" y2="371.6" stroke="#A9D18E" stroke-width="3.5"/>
<circle cx="1426" cy="371.6" r="8" fill="#A5A5A5"/>
<circle cx="1598" cy="371.6" r="8" fill="#ED7D31"/>
<circle cx="1790.6" cy="371.6" r="8" fill="#FFC000"/>
<circle cx="1999.7" cy="371.6" r="8" fill="#5B9BD5"/>
<line x1="1367.5" y1="895.3" x2="2096" y2="895.3" stroke="#A9D18E" stroke-width="3.5"/>
<circle cx="1429" cy="895.3" r="8" fill="#A5A5A5"/>
<circle cx="1601" cy="895.3" r="8" fill="#ED7D31"/>
<circle cx="1787.8" cy="895.3" r="8" fill="#FFC000"/>
<circle cx="1998.5" cy="895.3" r="8" fill="#5B9BD5"/>
<text x="1426.5" y="416.8" font-size="18.5" fill="#A5A5A5" text-anchor="middle" font-weight="bold" textLength="37.9" lengthAdjust="spacingAndGlyphs" >SWE</text>
<text x="1426.5" y="440.40000000000003" font-size="18.5" fill="#000" text-anchor="middle" font-weight="normal" textLength="60.6" lengthAdjust="spacingAndGlyphs" >-15% of</text>
<text x="1426.5" y="464.5" font-size="18.5" fill="#000" text-anchor="middle" font-weight="normal" >water</text>
<text x="1426.5" y="487.8" font-size="18.5" fill="#000" text-anchor="middle" font-weight="normal" textLength="58.9" lengthAdjust="spacingAndGlyphs" >storage</text>
<text x="1596.5" y="416.8" font-size="18.5" fill="#ED7D31" text-anchor="middle" font-weight="bold" textLength="36.1" lengthAdjust="spacingAndGlyphs" >SMS</text>
<text x="1596.5" y="440.40000000000003" font-size="18.5" fill="#000" text-anchor="middle" font-weight="normal" textLength="54.7" lengthAdjust="spacingAndGlyphs" >26% of</text>
<text x="1596.5" y="464.5" font-size="18.5" fill="#000" text-anchor="middle" font-weight="normal" >water</text>
<text x="1596.5" y="487.8" font-size="18.5" fill="#000" text-anchor="middle" font-weight="normal" textLength="58.9" lengthAdjust="spacingAndGlyphs" >storage</text>
<text x="1791" y="416.8" font-size="18.5" fill="#FFC000" text-anchor="middle" font-weight="bold" textLength="50.0" lengthAdjust="spacingAndGlyphs" >SWRS</text>
<text x="1791" y="440.40000000000003" font-size="18.5" fill="#000" text-anchor="middle" font-weight="normal" textLength="54.7" lengthAdjust="spacingAndGlyphs" >36% of</text>
<text x="1791" y="464.5" font-size="18.5" fill="#000" text-anchor="middle" font-weight="normal" >water</text>
<text x="1791" y="487.8" font-size="18.5" fill="#000" text-anchor="middle" font-weight="normal" textLength="58.9" lengthAdjust="spacingAndGlyphs" >storage</text>
<text x="1999" y="416.8" font-size="18.5" fill="#5B9BD5" text-anchor="middle" font-weight="bold" textLength="39.8" lengthAdjust="spacingAndGlyphs" >GWS</text>
<text x="1999" y="440.40000000000003" font-size="18.5" fill="#000" text-anchor="middle" font-weight="normal" textLength="54.7" lengthAdjust="spacingAndGlyphs" >53% of</text>
<text x="1999" y="464.5" font-size="18.5" fill="#000" text-anchor="middle" font-weight="normal" >water</text>
<text x="1999" y="487.8" font-size="18.5" fill="#000" text-anchor="middle" font-weight="normal" textLength="58.9" lengthAdjust="spacingAndGlyphs" >storage</text>
<text x="1429" y="941" font-size="18.5" fill="#A5A5A5" text-anchor="middle" font-weight="bold" textLength="37.9" lengthAdjust="spacingAndGlyphs" >SWE</text>
<text x="1429" y="964.6" font-size="18.5" fill="#000" text-anchor="middle" font-weight="normal" textLength="74.3" lengthAdjust="spacingAndGlyphs" >0.01 % of</text>
<text x="1429" y="988.7" font-size="18.5" fill="#000" text-anchor="middle" font-weight="normal" >water</text>
<text x="1429" y="1012" font-size="18.5" fill="#000" text-anchor="middle" font-weight="normal" textLength="58.9" lengthAdjust="spacingAndGlyphs" >storage</text>
<text x="1603" y="941" font-size="18.5" fill="#ED7D31" text-anchor="middle" font-weight="bold" textLength="36.1" lengthAdjust="spacingAndGlyphs" >SMS</text>
<text x="1603" y="964.6" font-size="18.5" fill="#000" text-anchor="middle" font-weight="normal" textLength="59.6" lengthAdjust="spacingAndGlyphs" >4.9% of</text>
<text x="1603" y="988.7" font-size="18.5" fill="#000" text-anchor="middle" font-weight="normal" >water</text>
<text x="1603" y="1012" font-size="18.5" fill="#000" text-anchor="middle" font-weight="normal" textLength="58.9" lengthAdjust="spacingAndGlyphs" >storage</text>
<text x="1787" y="941" font-size="18.5" fill="#FFC000" text-anchor="middle" font-weight="bold" textLength="50.0" lengthAdjust="spacingAndGlyphs" >SWRS</text>
<text x="1787" y="964.6" font-size="18.5" fill="#000" text-anchor="middle" font-weight="normal" textLength="54.7" lengthAdjust="spacingAndGlyphs" >24% of</text>
<text x="1787" y="988.7" font-size="18.5" fill="#000" text-anchor="middle" font-weight="normal" >water</text>
<text x="1787" y="1012" font-size="18.5" fill="#000" text-anchor="middle" font-weight="normal" textLength="58.9" lengthAdjust="spacingAndGlyphs" >storage</text>
<text x="1999" y="941" font-size="18.5" fill="#5B9BD5" text-anchor="middle" font-weight="bold" textLength="39.8" lengthAdjust="spacingAndGlyphs" >GWS</text>
<text x="1999" y="964.6" font-size="18.5" fill="#000" text-anchor="middle" font-weight="normal" textLength="54.7" lengthAdjust="spacingAndGlyphs" >71% of</text>
<text x="1999" y="988.7" font-size="18.5" fill="#000" text-anchor="middle" font-weight="normal" >water</text>
<text x="1999" y="1012" font-size="18.5" fill="#000" text-anchor="middle" font-weight="normal" textLength="58.9" lengthAdjust="spacingAndGlyphs" >storage</text>
<text x="25.7" y="1164.8" font-size="33.4" fill="#000" text-anchor="start" font-weight="normal" textLength="152.3" lengthAdjust="spacingAndGlyphs" >GRACE/FO</text>
<text x="186.5" y="1164.8" font-size="33.4" fill="#000" text-anchor="start" font-weight="normal" textLength="76.0" lengthAdjust="spacingAndGlyphs" >TWS</text>
<text x="270.1" y="1164.8" font-size="33.4" fill="#000" text-anchor="start" font-weight="normal" textLength="58.8" lengthAdjust="spacingAndGlyphs" >and</text>
<text x="335.6" y="1164.8" font-size="33.4" fill="#000" text-anchor="start" font-weight="normal" textLength="187.8" lengthAdjust="spacingAndGlyphs" >contributing</text>
<text x="530.5" y="1164.8" font-size="33.4" fill="#000" text-anchor="start" font-weight="normal" textLength="112.4" lengthAdjust="spacingAndGlyphs" >storage</text>
<text x="650.5" y="1164.8" font-size="33.4" fill="#000" text-anchor="start" font-weight="normal" textLength="201.0" lengthAdjust="spacingAndGlyphs" >components.</text>
<text x="857.0" y="1164.8" font-size="33.4" fill="#000" text-anchor="start" font-weight="normal" textLength="286.1" lengthAdjust="spacingAndGlyphs" >GRACE/FO-derived</text>
<text x="1149.9" y="1164.8" font-size="33.4" fill="#000" text-anchor="start" font-weight="normal" textLength="75.0" lengthAdjust="spacingAndGlyphs" >GWS</text>
<text x="1232.7" y="1164.8" font-size="33.4" fill="#000" text-anchor="start" font-weight="normal" textLength="124.0" lengthAdjust="spacingAndGlyphs" >changes</text>
<text x="1364.6" y="1164.8" font-size="33.4" fill="#000" text-anchor="start" font-weight="normal" textLength="84.6" lengthAdjust="spacingAndGlyphs" >along</text>
<text x="1457.4" y="1164.8" font-size="33.4" fill="#000" text-anchor="start" font-weight="normal" textLength="65.3" lengthAdjust="spacingAndGlyphs" >with</text>
<text x="1530.8" y="1164.8" font-size="33.4" fill="#000" text-anchor="start" font-weight="normal" textLength="78.7" lengthAdjust="spacingAndGlyphs" >SMS,</text>
<text x="1615.6" y="1164.8" font-size="33.4" fill="#000" text-anchor="start" font-weight="normal" textLength="69.6" lengthAdjust="spacingAndGlyphs" >SWE</text>
<text x="1693.1" y="1164.8" font-size="33.4" fill="#000" text-anchor="start" font-weight="normal" textLength="57.9" lengthAdjust="spacingAndGlyphs" >and</text>
<text x="1757.7" y="1164.8" font-size="33.4" fill="#000" text-anchor="start" font-weight="normal" textLength="87.3" lengthAdjust="spacingAndGlyphs" >SWRS</text>
<text x="1852.9" y="1164.8" font-size="33.4" fill="#000" text-anchor="start" font-weight="normal" textLength="124.4" lengthAdjust="spacingAndGlyphs" >changes</text>
<text x="25.3" y="1209.9" font-size="33.4" fill="#000" text-anchor="start" font-weight="normal" textLength="204.6" lengthAdjust="spacingAndGlyphs" >(2003–2024).</text>
<text x="236.4" y="1209.9" font-size="33.4" fill="#000" text-anchor="start" font-weight="normal" textLength="100.6" lengthAdjust="spacingAndGlyphs" >Trends</text>
<text x="345.0" y="1209.9" font-size="33.4" fill="#000" text-anchor="start" font-weight="normal" textLength="83.2" lengthAdjust="spacingAndGlyphs" >given</text>
<text x="434.2" y="1209.9" font-size="33.4" fill="#000" text-anchor="start" font-weight="normal" textLength="28.6" lengthAdjust="spacingAndGlyphs" >in</text>
<text x="472.4" y="1209.9" font-size="33.4" fill="#000" text-anchor="start" font-weight="normal" textLength="80.3" lengthAdjust="spacingAndGlyphs" >Table</text>
<text x="559.4" y="1209.9" font-size="33.4" fill="#000" text-anchor="start" font-weight="normal" textLength="30.6" lengthAdjust="spacingAndGlyphs" >1.</text>
<text x="596.1" y="1209.9" font-size="33.4" fill="#000" text-anchor="start" font-weight="normal" textLength="81.0" lengthAdjust="spacingAndGlyphs" >Units</text>
<text x="684.8" y="1209.9" font-size="33.4" fill="#000" text-anchor="start" font-weight="normal" textLength="30.3" lengthAdjust="spacingAndGlyphs" >of</text>
<text x="723.3" y="1209.9" font-size="33.4" fill="#000" text-anchor="start" font-weight="normal" textLength="126.5" lengthAdjust="spacingAndGlyphs" >monthly</text>
<text x="857.8" y="1209.9" font-size="33.4" fill="#000" text-anchor="start" font-weight="normal" textLength="193.0" lengthAdjust="spacingAndGlyphs" >nonseasonal</text>
<text x="1058.9" y="1209.9" font-size="33.4" fill="#000" text-anchor="start" font-weight="normal" textLength="147.0" lengthAdjust="spacingAndGlyphs" >variations</text>
<text x="1212.9" y="1209.9" font-size="33.4" fill="#000" text-anchor="start" font-weight="normal" textLength="28.6" lengthAdjust="spacingAndGlyphs" >in</text>
<text x="1251.9" y="1209.9" font-size="33.4" fill="#000" text-anchor="start" font-weight="normal" textLength="85.1" lengthAdjust="spacingAndGlyphs" >water</text>
<text x="1344.8" y="1209.9" font-size="33.4" fill="#000" text-anchor="start" font-weight="normal" textLength="77.8" lengthAdjust="spacingAndGlyphs" >mass</text>
<text x="1430.6" y="1209.9" font-size="33.4" fill="#000" text-anchor="start" font-weight="normal" textLength="49.6" lengthAdjust="spacingAndGlyphs" >are</text>
<text x="1486.9" y="1209.9" font-size="33.4" fill="#000" text-anchor="start" font-weight="normal" textLength="28.6" lengthAdjust="spacingAndGlyphs" >in</text>
<text x="1524.2" y="1209.9" font-size="33.4" fill="#000" text-anchor="start" font-weight="normal" textLength="79.5" lengthAdjust="spacingAndGlyphs" >km3,</text>
<text x="1609.3" y="1209.9" font-size="33.4" fill="#000" text-anchor="start" font-weight="normal" textLength="139.1" lengthAdjust="spacingAndGlyphs" >averaged</text>
<text x="1755.3" y="1209.9" font-size="33.4" fill="#000" text-anchor="start" font-weight="normal" textLength="65.0" lengthAdjust="spacingAndGlyphs" >over</text>
<text x="1829.7" y="1209.9" font-size="33.4" fill="#000" text-anchor="start" font-weight="normal" textLength="51.1" lengthAdjust="spacingAndGlyphs" >the</text>
<text x="1890.3" y="1209.9" font-size="33.4" fill="#000" text-anchor="start" font-weight="normal" textLength="43.4" lengthAdjust="spacingAndGlyphs" >(a)</text>
<text x="1939.3" y="1209.9" font-size="33.4" fill="#000" text-anchor="start" font-weight="normal" textLength="84.7" lengthAdjust="spacingAndGlyphs" >UCRB</text>
<text x="2031.8" y="1209.9" font-size="33.4" fill="#000" text-anchor="start" font-weight="normal" textLength="58.3" lengthAdjust="spacingAndGlyphs" >and</text>
<text x="25.3" y="1255.0" font-size="33.4" fill="#000" text-anchor="start" font-weight="normal" textLength="44.9" lengthAdjust="spacingAndGlyphs" >(b)</text>
<text x="76.0" y="1255.0" font-size="33.4" fill="#000" text-anchor="start" font-weight="normal" textLength="86.4" lengthAdjust="spacingAndGlyphs" >LCRB.</text>
<text x="169.7" y="1255.0" font-size="33.4" fill="#000" text-anchor="start" font-weight="normal" textLength="57.9" lengthAdjust="spacingAndGlyphs" >The</text>
<text x="234.4" y="1255.0" font-size="33.4" fill="#000" text-anchor="start" font-weight="normal" textLength="66.3" lengthAdjust="spacingAndGlyphs" >light</text>
<text x="309.9" y="1255.0" font-size="33.4" fill="#000" text-anchor="start" font-weight="normal" textLength="124.8" lengthAdjust="spacingAndGlyphs" >shading</text>
<text x="440.6" y="1255.0" font-size="33.4" fill="#000" text-anchor="start" font-weight="normal" textLength="157.6" lengthAdjust="spacingAndGlyphs" >represents</text>
<text x="605.3" y="1255.0" font-size="33.4" fill="#000" text-anchor="start" font-weight="normal" textLength="182.8" lengthAdjust="spacingAndGlyphs" >uncertainty.</text>
<text x="794.5" y="1255.0" font-size="33.4" fill="#000" text-anchor="start" font-weight="normal" textLength="57.7" lengthAdjust="spacingAndGlyphs" >The</text>
<text x="859.1" y="1255.0" font-size="33.4" fill="#000" text-anchor="start" font-weight="normal" textLength="71.5" lengthAdjust="spacingAndGlyphs" >right</text>
<text x="939.0" y="1255.0" font-size="33.4" fill="#000" text-anchor="start" font-weight="normal" textLength="85.9" lengthAdjust="spacingAndGlyphs" >panel</text>
<text x="1030.8" y="1255.0" font-size="33.4" fill="#000" text-anchor="start" font-weight="normal" textLength="107.7" lengthAdjust="spacingAndGlyphs" >reveals</text>
<text x="1147.3" y="1255.0" font-size="33.4" fill="#000" text-anchor="start" font-weight="normal" textLength="51.1" lengthAdjust="spacingAndGlyphs" >the</text>
<text x="1206.1" y="1255.0" font-size="33.4" fill="#000" text-anchor="start" font-weight="normal" textLength="204.1" lengthAdjust="spacingAndGlyphs" >contributions</text>
<text x="1417.2" y="1255.0" font-size="33.4" fill="#000" text-anchor="start" font-weight="normal" textLength="50.6" lengthAdjust="spacingAndGlyphs" >(%)</text>
<text x="1475.0" y="1255.0" font-size="33.4" fill="#000" text-anchor="start" font-weight="normal" textLength="27.6" lengthAdjust="spacingAndGlyphs" >of</text>
<text x="1512.7" y="1255.0" font-size="33.4" fill="#000" text-anchor="start" font-weight="normal" textLength="51.1" lengthAdjust="spacingAndGlyphs" >the</text>
<text x="1573.8" y="1255.0" font-size="33.4" fill="#000" text-anchor="start" font-weight="normal" textLength="130.9" lengthAdjust="spacingAndGlyphs" >different</text>
<text x="1714.8" y="1255.0" font-size="33.4" fill="#000" text-anchor="start" font-weight="normal" textLength="85.1" lengthAdjust="spacingAndGlyphs" >water</text>
<text x="1809.0" y="1255.0" font-size="33.4" fill="#000" text-anchor="start" font-weight="normal" textLength="111.5" lengthAdjust="spacingAndGlyphs" >storage</text>
<text x="26.0" y="1300.2" font-size="33.4" fill="#000" text-anchor="start" font-weight="normal" textLength="199.3" lengthAdjust="spacingAndGlyphs" >components.</text>
</svg>
</body></html>
